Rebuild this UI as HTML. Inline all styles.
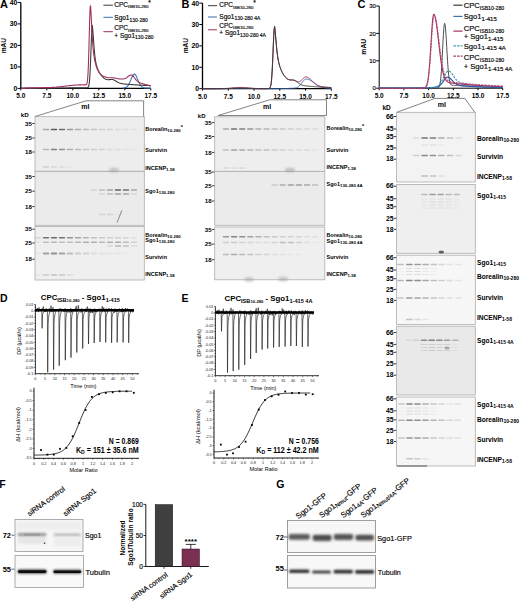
<!DOCTYPE html>
<html><head><meta charset="utf-8"><style>
html,body{margin:0;padding:0;background:#fff;}
svg{display:block;}
text{font-family:"Liberation Sans", sans-serif;}
text:not([font-weight="bold"]){stroke:#000;stroke-width:0.15px;}
</style></head><body>
<svg width="520" height="601" viewBox="0 0 520 601">
<defs>
<filter id="blur1" filterUnits="userSpaceOnUse" x="0" y="0" width="520" height="601"><feGaussianBlur stdDeviation="0.35"/></filter>
<filter id="blur2" filterUnits="userSpaceOnUse" x="0" y="0" width="520" height="601"><feGaussianBlur stdDeviation="0.9"/></filter>
</defs>
<rect width="520" height="601" fill="#fff"/>
<line x1="20.8" y1="2.4000000000000057" x2="20.8" y2="88.4" stroke="#000" stroke-width="1.3"/>
<line x1="20.8" y1="88.4" x2="150.8" y2="88.4" stroke="#000" stroke-width="1.3"/>
<line x1="17.6" y1="88.4" x2="20.8" y2="88.4" stroke="#000" stroke-width="1"/>
<text x="17.3" y="90.848" font-size="6.8" font-weight="bold" text-anchor="end" fill="#000" >0</text>
<line x1="17.6" y1="66.9" x2="20.8" y2="66.9" stroke="#000" stroke-width="1"/>
<text x="17.3" y="69.348" font-size="6.8" font-weight="bold" text-anchor="end" fill="#000" >10</text>
<line x1="17.6" y1="45.400000000000006" x2="20.8" y2="45.400000000000006" stroke="#000" stroke-width="1"/>
<text x="17.3" y="47.848000000000006" font-size="6.8" font-weight="bold" text-anchor="end" fill="#000" >20</text>
<line x1="17.6" y1="23.900000000000006" x2="20.8" y2="23.900000000000006" stroke="#000" stroke-width="1"/>
<text x="17.3" y="26.348000000000006" font-size="6.8" font-weight="bold" text-anchor="end" fill="#000" >30</text>
<line x1="17.6" y1="2.4000000000000057" x2="20.8" y2="2.4000000000000057" stroke="#000" stroke-width="1"/>
<text x="17.3" y="4.848000000000006" font-size="6.8" font-weight="bold" text-anchor="end" fill="#000" >40</text>
<line x1="20.8" y1="88.4" x2="20.8" y2="90.4" stroke="#000" stroke-width="1"/>
<text x="20.8" y="98.4" font-size="6.5" font-weight="bold" text-anchor="middle" fill="#000" >5.0</text>
<line x1="46.8" y1="88.4" x2="46.8" y2="90.4" stroke="#000" stroke-width="1"/>
<text x="46.8" y="98.4" font-size="6.5" font-weight="bold" text-anchor="middle" fill="#000" >7.5</text>
<line x1="72.8" y1="88.4" x2="72.8" y2="90.4" stroke="#000" stroke-width="1"/>
<text x="72.8" y="98.4" font-size="6.5" font-weight="bold" text-anchor="middle" fill="#000" >10.0</text>
<line x1="98.8" y1="88.4" x2="98.8" y2="90.4" stroke="#000" stroke-width="1"/>
<text x="98.8" y="98.4" font-size="6.5" font-weight="bold" text-anchor="middle" fill="#000" >12.5</text>
<line x1="124.8" y1="88.4" x2="124.8" y2="90.4" stroke="#000" stroke-width="1"/>
<text x="124.8" y="98.4" font-size="6.5" font-weight="bold" text-anchor="middle" fill="#000" >15.0</text>
<line x1="150.8" y1="88.4" x2="150.8" y2="90.4" stroke="#000" stroke-width="1"/>
<text x="150.8" y="98.4" font-size="6.5" font-weight="bold" text-anchor="middle" fill="#000" >17.5</text>
<text x="0" y="7.8" font-size="11" font-weight="bold" text-anchor="start" fill="#000" >A</text>
<text x="0" y="0" font-size="6.6" font-weight="bold" text-anchor="middle" transform="translate(6.4,45.6) rotate(-90)">mAU</text>
<polyline points="122.72,88.03 122.81,88.03 122.91,88.02 123.00,88.02 123.09,88.01 123.19,88.01 123.28,88.00 123.38,87.99 123.47,87.99 123.56,87.98 123.66,87.97 123.75,87.96 123.84,87.95 123.94,87.94 124.03,87.93 124.12,87.92 124.22,87.90 124.31,87.89 124.40,87.87 124.50,87.85 124.59,87.84 124.69,87.82 124.78,87.80 124.87,87.77 124.97,87.75 125.06,87.72 125.15,87.70 125.25,87.67 125.34,87.64 125.43,87.61 125.53,87.57 125.62,87.53 125.72,87.50 125.81,87.45 125.90,87.41 126.00,87.36 126.09,87.32 126.18,87.26 126.28,87.21 126.37,87.15 126.46,87.09 126.56,87.03 126.65,86.96 126.74,86.89 126.84,86.82 126.93,86.74 127.03,86.66 127.12,86.58 127.21,86.49 127.31,86.39 127.40,86.30 127.49,86.20 127.59,86.09 127.68,85.98 127.77,85.87 127.87,85.75 127.96,85.63 128.06,85.50 128.15,85.37 128.24,85.24 128.34,85.10 128.43,84.95 128.52,84.80 128.62,84.65 128.71,84.49 128.80,84.32 128.90,84.15 128.99,83.98 129.08,83.80 129.18,83.62 129.27,83.44 129.37,83.25 129.46,83.05 129.55,82.85 129.65,82.65 129.74,82.45 129.83,82.24 129.93,82.03 130.02,81.81 130.11,81.59 130.21,81.37 130.30,81.15 130.40,80.93 130.49,80.70 130.58,80.47 130.68,80.24 130.77,80.01 130.86,79.78 130.96,79.55 131.05,79.32 131.14,79.09 131.24,78.86 131.33,78.63 131.42,78.40 131.52,78.18 131.61,77.95 131.71,77.73 131.80,77.52 131.89,77.30 131.99,77.09 132.08,76.89 132.17,76.69 132.27,76.49 132.36,76.30 132.45,76.11 132.55,75.94 132.64,75.76 132.74,75.60 132.83,75.44 132.92,75.29 133.02,75.15 133.11,75.01 133.20,74.88 133.30,74.77 133.39,74.66 133.48,74.56 133.58,74.47 133.67,74.39 133.76,74.32 133.86,74.26 133.95,74.20 134.05,74.16 134.14,74.13 134.23,74.11 134.33,74.10 134.42,74.10 134.51,74.12 134.61,74.14 134.70,74.17 134.79,74.21 134.89,74.26 134.98,74.32 135.08,74.40 135.17,74.48 135.26,74.57 135.36,74.67 135.45,74.78 135.54,74.90 135.64,75.03 135.73,75.16 135.82,75.31 135.92,75.46 136.01,75.62 136.10,75.78 136.20,75.96 136.29,76.13 136.39,76.32 136.48,76.51 136.57,76.71 136.67,76.91 136.76,77.12 136.85,77.33 136.95,77.54 137.04,77.76 137.13,77.98 137.23,78.20 137.32,78.43 137.42,78.65 137.51,78.88 137.60,79.11 137.70,79.34 137.79,79.58 137.88,79.81 137.98,80.04 138.07,80.27 138.16,80.50 138.26,80.72 138.35,80.95 138.44,81.18 138.54,81.40 138.63,81.62 138.73,81.84 138.82,82.05 138.91,82.26 139.01,82.47 139.10,82.68 139.19,82.88 139.29,83.07 139.38,83.27 139.47,83.46 139.57,83.64 139.66,83.82 139.76,84.00 139.85,84.17 139.94,84.34 140.04,84.50 140.13,84.66 140.22,84.82 140.32,84.97 140.41,85.11 140.50,85.25 140.60,85.39 140.69,85.52 140.78,85.64 140.88,85.77 140.97,85.88 141.07,86.00 141.16,86.10 141.25,86.21 141.35,86.31 141.44,86.41 141.53,86.50 141.63,86.59 141.72,86.67 141.81,86.75 141.91,86.83 142.00,86.90 142.10,86.97 142.19,87.04 142.28,87.10 142.38,87.16 142.47,87.22 142.56,87.27 142.66,87.32 142.75,87.37 142.84,87.42 142.94,87.46 143.03,87.50 143.12,87.54 143.22,87.57 143.31,87.61 143.41,87.64 143.50,87.67 143.59,87.70 143.69,87.73 143.78,87.75 143.87,87.78 143.97,87.80 144.06,87.82 144.15,87.84 144.25,87.86 144.34,87.87 144.44,87.89 144.53,87.90 144.62,87.92 144.72,87.93 144.81,87.94 144.90,87.95 145.00,87.96 145.09,87.97 145.18,87.98 145.28,87.99 145.37,88.00 145.46,88.00 145.56,88.01 145.65,88.01 145.75,88.02 145.84,88.03 145.93,88.03 146.03,88.03 146.12,88.04 146.21,88.04 146.31,88.04 146.40,88.05 146.49,88.05 146.59,88.05 146.68,88.06 146.78,88.06 146.87,88.06 146.96,88.06 147.06,88.06 147.15,88.06 147.24,88.07 147.34,88.07 147.43,88.07 147.52,88.07 147.62,88.07 147.71,88.07 147.80,88.07 147.90,88.07 147.99,88.07 148.09,88.07 148.18,88.07 148.27,88.07 148.37,88.07 148.46,88.07 148.55,88.07 148.65,88.08 148.74,88.08 148.83,88.08 148.93,88.08 149.02,88.08 149.12,88.08 149.21,88.08 149.30,88.08 149.40,88.08 149.49,88.08 149.58,88.08 149.68,88.08 149.77,88.08 149.86,88.08 149.96,88.08 150.05,88.08 150.14,88.08 150.24,88.08 150.33,88.08 150.43,88.08 150.52,88.08 150.61,88.08 150.71,88.08 150.80,88.08" fill="none" stroke="#3a6fb5" stroke-width="1.1" stroke-linejoin="round"/>
<polyline points="20.80,88.39 21.23,88.39 21.67,88.39 22.10,88.39 22.53,88.38 22.97,88.38 23.40,88.38 23.83,88.38 24.27,88.38 24.70,88.38 25.13,88.38 25.57,88.38 26.00,88.38 26.43,88.38 26.87,88.38 27.30,88.37 27.73,88.37 28.17,88.37 28.60,88.37 29.03,88.37 29.47,88.37 29.90,88.36 30.33,88.36 30.77,88.36 31.20,88.36 31.63,88.36 32.07,88.36 32.50,88.35 32.93,88.35 33.37,88.35 33.80,88.35 34.23,88.34 34.67,88.34 35.10,88.34 35.53,88.33 35.97,88.33 36.40,88.33 36.83,88.33 37.27,88.32 37.70,88.32 38.13,88.31 38.57,88.31 39.00,88.31 39.43,88.30 39.87,88.30 40.30,88.29 40.73,88.29 41.17,88.29 41.60,88.28 42.03,88.28 42.47,88.27 42.90,88.27 43.33,88.26 43.77,88.25 44.20,88.25 44.63,88.24 45.07,88.24 45.50,88.23 45.93,88.23 46.37,88.22 46.80,88.21 47.23,88.21 47.67,88.20 48.10,88.19 48.53,88.19 48.97,88.18 49.40,88.17 49.83,88.17 50.27,88.16 50.70,88.15 51.13,88.15 51.57,88.14 52.00,88.13 52.43,88.12 52.87,88.12 53.30,88.11 53.73,88.10 54.17,88.10 54.60,88.09 55.03,88.08 55.47,88.08 55.90,88.07 56.33,88.06 56.77,88.06 57.20,88.05 57.63,88.04 58.07,88.04 58.50,88.03 58.93,88.03 59.37,88.02 59.80,88.01 60.23,88.01 60.67,88.00 61.10,88.00 61.53,87.99 61.97,87.99 62.40,87.98 62.83,87.98 63.27,87.97 63.70,87.97 64.13,87.96 64.57,87.96 65.00,87.96 65.43,87.95 65.87,87.95 66.30,87.94 66.73,87.94 67.17,87.94 67.60,87.93 68.03,87.93 68.47,87.93 68.90,87.92 69.33,87.92 69.77,87.92 70.20,87.92 70.63,87.91 71.07,87.91 71.50,87.91 71.93,87.91 72.37,87.91 72.80,87.90 73.23,87.90 73.67,87.90 74.10,87.90 74.53,87.90 74.97,87.89 75.40,87.89 75.83,87.89 76.27,87.89 76.70,87.89 77.13,87.89 77.57,87.89 78.00,87.88 78.43,87.88 78.87,87.88 79.30,87.88 79.73,87.88 80.17,87.88 80.60,87.88 81.03,87.87 81.47,87.87 81.90,87.87 82.33,87.87 82.77,87.86 83.20,87.86 83.63,87.86 84.07,87.85 84.50,87.85 84.93,87.84 85.37,87.83 85.80,87.83 86.23,87.81 86.67,87.79 87.10,87.76 87.53,87.66 87.97,87.43 88.40,86.86 88.83,85.60 89.27,83.07 89.70,78.56 90.13,71.44 90.57,61.59 91.00,49.84 91.43,38.15 91.87,29.14 92.30,25.19 92.73,29.22 93.17,34.80 93.60,40.84 94.03,46.73 94.47,51.93 94.90,56.20 95.33,59.54 95.77,62.12 96.20,64.14 96.63,65.78 97.07,67.17 97.50,68.38 97.93,69.47 98.37,70.45 98.80,71.34 99.23,72.17 99.67,72.93 100.10,73.64 100.53,74.30 100.97,74.92 101.40,75.49 101.83,76.03 102.27,76.53 102.70,76.99 103.13,77.41 103.57,77.80 104.00,78.15 104.43,78.46 104.87,78.74 105.30,78.98 105.73,79.18 106.17,79.35 106.60,79.49 107.03,79.58 107.47,79.65 107.90,79.68 108.33,79.69 108.77,79.67 109.20,79.64 109.63,79.60 110.07,79.55 110.50,79.51 110.93,79.48 111.37,79.46 111.80,79.47 112.23,79.51 112.67,79.58 113.10,79.68 113.53,79.81 113.97,79.98 114.40,80.18 114.83,80.40 115.27,80.65 115.70,80.91 116.13,81.17 116.57,81.44 117.00,81.71 117.43,81.96 117.87,82.21 118.30,82.44 118.73,82.65 119.17,82.84 119.60,83.01 120.03,83.16 120.47,83.30 120.90,83.41 121.33,83.52 121.77,83.61 122.20,83.69 122.63,83.76 123.07,83.82 123.50,83.88 123.93,83.93 124.37,83.98 124.80,84.03 125.23,84.07 125.67,84.11 126.10,84.15 126.53,84.19 126.97,84.23 127.40,84.26 127.83,84.30 128.27,84.33 128.70,84.37 129.13,84.40 129.57,84.44 130.00,84.47 130.43,84.50 130.87,84.53 131.30,84.57 131.73,84.60 132.17,84.63 132.60,84.66 133.03,84.69 133.47,84.72 133.90,84.75 134.33,84.78 134.77,84.81 135.20,84.83 135.63,84.86 136.07,84.89 136.50,84.92 136.93,84.95 137.37,84.97 137.80,85.00 138.23,85.03 138.67,85.05 139.10,85.08 139.53,85.10 139.97,85.13 140.40,85.16 140.83,85.18 141.27,85.21 141.70,85.23 142.13,85.25 142.57,85.28 143.00,85.30 143.43,85.33 143.87,85.35 144.30,85.37 144.73,85.40 145.17,85.42 145.60,85.44 146.03,85.46 146.47,85.49 146.90,85.51 147.33,85.53 147.77,85.55 148.20,85.57 148.63,85.59 149.07,85.61 149.50,85.63 149.93,85.66 150.37,85.68 150.80,85.70" fill="none" stroke="#3a3a3a" stroke-width="1.1" stroke-linejoin="round"/>
<polyline points="20.80,88.30 21.23,88.28 21.67,88.27 22.10,88.25 22.53,88.24 22.97,88.22 23.40,88.20 23.83,88.18 24.27,88.16 24.70,88.14 25.13,88.12 25.57,88.09 26.00,88.07 26.43,88.05 26.87,88.03 27.30,88.00 27.73,87.98 28.17,87.96 28.60,87.94 29.03,87.92 29.47,87.90 29.90,87.89 30.33,87.87 30.77,87.86 31.20,87.84 31.63,87.83 32.07,87.82 32.50,87.81 32.93,87.80 33.37,87.79 33.80,87.78 34.23,87.78 34.67,87.77 35.10,87.76 35.53,87.76 35.97,87.75 36.40,87.75 36.83,87.74 37.27,87.74 37.70,87.73 38.13,87.73 38.57,87.72 39.00,87.72 39.43,87.72 39.87,87.71 40.30,87.71 40.73,87.70 41.17,87.70 41.60,87.69 42.03,87.69 42.47,87.68 42.90,87.67 43.33,87.67 43.77,87.66 44.20,87.65 44.63,87.65 45.07,87.64 45.50,87.63 45.93,87.62 46.37,87.61 46.80,87.60 47.23,87.59 47.67,87.58 48.10,87.57 48.53,87.56 48.97,87.54 49.40,87.53 49.83,87.51 50.27,87.50 50.70,87.48 51.13,87.46 51.57,87.44 52.00,87.42 52.43,87.40 52.87,87.38 53.30,87.36 53.73,87.33 54.17,87.31 54.60,87.28 55.03,87.25 55.47,87.22 55.90,87.19 56.33,87.15 56.77,87.12 57.20,87.08 57.63,87.04 58.07,87.01 58.50,86.96 58.93,86.92 59.37,86.88 59.80,86.83 60.23,86.79 60.67,86.74 61.10,86.69 61.53,86.64 61.97,86.59 62.40,86.54 62.83,86.48 63.27,86.43 63.70,86.38 64.13,86.32 64.57,86.27 65.00,86.21 65.43,86.15 65.87,86.10 66.30,86.04 66.73,85.99 67.17,85.93 67.60,85.88 68.03,85.82 68.47,85.77 68.90,85.72 69.33,85.67 69.77,85.62 70.20,85.57 70.63,85.52 71.07,85.47 71.50,85.43 71.93,85.38 72.37,85.34 72.80,85.30 73.23,85.26 73.67,85.22 74.10,85.19 74.53,85.15 74.97,85.12 75.40,85.09 75.83,85.06 76.27,85.03 76.70,85.01 77.13,84.98 77.57,84.96 78.00,84.94 78.43,84.92 78.87,84.90 79.30,84.88 79.73,84.87 80.17,84.86 80.60,84.85 81.03,84.84 81.47,84.83 81.90,84.82 82.33,84.82 82.77,84.82 83.20,84.82 83.63,84.83 84.07,84.83 84.50,84.84 84.93,84.85 85.37,84.85 85.80,84.81 86.23,84.66 86.67,84.17 87.10,82.89 87.53,80.01 87.97,74.40 88.40,64.93 88.83,51.31 89.27,34.84 89.70,18.81 90.13,7.58 90.57,5.71 91.00,12.60 91.43,20.81 91.87,29.35 92.30,37.21 92.73,43.81 93.17,49.02 93.60,53.05 94.03,56.22 94.47,58.82 94.90,61.03 95.33,62.95 95.77,64.64 96.20,66.13 96.63,67.45 97.07,68.61 97.50,69.63 97.93,70.53 98.37,71.31 98.80,72.00 99.23,72.61 99.67,73.15 100.10,73.64 100.53,74.07 100.97,74.46 101.40,74.81 101.83,75.14 102.27,75.44 102.70,75.71 103.13,75.96 103.57,76.20 104.00,76.42 104.43,76.62 104.87,76.80 105.30,76.97 105.73,77.12 106.17,77.26 106.60,77.38 107.03,77.49 107.47,77.58 107.90,77.65 108.33,77.71 108.77,77.75 109.20,77.78 109.63,77.80 110.07,77.81 110.50,77.80 110.93,77.80 111.37,77.79 111.80,77.79 112.23,77.80 112.67,77.81 113.10,77.84 113.53,77.87 113.97,77.92 114.40,77.99 114.83,78.06 115.27,78.15 115.70,78.24 116.13,78.33 116.57,78.42 117.00,78.51 117.43,78.60 117.87,78.68 118.30,78.75 118.73,78.82 119.17,78.87 119.60,78.92 120.03,78.95 120.47,78.98 120.90,79.00 121.33,79.01 121.77,79.01 122.20,79.00 122.63,78.97 123.07,78.94 123.50,78.88 123.93,78.80 124.37,78.70 124.80,78.56 125.23,78.40 125.67,78.19 126.10,77.96 126.53,77.69 126.97,77.39 127.40,77.06 127.83,76.73 128.27,76.38 128.70,76.05 129.13,75.75 129.57,75.49 130.00,75.28 130.43,75.13 130.87,75.07 131.30,75.07 131.73,75.16 132.17,75.32 132.60,75.54 133.03,75.82 133.47,76.37 133.90,76.99 134.33,77.61 134.77,78.21 135.20,78.79 135.63,79.34 136.07,79.84 136.50,80.31 136.93,80.73 137.37,81.11 137.80,81.45 138.23,81.76 138.67,82.03 139.10,82.28 139.53,82.51 139.97,82.72 140.40,82.91 140.83,83.09 141.27,83.26 141.70,83.42 142.13,83.57 142.57,83.72 143.00,83.85 143.43,83.99 143.87,84.12 144.30,84.24 144.73,84.36 145.17,84.48 145.60,84.59 146.03,84.70 146.47,84.80 146.90,84.90 147.33,85.00 147.77,85.10 148.20,85.19 148.63,85.27 149.07,85.36 149.50,85.44 149.93,85.52 150.37,85.60 150.80,85.67" fill="none" stroke="#a03060" stroke-width="1.1" stroke-linejoin="round"/>
<line x1="103.4" y1="5.2" x2="112.9" y2="5.2" stroke="#3a3a3a" stroke-width="1.0"/>
<line x1="103.4" y1="17.3" x2="112.9" y2="17.3" stroke="#3a6fb5" stroke-width="1.0"/>
<line x1="103.4" y1="31.7" x2="112.9" y2="31.7" stroke="#a03060" stroke-width="1.0"/>
<text x="114.3" y="6.7" font-size="6.5">CPC<tspan font-size="4.3" dy="1.5">ISB10-280</tspan><tspan dy="-3.5">*</tspan></text>
<text x="114.3" y="20.2" font-size="6.5">Sgo1<tspan font-size="5" dy="1.5">130-280</tspan></text>
<text x="114.3" y="30.2" font-size="6.5">CPC<tspan font-size="4.3" dy="1.5">ISB10-280</tspan></text>
<text x="114.3" y="37.5" font-size="6.5">+ Sgo1<tspan font-size="5" dy="1.5">130-280</tspan></text>
<line x1="202.5" y1="3.0999999999999943" x2="202.5" y2="88.7" stroke="#000" stroke-width="1.3"/>
<line x1="202.5" y1="88.7" x2="331.3" y2="88.7" stroke="#000" stroke-width="1.3"/>
<line x1="199.3" y1="88.7" x2="202.5" y2="88.7" stroke="#000" stroke-width="1"/>
<text x="199.0" y="91.148" font-size="6.8" font-weight="bold" text-anchor="end" fill="#000" >0</text>
<line x1="199.3" y1="67.3" x2="202.5" y2="67.3" stroke="#000" stroke-width="1"/>
<text x="199.0" y="69.74799999999999" font-size="6.8" font-weight="bold" text-anchor="end" fill="#000" >10</text>
<line x1="199.3" y1="45.9" x2="202.5" y2="45.9" stroke="#000" stroke-width="1"/>
<text x="199.0" y="48.348" font-size="6.8" font-weight="bold" text-anchor="end" fill="#000" >20</text>
<line x1="199.3" y1="24.5" x2="202.5" y2="24.5" stroke="#000" stroke-width="1"/>
<text x="199.0" y="26.948" font-size="6.8" font-weight="bold" text-anchor="end" fill="#000" >30</text>
<line x1="199.3" y1="3.0999999999999943" x2="202.5" y2="3.0999999999999943" stroke="#000" stroke-width="1"/>
<text x="199.0" y="5.547999999999995" font-size="6.8" font-weight="bold" text-anchor="end" fill="#000" >40</text>
<line x1="202.5" y1="88.7" x2="202.5" y2="90.7" stroke="#000" stroke-width="1"/>
<text x="202.5" y="98.7" font-size="6.5" font-weight="bold" text-anchor="middle" fill="#000" >5.0</text>
<line x1="228.26" y1="88.7" x2="228.26" y2="90.7" stroke="#000" stroke-width="1"/>
<text x="228.26" y="98.7" font-size="6.5" font-weight="bold" text-anchor="middle" fill="#000" >7.5</text>
<line x1="254.02" y1="88.7" x2="254.02" y2="90.7" stroke="#000" stroke-width="1"/>
<text x="254.02" y="98.7" font-size="6.5" font-weight="bold" text-anchor="middle" fill="#000" >10.0</text>
<line x1="279.78" y1="88.7" x2="279.78" y2="90.7" stroke="#000" stroke-width="1"/>
<text x="279.78" y="98.7" font-size="6.5" font-weight="bold" text-anchor="middle" fill="#000" >12.5</text>
<line x1="305.54" y1="88.7" x2="305.54" y2="90.7" stroke="#000" stroke-width="1"/>
<text x="305.54" y="98.7" font-size="6.5" font-weight="bold" text-anchor="middle" fill="#000" >15.0</text>
<line x1="331.3" y1="88.7" x2="331.3" y2="90.7" stroke="#000" stroke-width="1"/>
<text x="331.3" y="98.7" font-size="6.5" font-weight="bold" text-anchor="middle" fill="#000" >17.5</text>
<text x="181.5" y="7.8" font-size="11" font-weight="bold" text-anchor="start" fill="#000" >B</text>
<text x="0" y="0" font-size="6.6" font-weight="bold" text-anchor="middle" transform="translate(188,45.6) rotate(-90)">mAU</text>
<polyline points="202.50,88.70 202.93,88.70 203.36,88.70 203.79,88.70 204.22,88.70 204.65,88.70 205.08,88.70 205.51,88.70 205.93,88.70 206.36,88.70 206.79,88.70 207.22,88.70 207.65,88.70 208.08,88.70 208.51,88.70 208.94,88.70 209.37,88.70 209.80,88.70 210.23,88.70 210.66,88.70 211.09,88.70 211.52,88.70 211.95,88.70 212.37,88.70 212.80,88.70 213.23,88.70 213.66,88.70 214.09,88.70 214.52,88.70 214.95,88.70 215.38,88.70 215.81,88.70 216.24,88.69 216.67,88.69 217.10,88.69 217.53,88.69 217.96,88.69 218.39,88.69 218.81,88.69 219.24,88.69 219.67,88.68 220.10,88.68 220.53,88.68 220.96,88.68 221.39,88.67 221.82,88.67 222.25,88.66 222.68,88.66 223.11,88.66 223.54,88.65 223.97,88.64 224.40,88.64 224.83,88.63 225.25,88.62 225.68,88.62 226.11,88.61 226.54,88.60 226.97,88.59 227.40,88.58 227.83,88.57 228.26,88.56 228.69,88.55 229.12,88.54 229.55,88.53 229.98,88.51 230.41,88.50 230.84,88.49 231.27,88.48 231.69,88.46 232.12,88.45 232.55,88.43 232.98,88.42 233.41,88.41 233.84,88.39 234.27,88.38 234.70,88.37 235.13,88.36 235.56,88.35 235.99,88.33 236.42,88.32 236.85,88.31 237.28,88.31 237.71,88.30 238.13,88.29 238.56,88.29 238.99,88.28 239.42,88.28 239.85,88.27 240.28,88.27 240.71,88.27 241.14,88.27 241.57,88.27 242.00,88.28 242.43,88.28 242.86,88.29 243.29,88.29 243.72,88.30 244.15,88.31 244.57,88.32 245.00,88.33 245.43,88.34 245.86,88.35 246.29,88.36 246.72,88.37 247.15,88.39 247.58,88.40 248.01,88.41 248.44,88.43 248.87,88.44 249.30,88.45 249.73,88.47 250.16,88.48 250.59,88.49 251.01,88.51 251.44,88.52 251.87,88.53 252.30,88.54 252.73,88.55 253.16,88.56 253.59,88.57 254.02,88.58 254.45,88.59 254.88,88.60 255.31,88.61 255.74,88.62 256.17,88.63 256.60,88.63 257.03,88.64 257.45,88.64 257.88,88.65 258.31,88.65 258.74,88.66 259.17,88.66 259.60,88.67 260.03,88.67 260.46,88.67 260.89,88.68 261.32,88.68 261.75,88.68 262.18,88.68 262.61,88.68 263.04,88.68 263.47,88.68 263.89,88.69 264.32,88.69 264.75,88.69 265.18,88.69 265.61,88.69 266.04,88.69 266.47,88.69 266.90,88.69 267.33,88.69 267.76,88.69 268.19,88.69 268.62,88.68 269.05,88.68 269.48,88.68 269.91,88.68 270.33,88.68 270.76,88.68 271.19,88.68 271.62,88.68 272.05,88.67 272.48,88.67 272.91,88.67 273.34,88.67 273.77,88.67 274.20,88.66 274.63,88.66 275.06,88.66 275.49,88.66 275.92,88.65 276.35,88.65 276.77,88.65 277.20,88.64 277.63,88.64 278.06,88.64 278.49,88.63 278.92,88.63 279.35,88.62 279.78,88.62 280.21,88.61 280.64,88.60 281.07,88.60 281.50,88.59 281.93,88.58 282.36,88.58 282.79,88.57 283.21,88.56 283.64,88.55 284.07,88.54 284.50,88.53 284.93,88.52 285.36,88.51 285.79,88.50 286.22,88.49 286.65,88.48 287.08,88.46 287.51,88.45 287.94,88.44 288.37,88.42 288.80,88.41 289.23,88.39 289.65,88.37 290.08,88.36 290.51,88.34 290.94,88.32 291.37,88.30 291.80,88.28 292.23,88.26 292.66,88.24 293.09,88.21 293.52,88.17 293.95,88.14 294.38,88.09 294.81,88.04 295.24,87.97 295.67,87.88 296.09,87.78 296.52,87.66 296.95,87.51 297.38,87.33 297.81,87.11 298.24,86.85 298.67,86.55 299.10,86.20 299.53,85.81 299.96,85.37 300.39,84.88 300.82,84.36 301.25,83.80 301.68,83.22 302.11,82.62 302.53,82.02 302.96,81.44 303.39,80.88 303.82,80.38 304.25,79.94 304.68,79.57 305.11,79.29 305.54,79.11 305.97,79.04 306.40,79.05 306.83,79.09 307.26,79.16 307.69,79.25 308.12,79.37 308.55,79.52 308.97,79.69 309.40,79.88 309.83,80.09 310.26,80.33 310.69,80.57 311.12,80.84 311.55,81.11 311.98,81.40 312.41,81.70 312.84,82.00 313.27,82.31 313.70,82.61 314.13,82.92 314.56,83.23 314.99,83.54 315.41,83.84 315.84,84.13 316.27,84.42 316.70,84.69 317.13,84.96 317.56,85.22 317.99,85.47 318.42,85.70 318.85,85.92 319.28,86.13 319.71,86.33 320.14,86.52 320.57,86.69 321.00,86.85 321.43,87.00 321.85,87.14 322.28,87.27 322.71,87.38 323.14,87.49 323.57,87.59 324.00,87.67 324.43,87.75 324.86,87.83 325.29,87.89 325.72,87.95 326.15,88.00 326.58,88.05 327.01,88.09 327.44,88.13 327.87,88.16 328.29,88.19 328.72,88.22 329.15,88.24 329.58,88.26 330.01,88.28 330.44,88.30 330.87,88.31 331.30,88.32" fill="none" stroke="#3a6fb5" stroke-width="1.0" stroke-linejoin="round"/>
<polyline points="202.50,88.70 202.93,88.70 203.36,88.70 203.79,88.70 204.22,88.70 204.65,88.70 205.08,88.70 205.51,88.70 205.93,88.70 206.36,88.70 206.79,88.70 207.22,88.70 207.65,88.70 208.08,88.70 208.51,88.70 208.94,88.70 209.37,88.70 209.80,88.70 210.23,88.70 210.66,88.70 211.09,88.70 211.52,88.70 211.95,88.70 212.37,88.70 212.80,88.70 213.23,88.69 213.66,88.69 214.09,88.69 214.52,88.69 214.95,88.69 215.38,88.69 215.81,88.69 216.24,88.68 216.67,88.68 217.10,88.68 217.53,88.67 217.96,88.67 218.39,88.67 218.81,88.66 219.24,88.66 219.67,88.65 220.10,88.64 220.53,88.63 220.96,88.63 221.39,88.62 221.82,88.60 222.25,88.59 222.68,88.58 223.11,88.57 223.54,88.55 223.97,88.53 224.40,88.52 224.83,88.50 225.25,88.47 225.68,88.45 226.11,88.43 226.54,88.40 226.97,88.37 227.40,88.35 227.83,88.31 228.26,88.28 228.69,88.25 229.12,88.22 229.55,88.18 229.98,88.14 230.41,88.10 230.84,88.07 231.27,88.03 231.69,87.99 232.12,87.95 232.55,87.90 232.98,87.86 233.41,87.82 233.84,87.78 234.27,87.75 234.70,87.71 235.13,87.67 235.56,87.64 235.99,87.60 236.42,87.57 236.85,87.54 237.28,87.52 237.71,87.49 238.13,87.47 238.56,87.46 238.99,87.44 239.42,87.43 239.85,87.42 240.28,87.42 240.71,87.42 241.14,87.42 241.57,87.42 242.00,87.43 242.43,87.45 242.86,87.46 243.29,87.48 243.72,87.50 244.15,87.53 244.57,87.56 245.00,87.58 245.43,87.62 245.86,87.65 246.29,87.69 246.72,87.72 247.15,87.76 247.58,87.80 248.01,87.84 248.44,87.88 248.87,87.92 249.30,87.96 249.73,88.00 250.16,88.04 250.59,88.08 251.01,88.12 251.44,88.16 251.87,88.19 252.30,88.23 252.73,88.26 253.16,88.30 253.59,88.33 254.02,88.36 254.45,88.38 254.88,88.41 255.31,88.44 255.74,88.46 256.17,88.48 256.60,88.50 257.03,88.52 257.45,88.54 257.88,88.55 258.31,88.57 258.74,88.58 259.17,88.59 259.60,88.60 260.03,88.61 260.46,88.62 260.89,88.63 261.32,88.63 261.75,88.64 262.18,88.64 262.61,88.64 263.04,88.64 263.47,88.64 263.89,88.64 264.32,88.64 264.75,88.64 265.18,88.63 265.61,88.63 266.04,88.62 266.47,88.61 266.90,88.60 267.33,88.58 267.76,88.56 268.19,88.54 268.62,88.49 269.05,88.41 269.48,88.23 269.91,87.86 270.33,87.10 270.76,85.66 271.19,83.12 271.62,79.01 272.05,72.94 272.48,64.82 272.91,55.07 273.34,44.77 273.77,35.48 274.20,28.93 274.63,26.48 275.06,30.54 275.49,35.11 275.92,39.96 276.35,44.75 276.77,49.19 277.20,53.10 277.63,56.39 278.06,59.12 278.49,61.37 278.92,63.25 279.35,64.86 279.78,66.28 280.21,67.56 280.64,68.72 281.07,69.79 281.50,70.78 281.93,71.71 282.36,72.57 282.79,73.37 283.21,74.12 283.64,74.82 284.07,75.47 284.50,76.07 284.93,76.63 285.36,77.15 285.79,77.61 286.22,78.04 286.65,78.42 287.08,78.75 287.51,79.04 287.94,79.28 288.37,79.48 288.80,79.64 289.23,79.76 289.65,79.85 290.08,79.91 290.51,79.94 290.94,79.95 291.37,79.95 291.80,79.96 292.23,79.96 292.66,79.98 293.09,80.03 293.52,80.09 293.95,80.18 294.38,80.30 294.81,80.45 295.24,80.62 295.67,80.81 296.09,81.00 296.52,81.20 296.95,81.38 297.38,81.54 297.81,81.67 298.24,81.75 298.67,81.77 299.10,81.74 299.53,81.63 299.96,81.46 300.39,81.22 300.82,80.92 301.25,80.55 301.68,80.14 302.11,79.70 302.53,79.24 302.96,78.77 303.39,78.32 303.82,77.91 304.25,77.54 304.68,77.25 305.11,77.04 305.54,76.92 305.97,76.90 306.40,76.96 306.83,77.07 307.26,77.21 307.69,77.40 308.12,77.62 308.55,77.88 308.97,78.16 309.40,78.48 309.83,78.83 310.26,79.19 310.69,79.57 311.12,79.97 311.55,80.37 311.98,80.78 312.41,81.20 312.84,81.61 313.27,82.01 313.70,82.41 314.13,82.79 314.56,83.16 314.99,83.52 315.41,83.86 315.84,84.18 316.27,84.48 316.70,84.76 317.13,85.02 317.56,85.26 317.99,85.49 318.42,85.69 318.85,85.88 319.28,86.05 319.71,86.20 320.14,86.34 320.57,86.46 321.00,86.57 321.43,86.67 321.85,86.76 322.28,86.84 322.71,86.91 323.14,86.97 323.57,87.03 324.00,87.08 324.43,87.12 324.86,87.16 325.29,87.20 325.72,87.23 326.15,87.27 326.58,87.29 327.01,87.32 327.44,87.35 327.87,87.37 328.29,87.39 328.72,87.41 329.15,87.43 329.58,87.45 330.01,87.47 330.44,87.49 330.87,87.51 331.30,87.52" fill="none" stroke="#a03060" stroke-width="1.0" stroke-linejoin="round"/>
<polyline points="202.50,88.70 202.93,88.70 203.36,88.70 203.79,88.70 204.22,88.70 204.65,88.70 205.08,88.70 205.51,88.70 205.93,88.70 206.36,88.70 206.79,88.70 207.22,88.70 207.65,88.70 208.08,88.70 208.51,88.70 208.94,88.70 209.37,88.70 209.80,88.70 210.23,88.70 210.66,88.70 211.09,88.70 211.52,88.70 211.95,88.70 212.37,88.70 212.80,88.70 213.23,88.70 213.66,88.70 214.09,88.70 214.52,88.70 214.95,88.69 215.38,88.69 215.81,88.69 216.24,88.69 216.67,88.69 217.10,88.69 217.53,88.69 217.96,88.69 218.39,88.68 218.81,88.68 219.24,88.68 219.67,88.67 220.10,88.67 220.53,88.67 220.96,88.66 221.39,88.66 221.82,88.65 222.25,88.65 222.68,88.64 223.11,88.63 223.54,88.63 223.97,88.62 224.40,88.61 224.83,88.60 225.25,88.59 225.68,88.58 226.11,88.56 226.54,88.55 226.97,88.54 227.40,88.52 227.83,88.51 228.26,88.49 228.69,88.47 229.12,88.46 229.55,88.44 229.98,88.42 230.41,88.40 230.84,88.38 231.27,88.36 231.69,88.34 232.12,88.32 232.55,88.30 232.98,88.28 233.41,88.26 233.84,88.24 234.27,88.22 234.70,88.20 235.13,88.19 235.56,88.17 235.99,88.15 236.42,88.14 236.85,88.12 237.28,88.11 237.71,88.10 238.13,88.09 238.56,88.08 238.99,88.07 239.42,88.06 239.85,88.06 240.28,88.06 240.71,88.06 241.14,88.06 241.57,88.06 242.00,88.07 242.43,88.07 242.86,88.08 243.29,88.09 243.72,88.10 244.15,88.11 244.57,88.13 245.00,88.14 245.43,88.16 245.86,88.18 246.29,88.19 246.72,88.21 247.15,88.23 247.58,88.25 248.01,88.27 248.44,88.29 248.87,88.31 249.30,88.33 249.73,88.35 250.16,88.37 250.59,88.39 251.01,88.41 251.44,88.43 251.87,88.45 252.30,88.46 252.73,88.48 253.16,88.50 253.59,88.51 254.02,88.53 254.45,88.54 254.88,88.55 255.31,88.57 255.74,88.58 256.17,88.59 256.60,88.60 257.03,88.61 257.45,88.62 257.88,88.62 258.31,88.63 258.74,88.64 259.17,88.64 259.60,88.65 260.03,88.65 260.46,88.65 260.89,88.66 261.32,88.66 261.75,88.66 262.18,88.66 262.61,88.66 263.04,88.66 263.47,88.66 263.89,88.66 264.32,88.65 264.75,88.65 265.18,88.64 265.61,88.63 266.04,88.63 266.47,88.61 266.90,88.60 267.33,88.59 267.76,88.57 268.19,88.54 268.62,88.50 269.05,88.41 269.48,88.23 269.91,87.86 270.33,87.10 270.76,85.66 271.19,83.12 271.62,79.01 272.05,72.94 272.48,64.82 272.91,55.07 273.34,44.77 273.77,35.48 274.20,28.93 274.63,26.48 275.06,30.54 275.49,35.11 275.92,39.96 276.35,44.75 276.77,49.19 277.20,53.10 277.63,56.39 278.06,59.12 278.49,61.37 278.92,63.25 279.35,64.86 279.78,66.28 280.21,67.56 280.64,68.72 281.07,69.79 281.50,70.78 281.93,71.71 282.36,72.57 282.79,73.37 283.21,74.12 283.64,74.82 284.07,75.47 284.50,76.07 284.93,76.63 285.36,77.15 285.79,77.61 286.22,78.04 286.65,78.42 287.08,78.75 287.51,79.04 287.94,79.28 288.37,79.48 288.80,79.64 289.23,79.77 289.65,79.85 290.08,79.91 290.51,79.94 290.94,79.96 291.37,79.96 291.80,79.97 292.23,79.98 292.66,80.01 293.09,80.06 293.52,80.14 293.95,80.26 294.38,80.41 294.81,80.59 295.24,80.82 295.67,81.07 296.09,81.35 296.52,81.66 296.95,81.98 297.38,82.31 297.81,82.65 298.24,82.97 298.67,83.29 299.10,83.59 299.53,83.88 299.96,84.14 300.39,84.38 300.82,84.59 301.25,84.78 301.68,84.95 302.11,85.10 302.53,85.24 302.96,85.35 303.39,85.46 303.82,85.55 304.25,85.63 304.68,85.70 305.11,85.77 305.54,85.83 305.97,85.88 306.40,85.93 306.83,85.98 307.26,86.03 307.69,86.08 308.12,86.12 308.55,86.16 308.97,86.20 309.40,86.24 309.83,86.28 310.26,86.32 310.69,86.36 311.12,86.39 311.55,86.43 311.98,86.46 312.41,86.50 312.84,86.53 313.27,86.56 313.70,86.59 314.13,86.63 314.56,86.66 314.99,86.69 315.41,86.72 315.84,86.74 316.27,86.77 316.70,86.80 317.13,86.83 317.56,86.85 317.99,86.88 318.42,86.91 318.85,86.93 319.28,86.96 319.71,86.98 320.14,87.01 320.57,87.03 321.00,87.05 321.43,87.08 321.85,87.10 322.28,87.12 322.71,87.15 323.14,87.17 323.57,87.19 324.00,87.21 324.43,87.23 324.86,87.25 325.29,87.27 325.72,87.29 326.15,87.31 326.58,87.33 327.01,87.35 327.44,87.37 327.87,87.39 328.29,87.41 328.72,87.42 329.15,87.44 329.58,87.46 330.01,87.48 330.44,87.49 330.87,87.51 331.30,87.53" fill="none" stroke="#3a3a3a" stroke-width="1.0" stroke-linejoin="round"/>
<line x1="208" y1="5.7" x2="217" y2="5.7" stroke="#3a3a3a" stroke-width="1.0"/>
<line x1="208" y1="17" x2="217" y2="17" stroke="#3a6fb5" stroke-width="1.0"/>
<line x1="208" y1="29.8" x2="217" y2="29.8" stroke="#a03060" stroke-width="1.0"/>
<text x="219.3" y="7.0" font-size="6.5">CPC<tspan font-size="4.3" dy="1.5">ISB10-280</tspan><tspan dy="-3.5">*</tspan></text>
<text x="219.3" y="18.8" font-size="6.5">Sgo1<tspan font-size="5" dy="1.5">130-280 4A</tspan></text>
<text x="219.3" y="27.6" font-size="6.5">CPC<tspan font-size="4.3" dy="1.5">ISB10-280</tspan></text>
<text x="219.3" y="35.2" font-size="6.5">+ Sgo1<tspan font-size="5" dy="1.5">130-280 4A</tspan></text>
<line x1="379.2" y1="6.0" x2="379.2" y2="88.2" stroke="#000" stroke-width="1.0"/>
<line x1="379.2" y1="88.2" x2="502.7" y2="88.2" stroke="#000" stroke-width="1.0"/>
<line x1="376.2" y1="88.2" x2="379.2" y2="88.2" stroke="#000" stroke-width="1"/>
<text x="375.9" y="90.36" font-size="6.0" font-weight="normal" text-anchor="end" fill="#000" >0</text>
<line x1="376.2" y1="60.8" x2="379.2" y2="60.8" stroke="#000" stroke-width="1"/>
<text x="375.9" y="62.959999999999994" font-size="6.0" font-weight="normal" text-anchor="end" fill="#000" >10</text>
<line x1="376.2" y1="33.4" x2="379.2" y2="33.4" stroke="#000" stroke-width="1"/>
<text x="375.9" y="35.56" font-size="6.0" font-weight="normal" text-anchor="end" fill="#000" >20</text>
<line x1="376.2" y1="6.0" x2="379.2" y2="6.0" stroke="#000" stroke-width="1"/>
<text x="375.9" y="8.16" font-size="6.0" font-weight="normal" text-anchor="end" fill="#000" >30</text>
<line x1="379.2" y1="88.2" x2="379.2" y2="90.2" stroke="#000" stroke-width="1"/>
<text x="379.2" y="98.2" font-size="6.5" font-weight="bold" text-anchor="middle" fill="#000" >5.0</text>
<line x1="403.9" y1="88.2" x2="403.9" y2="90.2" stroke="#000" stroke-width="1"/>
<text x="403.9" y="98.2" font-size="6.5" font-weight="bold" text-anchor="middle" fill="#000" >7.5</text>
<line x1="428.59999999999997" y1="88.2" x2="428.59999999999997" y2="90.2" stroke="#000" stroke-width="1"/>
<text x="428.59999999999997" y="98.2" font-size="6.5" font-weight="bold" text-anchor="middle" fill="#000" >10.0</text>
<line x1="453.29999999999995" y1="88.2" x2="453.29999999999995" y2="90.2" stroke="#000" stroke-width="1"/>
<text x="453.29999999999995" y="98.2" font-size="6.5" font-weight="bold" text-anchor="middle" fill="#000" >12.5</text>
<line x1="478.0" y1="88.2" x2="478.0" y2="90.2" stroke="#000" stroke-width="1"/>
<text x="478.0" y="98.2" font-size="6.5" font-weight="bold" text-anchor="middle" fill="#000" >15.0</text>
<line x1="502.7" y1="88.2" x2="502.7" y2="90.2" stroke="#000" stroke-width="1"/>
<text x="502.7" y="98.2" font-size="6.5" font-weight="bold" text-anchor="middle" fill="#000" >17.5</text>
<text x="357.5" y="7.7" font-size="11" font-weight="bold" text-anchor="start" fill="#000" >C</text>
<text x="0" y="0" font-size="6.8" font-weight="bold" text-anchor="middle" transform="translate(365.5,46.7) rotate(-90)">mAU</text>
<polyline points="379.20,88.20 379.61,88.20 380.02,88.20 380.44,88.20 380.85,88.20 381.26,88.20 381.67,88.20 382.08,88.20 382.49,88.20 382.90,88.20 383.32,88.20 383.73,88.20 384.14,88.20 384.55,88.20 384.96,88.20 385.38,88.20 385.79,88.20 386.20,88.20 386.61,88.20 387.02,88.20 387.43,88.20 387.84,88.20 388.26,88.20 388.67,88.20 389.08,88.20 389.49,88.20 389.90,88.20 390.31,88.20 390.73,88.20 391.14,88.20 391.55,88.20 391.96,88.20 392.37,88.20 392.78,88.20 393.20,88.20 393.61,88.20 394.02,88.20 394.43,88.20 394.84,88.20 395.25,88.20 395.67,88.20 396.08,88.20 396.49,88.20 396.90,88.20 397.31,88.20 397.72,88.20 398.14,88.20 398.55,88.20 398.96,88.20 399.37,88.20 399.78,88.20 400.19,88.20 400.61,88.20 401.02,88.20 401.43,88.20 401.84,88.20 402.25,88.20 402.66,88.20 403.08,88.20 403.49,88.20 403.90,88.20 404.31,88.20 404.72,88.20 405.13,88.20 405.55,88.20 405.96,88.20 406.37,88.20 406.78,88.20 407.19,88.20 407.61,88.20 408.02,88.20 408.43,88.20 408.84,88.20 409.25,88.20 409.66,88.20 410.07,88.20 410.49,88.20 410.90,88.20 411.31,88.20 411.72,88.20 412.13,88.20 412.54,88.20 412.96,88.20 413.37,88.20 413.78,88.20 414.19,88.20 414.60,88.20 415.01,88.20 415.43,88.20 415.84,88.20 416.25,88.20 416.66,88.20 417.07,88.20 417.49,88.20 417.90,88.20 418.31,88.20 418.72,88.20 419.13,88.20 419.54,88.20 419.95,88.20 420.37,88.20 420.78,88.20 421.19,88.20 421.60,88.20 422.01,88.20 422.43,88.20 422.84,88.20 423.25,88.20 423.66,88.20 424.07,88.20 424.48,88.20 424.89,88.20 425.31,88.20 425.72,88.20 426.13,88.20 426.54,88.20 426.95,88.20 427.37,88.20 427.78,88.20 428.19,88.20 428.60,88.20 429.01,88.20 429.42,88.20 429.83,88.20 430.25,88.20 430.66,88.20 431.07,88.20 431.48,88.20 431.89,88.20 432.31,88.20 432.72,88.20 433.13,88.20 433.54,88.20 433.95,88.20 434.36,88.19 434.77,88.19 435.19,88.19 435.60,88.19 436.01,88.18 436.42,88.17 436.83,88.15 437.25,88.11 437.66,88.04 438.07,87.90 438.48,87.63 438.89,87.17 439.30,86.38 439.71,85.12 440.13,83.19 440.54,80.38 440.95,76.48 441.36,71.37 441.77,65.04 442.19,57.68 442.60,49.66 443.01,41.60 443.42,34.22 443.83,28.31 444.24,24.56 444.65,23.40 445.07,24.69 445.48,28.10 445.89,33.27 446.30,39.68 446.71,46.74 447.12,53.90 447.54,60.66 447.95,66.69 448.36,71.77 448.77,75.84 449.18,78.96 449.59,81.23 450.01,82.81 450.42,83.86 450.83,84.53 451.24,84.93 451.65,85.16 452.06,85.29 452.48,85.35 452.89,85.38 453.30,85.40 453.71,85.41 454.12,85.42 454.53,85.43 454.95,85.44 455.36,85.45 455.77,85.46 456.18,85.48 456.59,85.50 457.00,85.52 457.42,85.53 457.83,85.55 458.24,85.57 458.65,85.59 459.06,85.61 459.48,85.63 459.89,85.65 460.30,85.67 460.71,85.69 461.12,85.71 461.53,85.73 461.94,85.75 462.36,85.77 462.77,85.79 463.18,85.81 463.59,85.83 464.00,85.85 464.41,85.87 464.83,85.89 465.24,85.91 465.65,85.93 466.06,85.95 466.47,85.97 466.88,85.99 467.30,86.00 467.71,86.02 468.12,86.04 468.53,86.06 468.94,86.08 469.36,86.09 469.77,86.11 470.18,86.13 470.59,86.15 471.00,86.16 471.41,86.18 471.82,86.20 472.24,86.21 472.65,86.23 473.06,86.25 473.47,86.26 473.88,86.28 474.29,86.29 474.71,86.31 475.12,86.32 475.53,86.34 475.94,86.36 476.35,86.37 476.76,86.39 477.18,86.40 477.59,86.42 478.00,86.43 478.41,86.45 478.82,86.46 479.24,86.47 479.65,86.49 480.06,86.50 480.47,86.52 480.88,86.53 481.29,86.55 481.70,86.56 482.12,86.57 482.53,86.59 482.94,86.60 483.35,86.61 483.76,86.63 484.17,86.64 484.59,86.65 485.00,86.66 485.41,86.68 485.82,86.69 486.23,86.70 486.64,86.72 487.06,86.73 487.47,86.74 487.88,86.75 488.29,86.76 488.70,86.78 489.12,86.79 489.53,86.80 489.94,86.81 490.35,86.82 490.76,86.83 491.17,86.85 491.58,86.86 492.00,86.87 492.41,86.88 492.82,86.89 493.23,86.90 493.64,86.91 494.05,86.92 494.47,86.93 494.88,86.94 495.29,86.95 495.70,86.96 496.11,86.97 496.52,86.98 496.94,86.99 497.35,87.00 497.76,87.01 498.17,87.02 498.58,87.03 499.00,87.04 499.41,87.05 499.82,87.06 500.23,87.07 500.64,87.08 501.05,87.09 501.46,87.10 501.88,87.11 502.29,87.12 502.70,87.13" fill="none" stroke="#3a3a3a" stroke-width="0.9" stroke-linejoin="round"/>
<polyline points="379.20,87.79 379.61,87.79 380.02,87.79 380.44,87.79 380.85,87.79 381.26,87.79 381.67,87.79 382.08,87.79 382.49,87.79 382.90,87.79 383.32,87.79 383.73,87.79 384.14,87.79 384.55,87.79 384.96,87.79 385.38,87.79 385.79,87.79 386.20,87.79 386.61,87.79 387.02,87.79 387.43,87.79 387.84,87.79 388.26,87.79 388.67,87.79 389.08,87.79 389.49,87.79 389.90,87.79 390.31,87.79 390.73,87.79 391.14,87.79 391.55,87.79 391.96,87.79 392.37,87.79 392.78,87.79 393.20,87.79 393.61,87.79 394.02,87.79 394.43,87.79 394.84,87.79 395.25,87.79 395.67,87.79 396.08,87.79 396.49,87.79 396.90,87.79 397.31,87.79 397.72,87.79 398.14,87.79 398.55,87.79 398.96,87.79 399.37,87.79 399.78,87.79 400.19,87.79 400.61,87.79 401.02,87.79 401.43,87.79 401.84,87.79 402.25,87.79 402.66,87.79 403.08,87.79 403.49,87.79 403.90,87.79 404.31,87.79 404.72,87.79 405.13,87.79 405.55,87.79 405.96,87.79 406.37,87.79 406.78,87.79 407.19,87.79 407.61,87.79 408.02,87.79 408.43,87.79 408.84,87.79 409.25,87.79 409.66,87.79 410.07,87.79 410.49,87.79 410.90,87.79 411.31,87.79 411.72,87.79 412.13,87.79 412.54,87.79 412.96,87.79 413.37,87.79 413.78,87.79 414.19,87.79 414.60,87.79 415.01,87.79 415.43,87.79 415.84,87.79 416.25,87.79 416.66,87.79 417.07,87.79 417.49,87.79 417.90,87.79 418.31,87.79 418.72,87.78 419.13,87.78 419.54,87.78 419.95,87.78 420.37,87.78 420.78,87.78 421.19,87.78 421.60,87.78 422.01,87.78 422.43,87.78 422.84,87.77 423.25,87.77 423.66,87.77 424.07,87.77 424.48,87.77 424.89,87.76 425.31,87.76 425.72,87.76 426.13,87.75 426.54,87.75 426.95,87.74 427.37,87.74 427.78,87.73 428.19,87.72 428.60,87.71 429.01,87.70 429.42,87.69 429.83,87.68 430.25,87.67 430.66,87.65 431.07,87.64 431.48,87.62 431.89,87.60 432.31,87.57 432.72,87.54 433.13,87.51 433.54,87.48 433.95,87.44 434.36,87.39 434.77,87.34 435.19,87.28 435.60,87.21 436.01,87.13 436.42,87.04 436.83,86.93 437.25,86.80 437.66,86.66 438.07,86.49 438.48,86.29 438.89,86.06 439.30,85.80 439.71,85.51 440.13,85.17 440.54,84.79 440.95,84.37 441.36,83.91 441.77,83.41 442.19,82.88 442.60,82.32 443.01,81.73 443.42,81.13 443.83,80.53 444.24,79.94 444.65,79.38 445.07,78.86 445.48,78.38 445.89,77.98 446.30,77.64 446.71,77.40 447.12,77.24 447.54,77.19 447.95,77.21 448.36,77.30 448.77,77.46 449.18,77.67 449.59,77.95 450.01,78.27 450.42,78.64 450.83,79.03 451.24,79.45 451.65,79.89 452.06,80.33 452.48,80.78 452.89,81.21 453.30,81.64 453.71,82.04 454.12,82.43 454.53,82.79 454.95,83.13 455.36,83.44 455.77,83.72 456.18,83.97 456.59,84.20 457.00,84.41 457.42,84.59 457.83,84.75 458.24,84.90 458.65,85.02 459.06,85.14 459.48,85.24 459.89,85.33 460.30,85.41 460.71,85.48 461.12,85.54 461.53,85.60 461.94,85.66 462.36,85.71 462.77,85.76 463.18,85.81 463.59,85.85 464.00,85.89 464.41,85.94 464.83,85.97 465.24,86.01 465.65,86.05 466.06,86.09 466.47,86.12 466.88,86.16 467.30,86.19 467.71,86.22 468.12,86.26 468.53,86.29 468.94,86.32 469.36,86.35 469.77,86.38 470.18,86.41 470.59,86.44 471.00,86.46 471.41,86.49 471.82,86.52 472.24,86.54 472.65,86.57 473.06,86.59 473.47,86.62 473.88,86.64 474.29,86.67 474.71,86.69 475.12,86.71 475.53,86.73 475.94,86.76 476.35,86.78 476.76,86.80 477.18,86.82 477.59,86.84 478.00,86.86 478.41,86.88 478.82,86.90 479.24,86.91 479.65,86.93 480.06,86.95 480.47,86.97 480.88,86.98 481.29,87.00 481.70,87.02 482.12,87.03 482.53,87.05 482.94,87.06 483.35,87.08 483.76,87.09 484.17,87.11 484.59,87.12 485.00,87.14 485.41,87.15 485.82,87.16 486.23,87.18 486.64,87.19 487.06,87.20 487.47,87.21 487.88,87.22 488.29,87.24 488.70,87.25 489.12,87.26 489.53,87.27 489.94,87.28 490.35,87.29 490.76,87.30 491.17,87.31 491.58,87.32 492.00,87.33 492.41,87.34 492.82,87.35 493.23,87.36 493.64,87.37 494.05,87.38 494.47,87.38 494.88,87.39 495.29,87.40 495.70,87.41 496.11,87.42 496.52,87.42 496.94,87.43 497.35,87.44 497.76,87.45 498.17,87.45 498.58,87.46 499.00,87.47 499.41,87.47 499.82,87.48 500.23,87.49 500.64,87.49 501.05,87.50 501.46,87.51 501.88,87.51 502.29,87.52 502.70,87.52" fill="none" stroke="#2d55a8" stroke-width="1.2" stroke-linejoin="round"/>
<polyline points="379.20,87.65 379.61,87.65 380.02,87.65 380.44,87.65 380.85,87.65 381.26,87.65 381.67,87.65 382.08,87.65 382.49,87.65 382.90,87.65 383.32,87.65 383.73,87.65 384.14,87.65 384.55,87.65 384.96,87.65 385.38,87.65 385.79,87.65 386.20,87.65 386.61,87.65 387.02,87.65 387.43,87.65 387.84,87.65 388.26,87.65 388.67,87.65 389.08,87.65 389.49,87.65 389.90,87.65 390.31,87.65 390.73,87.65 391.14,87.65 391.55,87.65 391.96,87.65 392.37,87.65 392.78,87.65 393.20,87.65 393.61,87.65 394.02,87.65 394.43,87.65 394.84,87.65 395.25,87.65 395.67,87.65 396.08,87.65 396.49,87.65 396.90,87.65 397.31,87.65 397.72,87.65 398.14,87.65 398.55,87.65 398.96,87.65 399.37,87.65 399.78,87.65 400.19,87.65 400.61,87.65 401.02,87.65 401.43,87.65 401.84,87.65 402.25,87.65 402.66,87.65 403.08,87.65 403.49,87.65 403.90,87.65 404.31,87.65 404.72,87.65 405.13,87.65 405.55,87.65 405.96,87.65 406.37,87.65 406.78,87.65 407.19,87.65 407.61,87.65 408.02,87.65 408.43,87.65 408.84,87.65 409.25,87.65 409.66,87.65 410.07,87.65 410.49,87.65 410.90,87.65 411.31,87.65 411.72,87.65 412.13,87.65 412.54,87.65 412.96,87.65 413.37,87.65 413.78,87.65 414.19,87.65 414.60,87.65 415.01,87.65 415.43,87.65 415.84,87.65 416.25,87.65 416.66,87.65 417.07,87.65 417.49,87.65 417.90,87.65 418.31,87.65 418.72,87.65 419.13,87.65 419.54,87.65 419.95,87.65 420.37,87.65 420.78,87.64 421.19,87.64 421.60,87.64 422.01,87.64 422.43,87.64 422.84,87.64 423.25,87.64 423.66,87.64 424.07,87.63 424.48,87.63 424.89,87.63 425.31,87.62 425.72,87.62 426.13,87.62 426.54,87.61 426.95,87.61 427.37,87.60 427.78,87.59 428.19,87.59 428.60,87.58 429.01,87.57 429.42,87.56 429.83,87.54 430.25,87.53 430.66,87.51 431.07,87.49 431.48,87.47 431.89,87.44 432.31,87.41 432.72,87.38 433.13,87.34 433.54,87.29 433.95,87.23 434.36,87.16 434.77,87.08 435.19,86.99 435.60,86.88 436.01,86.75 436.42,86.60 436.83,86.42 437.25,86.21 437.66,85.98 438.07,85.70 438.48,85.38 438.89,85.02 439.30,84.61 439.71,84.15 440.13,83.64 440.54,83.07 440.95,82.45 441.36,81.78 441.77,81.07 442.19,80.31 442.60,79.51 443.01,78.68 443.42,77.84 443.83,77.00 444.24,76.16 444.65,75.34 445.07,74.55 445.48,73.82 445.89,73.15 446.30,72.56 446.71,72.05 447.12,71.65 447.54,71.34 447.95,71.15 448.36,71.06 448.77,71.07 449.18,71.17 449.59,71.36 450.01,71.63 450.42,71.97 450.83,72.37 451.24,72.84 451.65,73.35 452.06,73.90 452.48,74.47 452.89,75.07 453.30,75.67 453.71,76.28 454.12,76.87 454.53,77.46 454.95,78.02 455.36,78.56 455.77,79.08 456.18,79.56 456.59,80.01 457.00,80.43 457.42,80.81 457.83,81.16 458.24,81.48 458.65,81.77 459.06,82.03 459.48,82.26 459.89,82.47 460.30,82.66 460.71,82.83 461.12,82.98 461.53,83.12 461.94,83.24 462.36,83.35 462.77,83.46 463.18,83.55 463.59,83.64 464.00,83.72 464.41,83.79 464.83,83.87 465.24,83.93 465.65,84.00 466.06,84.06 466.47,84.12 466.88,84.18 467.30,84.24 467.71,84.29 468.12,84.35 468.53,84.40 468.94,84.45 469.36,84.51 469.77,84.56 470.18,84.61 470.59,84.65 471.00,84.70 471.41,84.75 471.82,84.79 472.24,84.84 472.65,84.88 473.06,84.93 473.47,84.97 473.88,85.01 474.29,85.06 474.71,85.10 475.12,85.14 475.53,85.18 475.94,85.22 476.35,85.26 476.76,85.29 477.18,85.33 477.59,85.37 478.00,85.40 478.41,85.44 478.82,85.48 479.24,85.51 479.65,85.54 480.06,85.58 480.47,85.61 480.88,85.64 481.29,85.68 481.70,85.71 482.12,85.74 482.53,85.77 482.94,85.80 483.35,85.83 483.76,85.86 484.17,85.89 484.59,85.91 485.00,85.94 485.41,85.97 485.82,85.99 486.23,86.02 486.64,86.05 487.06,86.07 487.47,86.10 487.88,86.12 488.29,86.15 488.70,86.17 489.12,86.19 489.53,86.22 489.94,86.24 490.35,86.26 490.76,86.28 491.17,86.31 491.58,86.33 492.00,86.35 492.41,86.37 492.82,86.39 493.23,86.41 493.64,86.43 494.05,86.45 494.47,86.47 494.88,86.49 495.29,86.51 495.70,86.52 496.11,86.54 496.52,86.56 496.94,86.58 497.35,86.59 497.76,86.61 498.17,86.63 498.58,86.64 499.00,86.66 499.41,86.68 499.82,86.69 500.23,86.71 500.64,86.72 501.05,86.74 501.46,86.75 501.88,86.76 502.29,86.78 502.70,86.79" fill="none" stroke="#3597aa" stroke-width="1.2" stroke-dasharray="2.2,1.2" stroke-linejoin="round"/>
<polyline points="379.20,88.20 379.61,88.20 380.02,88.20 380.44,88.20 380.85,88.20 381.26,88.20 381.67,88.20 382.08,88.20 382.49,88.20 382.90,88.20 383.32,88.20 383.73,88.20 384.14,88.20 384.55,88.20 384.96,88.20 385.38,88.20 385.79,88.20 386.20,88.20 386.61,88.20 387.02,88.20 387.43,88.20 387.84,88.20 388.26,88.20 388.67,88.20 389.08,88.20 389.49,88.20 389.90,88.20 390.31,88.20 390.73,88.20 391.14,88.20 391.55,88.20 391.96,88.20 392.37,88.20 392.78,88.20 393.20,88.20 393.61,88.20 394.02,88.20 394.43,88.20 394.84,88.20 395.25,88.20 395.67,88.20 396.08,88.20 396.49,88.20 396.90,88.20 397.31,88.20 397.72,88.20 398.14,88.20 398.55,88.20 398.96,88.20 399.37,88.20 399.78,88.20 400.19,88.20 400.61,88.20 401.02,88.20 401.43,88.20 401.84,88.20 402.25,88.20 402.66,88.20 403.08,88.20 403.49,88.20 403.90,88.20 404.31,88.20 404.72,88.20 405.13,88.20 405.55,88.20 405.96,88.20 406.37,88.20 406.78,88.20 407.19,88.20 407.61,88.20 408.02,88.20 408.43,88.20 408.84,88.20 409.25,88.20 409.66,88.20 410.07,88.20 410.49,88.20 410.90,88.20 411.31,88.20 411.72,88.20 412.13,88.20 412.54,88.20 412.96,88.20 413.37,88.20 413.78,88.20 414.19,88.20 414.60,88.20 415.01,88.20 415.43,88.20 415.84,88.19 416.25,88.19 416.66,88.19 417.07,88.19 417.49,88.19 417.90,88.19 418.31,88.19 418.72,88.19 419.13,88.18 419.54,88.18 419.95,88.18 420.37,88.18 420.78,88.17 421.19,88.17 421.60,88.16 422.01,88.15 422.43,88.14 422.84,88.12 423.25,88.09 423.66,88.04 424.07,87.97 424.48,87.85 424.89,87.67 425.31,87.39 425.72,86.99 426.13,86.41 426.54,85.58 426.95,84.43 427.37,82.88 427.78,80.85 428.19,78.23 428.60,74.96 429.01,70.99 429.42,66.30 429.83,60.93 430.25,54.97 430.66,48.58 431.07,41.97 431.48,35.44 431.89,29.28 432.31,23.83 432.72,19.39 433.13,16.24 433.54,14.56 433.95,14.31 434.36,14.72 434.77,15.65 435.19,17.07 435.60,18.96 436.01,21.27 436.42,23.95 436.83,26.93 437.25,30.17 437.66,33.59 438.07,37.13 438.48,40.73 438.89,44.34 439.30,47.91 439.71,51.37 440.13,54.71 440.54,57.87 440.95,60.84 441.36,63.60 441.77,66.13 442.19,68.44 442.60,70.52 443.01,72.37 443.42,74.01 443.83,75.45 444.24,76.69 444.65,77.77 445.07,78.68 445.48,79.46 445.89,80.12 446.30,80.67 446.71,81.12 447.12,81.50 447.54,81.81 447.95,82.07 448.36,82.28 448.77,82.45 449.18,82.60 449.59,82.72 450.01,82.82 450.42,82.91 450.83,82.98 451.24,83.05 451.65,83.11 452.06,83.16 452.48,83.21 452.89,83.26 453.30,83.31 453.71,83.36 454.12,83.40 454.53,83.44 454.95,83.49 455.36,83.53 455.77,83.57 456.18,83.61 456.59,83.65 457.00,83.69 457.42,83.73 457.83,83.77 458.24,83.81 458.65,83.85 459.06,83.89 459.48,83.93 459.89,83.97 460.30,84.01 460.71,84.05 461.12,84.09 461.53,84.12 461.94,84.16 462.36,84.20 462.77,84.23 463.18,84.27 463.59,84.31 464.00,84.34 464.41,84.38 464.83,84.41 465.24,84.45 465.65,84.48 466.06,84.52 466.47,84.55 466.88,84.58 467.30,84.62 467.71,84.65 468.12,84.68 468.53,84.72 468.94,84.75 469.36,84.78 469.77,84.81 470.18,84.84 470.59,84.87 471.00,84.90 471.41,84.93 471.82,84.96 472.24,84.99 472.65,85.02 473.06,85.05 473.47,85.08 473.88,85.11 474.29,85.14 474.71,85.17 475.12,85.20 475.53,85.22 475.94,85.25 476.35,85.28 476.76,85.30 477.18,85.33 477.59,85.36 478.00,85.38 478.41,85.41 478.82,85.44 479.24,85.46 479.65,85.49 480.06,85.51 480.47,85.54 480.88,85.56 481.29,85.58 481.70,85.61 482.12,85.63 482.53,85.66 482.94,85.68 483.35,85.70 483.76,85.73 484.17,85.75 484.59,85.77 485.00,85.79 485.41,85.82 485.82,85.84 486.23,85.86 486.64,85.88 487.06,85.90 487.47,85.92 487.88,85.95 488.29,85.97 488.70,85.99 489.12,86.01 489.53,86.03 489.94,86.05 490.35,86.07 490.76,86.09 491.17,86.11 491.58,86.13 492.00,86.14 492.41,86.16 492.82,86.18 493.23,86.20 493.64,86.22 494.05,86.24 494.47,86.26 494.88,86.27 495.29,86.29 495.70,86.31 496.11,86.33 496.52,86.34 496.94,86.36 497.35,86.38 497.76,86.39 498.17,86.41 498.58,86.43 499.00,86.44 499.41,86.46 499.82,86.48 500.23,86.49 500.64,86.51 501.05,86.52 501.46,86.54 501.88,86.55 502.29,86.57 502.70,86.58" fill="none" stroke="#a03060" stroke-width="1.1" stroke-linejoin="round"/>
<polyline points="379.20,88.20 379.61,88.20 380.02,88.20 380.44,88.20 380.85,88.20 381.26,88.20 381.67,88.20 382.08,88.20 382.49,88.20 382.90,88.20 383.32,88.20 383.73,88.20 384.14,88.20 384.55,88.20 384.96,88.20 385.38,88.20 385.79,88.20 386.20,88.20 386.61,88.20 387.02,88.20 387.43,88.20 387.84,88.20 388.26,88.20 388.67,88.20 389.08,88.20 389.49,88.20 389.90,88.20 390.31,88.20 390.73,88.20 391.14,88.20 391.55,88.20 391.96,88.20 392.37,88.20 392.78,88.20 393.20,88.20 393.61,88.20 394.02,88.20 394.43,88.20 394.84,88.20 395.25,88.20 395.67,88.20 396.08,88.20 396.49,88.20 396.90,88.20 397.31,88.20 397.72,88.20 398.14,88.20 398.55,88.20 398.96,88.20 399.37,88.20 399.78,88.20 400.19,88.20 400.61,88.20 401.02,88.20 401.43,88.20 401.84,88.20 402.25,88.20 402.66,88.20 403.08,88.20 403.49,88.20 403.90,88.20 404.31,88.20 404.72,88.20 405.13,88.20 405.55,88.20 405.96,88.20 406.37,88.20 406.78,88.20 407.19,88.20 407.61,88.20 408.02,88.20 408.43,88.20 408.84,88.20 409.25,88.20 409.66,88.20 410.07,88.20 410.49,88.20 410.90,88.20 411.31,88.20 411.72,88.20 412.13,88.20 412.54,88.20 412.96,88.20 413.37,88.20 413.78,88.20 414.19,88.20 414.60,88.20 415.01,88.20 415.43,88.19 415.84,88.19 416.25,88.19 416.66,88.19 417.07,88.19 417.49,88.19 417.90,88.19 418.31,88.19 418.72,88.18 419.13,88.18 419.54,88.18 419.95,88.18 420.37,88.17 420.78,88.17 421.19,88.17 421.60,88.16 422.01,88.15 422.43,88.14 422.84,88.12 423.25,88.10 423.66,88.07 424.07,88.01 424.48,87.92 424.89,87.79 425.31,87.59 425.72,87.29 426.13,86.84 426.54,86.20 426.95,85.31 427.37,84.07 427.78,82.42 428.19,80.26 428.60,77.52 429.01,74.11 429.42,70.01 429.83,65.20 430.25,59.74 430.66,53.74 431.07,47.37 431.48,40.86 431.89,34.50 432.31,28.60 432.72,23.48 433.13,19.43 433.54,16.69 433.95,15.44 434.36,15.39 434.77,15.85 435.19,16.77 435.60,18.13 436.01,19.91 436.42,22.05 436.83,24.53 437.25,27.29 437.66,30.27 438.07,33.43 438.48,36.71 438.89,40.06 439.30,43.42 439.71,46.75 440.13,50.02 440.54,53.18 440.95,56.19 441.36,59.05 441.77,61.73 442.19,64.21 442.60,66.49 443.01,68.56 443.42,70.44 443.83,72.11 444.24,73.59 444.65,74.90 445.07,76.04 445.48,77.03 445.89,77.88 446.30,78.61 446.71,79.22 447.12,79.74 447.54,80.18 447.95,80.55 448.36,80.86 448.77,81.11 449.18,81.32 449.59,81.50 450.01,81.65 450.42,81.78 450.83,81.89 451.24,81.98 451.65,82.06 452.06,82.13 452.48,82.20 452.89,82.26 453.30,82.32 453.71,82.37 454.12,82.42 454.53,82.47 454.95,82.52 455.36,82.57 455.77,82.61 456.18,82.66 456.59,82.70 457.00,82.75 457.42,82.79 457.83,82.84 458.24,82.88 458.65,82.92 459.06,82.97 459.48,83.01 459.89,83.05 460.30,83.09 460.71,83.14 461.12,83.18 461.53,83.22 461.94,83.26 462.36,83.30 462.77,83.34 463.18,83.38 463.59,83.42 464.00,83.46 464.41,83.50 464.83,83.54 465.24,83.58 465.65,83.62 466.06,83.65 466.47,83.69 466.88,83.73 467.30,83.77 467.71,83.80 468.12,83.84 468.53,83.88 468.94,83.91 469.36,83.95 469.77,83.98 470.18,84.02 470.59,84.05 471.00,84.09 471.41,84.12 471.82,84.15 472.24,84.19 472.65,84.22 473.06,84.25 473.47,84.29 473.88,84.32 474.29,84.35 474.71,84.38 475.12,84.42 475.53,84.45 475.94,84.48 476.35,84.51 476.76,84.54 477.18,84.57 477.59,84.60 478.00,84.63 478.41,84.66 478.82,84.69 479.24,84.72 479.65,84.75 480.06,84.78 480.47,84.80 480.88,84.83 481.29,84.86 481.70,84.89 482.12,84.92 482.53,84.94 482.94,84.97 483.35,85.00 483.76,85.02 484.17,85.05 484.59,85.08 485.00,85.10 485.41,85.13 485.82,85.15 486.23,85.18 486.64,85.20 487.06,85.23 487.47,85.25 487.88,85.28 488.29,85.30 488.70,85.33 489.12,85.35 489.53,85.37 489.94,85.40 490.35,85.42 490.76,85.44 491.17,85.47 491.58,85.49 492.00,85.51 492.41,85.53 492.82,85.56 493.23,85.58 493.64,85.60 494.05,85.62 494.47,85.64 494.88,85.66 495.29,85.68 495.70,85.70 496.11,85.73 496.52,85.75 496.94,85.77 497.35,85.79 497.76,85.81 498.17,85.83 498.58,85.85 499.00,85.87 499.41,85.89 499.82,85.90 500.23,85.92 500.64,85.94 501.05,85.96 501.46,85.98 501.88,86.00 502.29,86.02 502.70,86.03" fill="none" stroke="#b04a78" stroke-width="1.1" stroke-dasharray="2,1.2" stroke-linejoin="round"/>
<line x1="453.4" y1="5.2" x2="462.5" y2="5.2" stroke="#3a3a3a" stroke-width="1.2"/>
<line x1="453.4" y1="16.4" x2="462.5" y2="16.4" stroke="#3a6fb5" stroke-width="1.2"/>
<line x1="453.4" y1="31.1" x2="462.5" y2="31.1" stroke="#a03060" stroke-width="1.2"/>
<line x1="453.4" y1="45.8" x2="462.5" y2="45.8" stroke="#3a9fb0" stroke-width="1.2" stroke-dasharray="2.5,1.2"/>
<line x1="453.4" y1="56.2" x2="462.5" y2="56.2" stroke="#a03060" stroke-width="1.2" stroke-dasharray="2.5,1.2"/>
<text x="463.7" y="8" font-size="7.6">CPC<tspan font-size="5.2" dy="1.8">ISB10-280</tspan></text>
<text x="463.7" y="19.3" font-size="7.6">Sgo1<tspan font-size="6" dy="1.8">1-415</tspan></text>
<text x="463.7" y="31.1" font-size="7.6">CPC<tspan font-size="5.2" dy="1.8">ISB10-280</tspan></text>
<text x="463.7" y="39.4" font-size="7.6">+ Sgo1<tspan font-size="6" dy="1.8">1-415</tspan></text>
<text x="463.7" y="48.5" font-size="7.6">Sgo1<tspan font-size="6" dy="1.8">1-415 4A</tspan></text>
<text x="463.7" y="59.7" font-size="7.6">CPC<tspan font-size="5.2" dy="1.8">ISB10-280</tspan></text>
<text x="463.7" y="68.7" font-size="7.6">+ Sgo1<tspan font-size="6" dy="1.8">1-415 4A</tspan></text>
<rect x="35.0" y="116.7" width="109.30000000000001" height="54.499999999999986" fill="#ededed" stroke="#adadad" stroke-width="0.8"/>
<rect x="35.0" y="171.4" width="109.30000000000001" height="53.900000000000006" fill="#ebebeb" stroke="#adadad" stroke-width="0.8"/>
<rect x="35.0" y="226.5" width="109.30000000000001" height="53.5" fill="#efefef" stroke="#adadad" stroke-width="0.8"/>
<polyline points="35,116.5 86,100.8 143.6,100.8 143.6,116.5" fill="none" stroke="#666" stroke-width="0.8"/>
<text x="81.2" y="108.5" font-size="7" font-weight="bold">ml</text>
<text x="20.8" y="117.2" font-size="6.2" font-weight="bold" text-anchor="start" fill="#000" >kD</text>
<line x1="32.4" y1="123.5" x2="34.6" y2="123.5" stroke="#000" stroke-width="0.8"/>
<text x="32.0" y="125.7" font-size="6.2" font-weight="bold" text-anchor="end" fill="#000" >35</text>
<line x1="32.4" y1="138" x2="34.6" y2="138" stroke="#000" stroke-width="0.8"/>
<text x="32.0" y="140.2" font-size="6.2" font-weight="bold" text-anchor="end" fill="#000" >25</text>
<line x1="32.4" y1="152" x2="34.6" y2="152" stroke="#000" stroke-width="0.8"/>
<text x="32.0" y="154.2" font-size="6.2" font-weight="bold" text-anchor="end" fill="#000" >18</text>
<line x1="32.4" y1="176.5" x2="34.6" y2="176.5" stroke="#000" stroke-width="0.8"/>
<text x="32.0" y="178.7" font-size="6.2" font-weight="bold" text-anchor="end" fill="#000" >35</text>
<line x1="32.4" y1="191.2" x2="34.6" y2="191.2" stroke="#000" stroke-width="0.8"/>
<text x="32.0" y="193.39999999999998" font-size="6.2" font-weight="bold" text-anchor="end" fill="#000" >25</text>
<line x1="32.4" y1="206.6" x2="34.6" y2="206.6" stroke="#000" stroke-width="0.8"/>
<text x="32.0" y="208.79999999999998" font-size="6.2" font-weight="bold" text-anchor="end" fill="#000" >18</text>
<line x1="32.4" y1="229.2" x2="34.6" y2="229.2" stroke="#000" stroke-width="0.8"/>
<text x="32.0" y="231.39999999999998" font-size="6.2" font-weight="bold" text-anchor="end" fill="#000" >35</text>
<line x1="32.4" y1="243" x2="34.6" y2="243" stroke="#000" stroke-width="0.8"/>
<text x="32.0" y="245.2" font-size="6.2" font-weight="bold" text-anchor="end" fill="#000" >25</text>
<line x1="32.4" y1="259.2" x2="34.6" y2="259.2" stroke="#000" stroke-width="0.8"/>
<text x="32.0" y="261.4" font-size="6.2" font-weight="bold" text-anchor="end" fill="#000" >18</text>
<rect x="42.80" y="128.85" width="6.4" height="1.5" rx="0.8" fill="rgb(55,55,55)" fill-opacity="0.38" filter="url(#blur1)"/>
<rect x="50.80" y="128.85" width="6.4" height="1.5" rx="0.8" fill="rgb(55,55,55)" fill-opacity="0.81" filter="url(#blur1)"/>
<rect x="58.80" y="128.85" width="6.4" height="1.5" rx="0.8" fill="rgb(55,55,55)" fill-opacity="0.72" filter="url(#blur1)"/>
<rect x="66.80" y="128.85" width="6.4" height="1.5" rx="0.8" fill="rgb(55,55,55)" fill-opacity="0.47" filter="url(#blur1)"/>
<rect x="74.80" y="128.85" width="6.4" height="1.5" rx="0.8" fill="rgb(55,55,55)" fill-opacity="0.34" filter="url(#blur1)"/>
<rect x="82.80" y="128.85" width="6.4" height="1.5" rx="0.8" fill="rgb(55,55,55)" fill-opacity="0.27" filter="url(#blur1)"/>
<rect x="90.80" y="128.85" width="6.4" height="1.5" rx="0.8" fill="rgb(55,55,55)" fill-opacity="0.22" filter="url(#blur1)"/>
<rect x="98.80" y="128.85" width="6.4" height="1.5" rx="0.8" fill="rgb(55,55,55)" fill-opacity="0.17" filter="url(#blur1)"/>
<rect x="106.80" y="128.85" width="6.4" height="1.5" rx="0.8" fill="rgb(55,55,55)" fill-opacity="0.14" filter="url(#blur1)"/>
<rect x="114.80" y="128.85" width="6.4" height="1.5" rx="0.8" fill="rgb(55,55,55)" fill-opacity="0.10" filter="url(#blur1)"/>
<rect x="122.80" y="128.85" width="6.4" height="1.5" rx="0.8" fill="rgb(55,55,55)" fill-opacity="0.09" filter="url(#blur1)"/>
<rect x="130.80" y="128.85" width="6.4" height="1.5" rx="0.8" fill="rgb(55,55,55)" fill-opacity="0.07" filter="url(#blur1)"/>
<rect x="42.80" y="148.85" width="6.4" height="1.5" rx="0.8" fill="rgb(55,55,55)" fill-opacity="0.30" filter="url(#blur1)"/>
<rect x="50.80" y="148.85" width="6.4" height="1.5" rx="0.8" fill="rgb(55,55,55)" fill-opacity="0.59" filter="url(#blur1)"/>
<rect x="58.80" y="148.85" width="6.4" height="1.5" rx="0.8" fill="rgb(55,55,55)" fill-opacity="0.51" filter="url(#blur1)"/>
<rect x="66.80" y="148.85" width="6.4" height="1.5" rx="0.8" fill="rgb(55,55,55)" fill-opacity="0.34" filter="url(#blur1)"/>
<rect x="74.80" y="148.85" width="6.4" height="1.5" rx="0.8" fill="rgb(55,55,55)" fill-opacity="0.26" filter="url(#blur1)"/>
<rect x="82.80" y="148.85" width="6.4" height="1.5" rx="0.8" fill="rgb(55,55,55)" fill-opacity="0.21" filter="url(#blur1)"/>
<rect x="90.80" y="148.85" width="6.4" height="1.5" rx="0.8" fill="rgb(55,55,55)" fill-opacity="0.17" filter="url(#blur1)"/>
<rect x="98.80" y="148.85" width="6.4" height="1.5" rx="0.8" fill="rgb(55,55,55)" fill-opacity="0.14" filter="url(#blur1)"/>
<rect x="106.80" y="148.85" width="6.4" height="1.5" rx="0.8" fill="rgb(55,55,55)" fill-opacity="0.10" filter="url(#blur1)"/>
<rect x="114.80" y="148.85" width="6.4" height="1.5" rx="0.8" fill="rgb(55,55,55)" fill-opacity="0.09" filter="url(#blur1)"/>
<rect x="122.80" y="148.85" width="6.4" height="1.5" rx="0.8" fill="rgb(55,55,55)" fill-opacity="0.07" filter="url(#blur1)"/>
<rect x="130.80" y="148.85" width="6.4" height="1.5" rx="0.8" fill="rgb(55,55,55)" fill-opacity="0.04" filter="url(#blur1)"/>
<rect x="42.80" y="166.25" width="6.4" height="1.5" rx="0.8" fill="rgb(55,55,55)" fill-opacity="0.17" filter="url(#blur1)"/>
<rect x="50.80" y="166.25" width="6.4" height="1.5" rx="0.8" fill="rgb(55,55,55)" fill-opacity="0.13" filter="url(#blur1)"/>
<rect x="58.80" y="166.25" width="6.4" height="1.5" rx="0.8" fill="rgb(55,55,55)" fill-opacity="0.10" filter="url(#blur1)"/>
<rect x="66.80" y="166.25" width="6.4" height="1.5" rx="0.8" fill="rgb(55,55,55)" fill-opacity="0.04" filter="url(#blur1)"/>
<rect x="90.80" y="189.25" width="6.4" height="1.5" rx="0.8" fill="rgb(55,55,55)" fill-opacity="0.13" filter="url(#blur1)"/>
<rect x="98.80" y="189.25" width="6.4" height="1.5" rx="0.8" fill="rgb(55,55,55)" fill-opacity="0.26" filter="url(#blur1)"/>
<rect x="106.80" y="189.25" width="6.4" height="1.5" rx="0.8" fill="rgb(55,55,55)" fill-opacity="0.42" filter="url(#blur1)"/>
<rect x="114.80" y="189.25" width="6.4" height="1.5" rx="0.8" fill="rgb(55,55,55)" fill-opacity="0.77" filter="url(#blur1)"/>
<rect x="122.80" y="189.25" width="6.4" height="1.5" rx="0.8" fill="rgb(55,55,55)" fill-opacity="0.68" filter="url(#blur1)"/>
<rect x="130.80" y="189.25" width="6.4" height="1.5" rx="0.8" fill="rgb(55,55,55)" fill-opacity="0.38" filter="url(#blur1)"/>
<rect x="98.80" y="193.25" width="6.4" height="1.5" rx="0.8" fill="rgb(55,55,55)" fill-opacity="0.09" filter="url(#blur1)"/>
<rect x="106.80" y="193.25" width="6.4" height="1.5" rx="0.8" fill="rgb(55,55,55)" fill-opacity="0.26" filter="url(#blur1)"/>
<rect x="114.80" y="193.25" width="6.4" height="1.5" rx="0.8" fill="rgb(55,55,55)" fill-opacity="0.42" filter="url(#blur1)"/>
<rect x="122.80" y="193.25" width="6.4" height="1.5" rx="0.8" fill="rgb(55,55,55)" fill-opacity="0.38" filter="url(#blur1)"/>
<rect x="130.80" y="193.25" width="6.4" height="1.5" rx="0.8" fill="rgb(55,55,55)" fill-opacity="0.09" filter="url(#blur1)"/>
<rect x="98.80" y="213.75" width="6.4" height="1.5" rx="0.8" fill="rgb(55,55,55)" fill-opacity="0.13" filter="url(#blur1)"/>
<rect x="106.80" y="213.75" width="6.4" height="1.5" rx="0.8" fill="rgb(55,55,55)" fill-opacity="0.13" filter="url(#blur1)"/>
<rect x="114.80" y="213.75" width="6.4" height="1.5" rx="0.8" fill="rgb(55,55,55)" fill-opacity="0.04" filter="url(#blur1)"/>
<line x1="117" y1="222.6" x2="121.9" y2="210.4" stroke="#444" stroke-width="0.6"/>
<rect x="34.80" y="236.95" width="6.4" height="1.5" rx="0.8" fill="rgb(55,55,55)" fill-opacity="0.13" filter="url(#blur1)"/>
<rect x="42.80" y="236.95" width="6.4" height="1.5" rx="0.8" fill="rgb(55,55,55)" fill-opacity="0.68" filter="url(#blur1)"/>
<rect x="50.80" y="236.95" width="6.4" height="1.5" rx="0.8" fill="rgb(55,55,55)" fill-opacity="0.72" filter="url(#blur1)"/>
<rect x="58.80" y="236.95" width="6.4" height="1.5" rx="0.8" fill="rgb(55,55,55)" fill-opacity="0.68" filter="url(#blur1)"/>
<rect x="66.80" y="236.95" width="6.4" height="1.5" rx="0.8" fill="rgb(55,55,55)" fill-opacity="0.51" filter="url(#blur1)"/>
<rect x="74.80" y="236.95" width="6.4" height="1.5" rx="0.8" fill="rgb(55,55,55)" fill-opacity="0.42" filter="url(#blur1)"/>
<rect x="82.80" y="236.95" width="6.4" height="1.5" rx="0.8" fill="rgb(55,55,55)" fill-opacity="0.32" filter="url(#blur1)"/>
<rect x="90.80" y="236.95" width="6.4" height="1.5" rx="0.8" fill="rgb(55,55,55)" fill-opacity="0.26" filter="url(#blur1)"/>
<rect x="98.80" y="236.95" width="6.4" height="1.5" rx="0.8" fill="rgb(55,55,55)" fill-opacity="0.21" filter="url(#blur1)"/>
<rect x="106.80" y="236.95" width="6.4" height="1.5" rx="0.8" fill="rgb(55,55,55)" fill-opacity="0.17" filter="url(#blur1)"/>
<rect x="114.80" y="236.95" width="6.4" height="1.5" rx="0.8" fill="rgb(55,55,55)" fill-opacity="0.17" filter="url(#blur1)"/>
<rect x="122.80" y="236.95" width="6.4" height="1.5" rx="0.8" fill="rgb(55,55,55)" fill-opacity="0.13" filter="url(#blur1)"/>
<rect x="130.80" y="236.95" width="6.4" height="1.5" rx="0.8" fill="rgb(55,55,55)" fill-opacity="0.09" filter="url(#blur1)"/>
<rect x="34.80" y="241.55" width="6.4" height="1.5" rx="0.8" fill="rgb(55,55,55)" fill-opacity="0.04" filter="url(#blur1)"/>
<rect x="42.80" y="241.55" width="6.4" height="1.5" rx="0.8" fill="rgb(55,55,55)" fill-opacity="0.26" filter="url(#blur1)"/>
<rect x="50.80" y="241.55" width="6.4" height="1.5" rx="0.8" fill="rgb(55,55,55)" fill-opacity="0.30" filter="url(#blur1)"/>
<rect x="58.80" y="241.55" width="6.4" height="1.5" rx="0.8" fill="rgb(55,55,55)" fill-opacity="0.26" filter="url(#blur1)"/>
<rect x="66.80" y="241.55" width="6.4" height="1.5" rx="0.8" fill="rgb(55,55,55)" fill-opacity="0.26" filter="url(#blur1)"/>
<rect x="74.80" y="241.55" width="6.4" height="1.5" rx="0.8" fill="rgb(55,55,55)" fill-opacity="0.30" filter="url(#blur1)"/>
<rect x="82.80" y="241.55" width="6.4" height="1.5" rx="0.8" fill="rgb(55,55,55)" fill-opacity="0.34" filter="url(#blur1)"/>
<rect x="90.80" y="241.55" width="6.4" height="1.5" rx="0.8" fill="rgb(55,55,55)" fill-opacity="0.34" filter="url(#blur1)"/>
<rect x="98.80" y="241.55" width="6.4" height="1.5" rx="0.8" fill="rgb(55,55,55)" fill-opacity="0.30" filter="url(#blur1)"/>
<rect x="106.80" y="241.55" width="6.4" height="1.5" rx="0.8" fill="rgb(55,55,55)" fill-opacity="0.34" filter="url(#blur1)"/>
<rect x="114.80" y="241.55" width="6.4" height="1.5" rx="0.8" fill="rgb(55,55,55)" fill-opacity="0.38" filter="url(#blur1)"/>
<rect x="122.80" y="241.55" width="6.4" height="1.5" rx="0.8" fill="rgb(55,55,55)" fill-opacity="0.26" filter="url(#blur1)"/>
<rect x="130.80" y="241.55" width="6.4" height="1.5" rx="0.8" fill="rgb(55,55,55)" fill-opacity="0.17" filter="url(#blur1)"/>
<rect x="106.80" y="245.25" width="6.4" height="1.5" rx="0.8" fill="rgb(55,55,55)" fill-opacity="0.13" filter="url(#blur1)"/>
<rect x="114.80" y="245.25" width="6.4" height="1.5" rx="0.8" fill="rgb(55,55,55)" fill-opacity="0.30" filter="url(#blur1)"/>
<rect x="122.80" y="245.25" width="6.4" height="1.5" rx="0.8" fill="rgb(55,55,55)" fill-opacity="0.26" filter="url(#blur1)"/>
<rect x="130.80" y="245.25" width="6.4" height="1.5" rx="0.8" fill="rgb(55,55,55)" fill-opacity="0.09" filter="url(#blur1)"/>
<rect x="34.80" y="252.40" width="6.4" height="2.2" rx="0.8" fill="rgb(55,55,55)" fill-opacity="0.04" filter="url(#blur1)"/>
<rect x="42.80" y="252.40" width="6.4" height="2.2" rx="0.8" fill="rgb(55,55,55)" fill-opacity="0.42" filter="url(#blur1)"/>
<rect x="50.80" y="252.40" width="6.4" height="2.2" rx="0.8" fill="rgb(55,55,55)" fill-opacity="0.51" filter="url(#blur1)"/>
<rect x="58.80" y="252.40" width="6.4" height="2.2" rx="0.8" fill="rgb(55,55,55)" fill-opacity="0.42" filter="url(#blur1)"/>
<rect x="66.80" y="252.40" width="6.4" height="2.2" rx="0.8" fill="rgb(55,55,55)" fill-opacity="0.27" filter="url(#blur1)"/>
<rect x="74.80" y="252.40" width="6.4" height="2.2" rx="0.8" fill="rgb(55,55,55)" fill-opacity="0.19" filter="url(#blur1)"/>
<rect x="82.80" y="252.40" width="6.4" height="2.2" rx="0.8" fill="rgb(55,55,55)" fill-opacity="0.15" filter="url(#blur1)"/>
<rect x="90.80" y="252.40" width="6.4" height="2.2" rx="0.8" fill="rgb(55,55,55)" fill-opacity="0.09" filter="url(#blur1)"/>
<rect x="98.80" y="252.40" width="6.4" height="2.2" rx="0.8" fill="rgb(55,55,55)" fill-opacity="0.07" filter="url(#blur1)"/>
<rect x="106.80" y="252.40" width="6.4" height="2.2" rx="0.8" fill="rgb(55,55,55)" fill-opacity="0.05" filter="url(#blur1)"/>
<rect x="114.80" y="252.40" width="6.4" height="2.2" rx="0.8" fill="rgb(55,55,55)" fill-opacity="0.04" filter="url(#blur1)"/>
<rect x="122.80" y="252.40" width="6.4" height="2.2" rx="0.8" fill="rgb(55,55,55)" fill-opacity="0.03" filter="url(#blur1)"/>
<rect x="34.80" y="274.25" width="6.4" height="1.5" rx="0.8" fill="rgb(55,55,55)" fill-opacity="0.04" filter="url(#blur1)"/>
<rect x="42.80" y="274.25" width="6.4" height="1.5" rx="0.8" fill="rgb(55,55,55)" fill-opacity="0.21" filter="url(#blur1)"/>
<rect x="50.80" y="274.25" width="6.4" height="1.5" rx="0.8" fill="rgb(55,55,55)" fill-opacity="0.26" filter="url(#blur1)"/>
<rect x="58.80" y="274.25" width="6.4" height="1.5" rx="0.8" fill="rgb(55,55,55)" fill-opacity="0.21" filter="url(#blur1)"/>
<rect x="66.80" y="274.25" width="6.4" height="1.5" rx="0.8" fill="rgb(55,55,55)" fill-opacity="0.09" filter="url(#blur1)"/>
<text x="145.3" y="130.5" font-size="5.5" font-weight="bold">Borealin<tspan font-size="4.3" dy="1.0">10-280</tspan><tspan dy="-3">*</tspan></text>
<text x="145.3" y="152.0" font-size="5.5" font-weight="bold">Survivin</text>
<text x="145.3" y="169.5" font-size="5.5" font-weight="bold">INCENP<tspan font-size="4.3" dy="1.0">1-58</tspan></text>
<text x="145.3" y="192.8" font-size="5.5" font-weight="bold">Sgo1<tspan font-size="4.3" dy="1.0">130-280</tspan></text>
<text x="145.3" y="236.9" font-size="5.5" font-weight="bold">Borealin<tspan font-size="4.3" dy="1.0">10-280</tspan></text>
<text x="145.3" y="242.1" font-size="5.5" font-weight="bold">Sgo1<tspan font-size="4.3" dy="1.0">130-280</tspan></text>
<text x="145.3" y="259.0" font-size="5.5" font-weight="bold">Survivin</text>
<text x="145.3" y="276.0" font-size="5.5" font-weight="bold">INCENP<tspan font-size="4.3" dy="1.0">1-58</tspan></text>
<rect x="214.7" y="116.8" width="110.10000000000002" height="54.500000000000014" fill="#eeeeee" stroke="#adadad" stroke-width="0.8"/>
<rect x="214.7" y="171.5" width="110.10000000000002" height="53.80000000000001" fill="#ebebeb" stroke="#adadad" stroke-width="0.8"/>
<rect x="214.7" y="227.0" width="110.10000000000002" height="52.80000000000001" fill="#efefef" stroke="#adadad" stroke-width="0.8"/>
<polyline points="218.1,115.5 269.6,99.8 326.5,99.8 326.5,115.5 218.1,115.5" fill="none" stroke="#666" stroke-width="0.8"/>
<text x="263" y="108.5" font-size="7" font-weight="bold">ml</text>
<text x="197.8" y="118" font-size="6" font-weight="bold" text-anchor="start" fill="#000" >kD</text>
<line x1="212.10000000000002" y1="122.6" x2="214.3" y2="122.6" stroke="#000" stroke-width="0.8"/>
<text x="211.70000000000002" y="124.8" font-size="6.2" font-weight="bold" text-anchor="end" fill="#000" >35</text>
<line x1="212.10000000000002" y1="136.5" x2="214.3" y2="136.5" stroke="#000" stroke-width="0.8"/>
<text x="211.70000000000002" y="138.7" font-size="6.2" font-weight="bold" text-anchor="end" fill="#000" >25</text>
<line x1="212.10000000000002" y1="152.4" x2="214.3" y2="152.4" stroke="#000" stroke-width="0.8"/>
<text x="211.70000000000002" y="154.6" font-size="6.2" font-weight="bold" text-anchor="end" fill="#000" >18</text>
<line x1="212.10000000000002" y1="172.1" x2="214.3" y2="172.1" stroke="#000" stroke-width="0.8"/>
<text x="211.70000000000002" y="174.29999999999998" font-size="6.2" font-weight="bold" text-anchor="end" fill="#000" >35</text>
<line x1="212.10000000000002" y1="185.8" x2="214.3" y2="185.8" stroke="#000" stroke-width="0.8"/>
<text x="211.70000000000002" y="188.0" font-size="6.2" font-weight="bold" text-anchor="end" fill="#000" >25</text>
<line x1="212.10000000000002" y1="201" x2="214.3" y2="201" stroke="#000" stroke-width="0.8"/>
<text x="211.70000000000002" y="203.2" font-size="6.2" font-weight="bold" text-anchor="end" fill="#000" >18</text>
<line x1="212.10000000000002" y1="229.5" x2="214.3" y2="229.5" stroke="#000" stroke-width="0.8"/>
<text x="211.70000000000002" y="231.7" font-size="6.2" font-weight="bold" text-anchor="end" fill="#000" >35</text>
<line x1="212.10000000000002" y1="244.1" x2="214.3" y2="244.1" stroke="#000" stroke-width="0.8"/>
<text x="211.70000000000002" y="246.29999999999998" font-size="6.2" font-weight="bold" text-anchor="end" fill="#000" >25</text>
<line x1="212.10000000000002" y1="259.7" x2="214.3" y2="259.7" stroke="#000" stroke-width="0.8"/>
<text x="211.70000000000002" y="261.9" font-size="6.2" font-weight="bold" text-anchor="end" fill="#000" >18</text>
<rect x="222.80" y="128.25" width="6.4" height="1.5" rx="0.8" fill="rgb(55,55,55)" fill-opacity="0.38" filter="url(#blur1)"/>
<rect x="230.90" y="128.25" width="6.4" height="1.5" rx="0.8" fill="rgb(55,55,55)" fill-opacity="0.68" filter="url(#blur1)"/>
<rect x="239.00" y="128.25" width="6.4" height="1.5" rx="0.8" fill="rgb(55,55,55)" fill-opacity="0.59" filter="url(#blur1)"/>
<rect x="247.10" y="128.25" width="6.4" height="1.5" rx="0.8" fill="rgb(55,55,55)" fill-opacity="0.47" filter="url(#blur1)"/>
<rect x="255.20" y="128.25" width="6.4" height="1.5" rx="0.8" fill="rgb(55,55,55)" fill-opacity="0.34" filter="url(#blur1)"/>
<rect x="263.30" y="128.25" width="6.4" height="1.5" rx="0.8" fill="rgb(55,55,55)" fill-opacity="0.30" filter="url(#blur1)"/>
<rect x="271.40" y="128.25" width="6.4" height="1.5" rx="0.8" fill="rgb(55,55,55)" fill-opacity="0.26" filter="url(#blur1)"/>
<rect x="279.50" y="128.25" width="6.4" height="1.5" rx="0.8" fill="rgb(55,55,55)" fill-opacity="0.21" filter="url(#blur1)"/>
<rect x="287.60" y="128.25" width="6.4" height="1.5" rx="0.8" fill="rgb(55,55,55)" fill-opacity="0.17" filter="url(#blur1)"/>
<rect x="295.70" y="128.25" width="6.4" height="1.5" rx="0.8" fill="rgb(55,55,55)" fill-opacity="0.15" filter="url(#blur1)"/>
<rect x="303.80" y="128.25" width="6.4" height="1.5" rx="0.8" fill="rgb(55,55,55)" fill-opacity="0.13" filter="url(#blur1)"/>
<rect x="311.90" y="128.25" width="6.4" height="1.5" rx="0.8" fill="rgb(55,55,55)" fill-opacity="0.09" filter="url(#blur1)"/>
<rect x="222.80" y="149.35" width="6.4" height="1.5" rx="0.8" fill="rgb(55,55,55)" fill-opacity="0.26" filter="url(#blur1)"/>
<rect x="230.90" y="149.35" width="6.4" height="1.5" rx="0.8" fill="rgb(55,55,55)" fill-opacity="0.42" filter="url(#blur1)"/>
<rect x="239.00" y="149.35" width="6.4" height="1.5" rx="0.8" fill="rgb(55,55,55)" fill-opacity="0.38" filter="url(#blur1)"/>
<rect x="247.10" y="149.35" width="6.4" height="1.5" rx="0.8" fill="rgb(55,55,55)" fill-opacity="0.30" filter="url(#blur1)"/>
<rect x="255.20" y="149.35" width="6.4" height="1.5" rx="0.8" fill="rgb(55,55,55)" fill-opacity="0.26" filter="url(#blur1)"/>
<rect x="263.30" y="149.35" width="6.4" height="1.5" rx="0.8" fill="rgb(55,55,55)" fill-opacity="0.26" filter="url(#blur1)"/>
<rect x="271.40" y="149.35" width="6.4" height="1.5" rx="0.8" fill="rgb(55,55,55)" fill-opacity="0.21" filter="url(#blur1)"/>
<rect x="279.50" y="149.35" width="6.4" height="1.5" rx="0.8" fill="rgb(55,55,55)" fill-opacity="0.17" filter="url(#blur1)"/>
<rect x="287.60" y="149.35" width="6.4" height="1.5" rx="0.8" fill="rgb(55,55,55)" fill-opacity="0.13" filter="url(#blur1)"/>
<rect x="295.70" y="149.35" width="6.4" height="1.5" rx="0.8" fill="rgb(55,55,55)" fill-opacity="0.10" filter="url(#blur1)"/>
<rect x="303.80" y="149.35" width="6.4" height="1.5" rx="0.8" fill="rgb(55,55,55)" fill-opacity="0.09" filter="url(#blur1)"/>
<rect x="311.90" y="149.35" width="6.4" height="1.5" rx="0.8" fill="rgb(55,55,55)" fill-opacity="0.07" filter="url(#blur1)"/>
<rect x="222.80" y="167.25" width="6.4" height="1.5" rx="0.8" fill="rgb(55,55,55)" fill-opacity="0.09" filter="url(#blur1)"/>
<rect x="230.90" y="167.25" width="6.4" height="1.5" rx="0.8" fill="rgb(55,55,55)" fill-opacity="0.10" filter="url(#blur1)"/>
<rect x="239.00" y="167.25" width="6.4" height="1.5" rx="0.8" fill="rgb(55,55,55)" fill-opacity="0.09" filter="url(#blur1)"/>
<rect x="271.40" y="184.35" width="6.4" height="1.5" rx="0.8" fill="rgb(55,55,55)" fill-opacity="0.17" filter="url(#blur1)"/>
<rect x="279.50" y="184.35" width="6.4" height="1.5" rx="0.8" fill="rgb(55,55,55)" fill-opacity="0.34" filter="url(#blur1)"/>
<rect x="287.60" y="184.35" width="6.4" height="1.5" rx="0.8" fill="rgb(55,55,55)" fill-opacity="0.42" filter="url(#blur1)"/>
<rect x="295.70" y="184.35" width="6.4" height="1.5" rx="0.8" fill="rgb(55,55,55)" fill-opacity="0.42" filter="url(#blur1)"/>
<rect x="303.80" y="184.35" width="6.4" height="1.5" rx="0.8" fill="rgb(55,55,55)" fill-opacity="0.38" filter="url(#blur1)"/>
<rect x="311.90" y="184.35" width="6.4" height="1.5" rx="0.8" fill="rgb(55,55,55)" fill-opacity="0.26" filter="url(#blur1)"/>
<rect x="222.80" y="235.95" width="6.4" height="1.5" rx="0.8" fill="rgb(55,55,55)" fill-opacity="0.47" filter="url(#blur1)"/>
<rect x="230.90" y="235.95" width="6.4" height="1.5" rx="0.8" fill="rgb(55,55,55)" fill-opacity="0.59" filter="url(#blur1)"/>
<rect x="239.00" y="235.95" width="6.4" height="1.5" rx="0.8" fill="rgb(55,55,55)" fill-opacity="0.51" filter="url(#blur1)"/>
<rect x="247.10" y="235.95" width="6.4" height="1.5" rx="0.8" fill="rgb(55,55,55)" fill-opacity="0.42" filter="url(#blur1)"/>
<rect x="255.20" y="235.95" width="6.4" height="1.5" rx="0.8" fill="rgb(55,55,55)" fill-opacity="0.34" filter="url(#blur1)"/>
<rect x="263.30" y="235.95" width="6.4" height="1.5" rx="0.8" fill="rgb(55,55,55)" fill-opacity="0.26" filter="url(#blur1)"/>
<rect x="271.40" y="235.95" width="6.4" height="1.5" rx="0.8" fill="rgb(55,55,55)" fill-opacity="0.21" filter="url(#blur1)"/>
<rect x="279.50" y="235.95" width="6.4" height="1.5" rx="0.8" fill="rgb(55,55,55)" fill-opacity="0.17" filter="url(#blur1)"/>
<rect x="287.60" y="235.95" width="6.4" height="1.5" rx="0.8" fill="rgb(55,55,55)" fill-opacity="0.15" filter="url(#blur1)"/>
<rect x="295.70" y="235.95" width="6.4" height="1.5" rx="0.8" fill="rgb(55,55,55)" fill-opacity="0.13" filter="url(#blur1)"/>
<rect x="303.80" y="235.95" width="6.4" height="1.5" rx="0.8" fill="rgb(55,55,55)" fill-opacity="0.10" filter="url(#blur1)"/>
<rect x="311.90" y="235.95" width="6.4" height="1.5" rx="0.8" fill="rgb(55,55,55)" fill-opacity="0.09" filter="url(#blur1)"/>
<rect x="222.80" y="241.75" width="6.4" height="1.5" rx="0.8" fill="rgb(55,55,55)" fill-opacity="0.17" filter="url(#blur1)"/>
<rect x="230.90" y="241.75" width="6.4" height="1.5" rx="0.8" fill="rgb(55,55,55)" fill-opacity="0.21" filter="url(#blur1)"/>
<rect x="239.00" y="241.75" width="6.4" height="1.5" rx="0.8" fill="rgb(55,55,55)" fill-opacity="0.17" filter="url(#blur1)"/>
<rect x="247.10" y="241.75" width="6.4" height="1.5" rx="0.8" fill="rgb(55,55,55)" fill-opacity="0.13" filter="url(#blur1)"/>
<rect x="255.20" y="241.75" width="6.4" height="1.5" rx="0.8" fill="rgb(55,55,55)" fill-opacity="0.10" filter="url(#blur1)"/>
<rect x="263.30" y="241.75" width="6.4" height="1.5" rx="0.8" fill="rgb(55,55,55)" fill-opacity="0.10" filter="url(#blur1)"/>
<rect x="271.40" y="241.75" width="6.4" height="1.5" rx="0.8" fill="rgb(55,55,55)" fill-opacity="0.13" filter="url(#blur1)"/>
<rect x="279.50" y="241.75" width="6.4" height="1.5" rx="0.8" fill="rgb(55,55,55)" fill-opacity="0.26" filter="url(#blur1)"/>
<rect x="287.60" y="241.75" width="6.4" height="1.5" rx="0.8" fill="rgb(55,55,55)" fill-opacity="0.26" filter="url(#blur1)"/>
<rect x="295.70" y="241.75" width="6.4" height="1.5" rx="0.8" fill="rgb(55,55,55)" fill-opacity="0.17" filter="url(#blur1)"/>
<rect x="303.80" y="241.75" width="6.4" height="1.5" rx="0.8" fill="rgb(55,55,55)" fill-opacity="0.09" filter="url(#blur1)"/>
<rect x="311.90" y="241.75" width="6.4" height="1.5" rx="0.8" fill="rgb(55,55,55)" fill-opacity="0.04" filter="url(#blur1)"/>
<rect x="222.80" y="253.75" width="6.4" height="1.5" rx="0.8" fill="rgb(55,55,55)" fill-opacity="0.26" filter="url(#blur1)"/>
<rect x="230.90" y="253.75" width="6.4" height="1.5" rx="0.8" fill="rgb(55,55,55)" fill-opacity="0.38" filter="url(#blur1)"/>
<rect x="239.00" y="253.75" width="6.4" height="1.5" rx="0.8" fill="rgb(55,55,55)" fill-opacity="0.30" filter="url(#blur1)"/>
<rect x="247.10" y="253.75" width="6.4" height="1.5" rx="0.8" fill="rgb(55,55,55)" fill-opacity="0.24" filter="url(#blur1)"/>
<rect x="255.20" y="253.75" width="6.4" height="1.5" rx="0.8" fill="rgb(55,55,55)" fill-opacity="0.17" filter="url(#blur1)"/>
<rect x="263.30" y="253.75" width="6.4" height="1.5" rx="0.8" fill="rgb(55,55,55)" fill-opacity="0.13" filter="url(#blur1)"/>
<rect x="271.40" y="253.75" width="6.4" height="1.5" rx="0.8" fill="rgb(55,55,55)" fill-opacity="0.09" filter="url(#blur1)"/>
<rect x="279.50" y="253.75" width="6.4" height="1.5" rx="0.8" fill="rgb(55,55,55)" fill-opacity="0.07" filter="url(#blur1)"/>
<rect x="287.60" y="253.75" width="6.4" height="1.5" rx="0.8" fill="rgb(55,55,55)" fill-opacity="0.05" filter="url(#blur1)"/>
<rect x="295.70" y="253.75" width="6.4" height="1.5" rx="0.8" fill="rgb(55,55,55)" fill-opacity="0.04" filter="url(#blur1)"/>
<ellipse cx="290" cy="170" rx="5" ry="2.5" fill="#999" fill-opacity="0.5" filter="url(#blur2)"/>
<ellipse cx="249" cy="279.5" rx="5" ry="2.5" fill="#999" fill-opacity="0.45" filter="url(#blur2)"/>
<ellipse cx="283" cy="279" rx="5" ry="2.5" fill="#999" fill-opacity="0.45" filter="url(#blur2)"/>
<ellipse cx="114" cy="170" rx="5" ry="2.5" fill="#999" fill-opacity="0.45" filter="url(#blur2)"/>
<text x="326.6" y="130.2" font-size="5.5" font-weight="bold">Borealin<tspan font-size="4.3" dy="1.0">10-280</tspan><tspan dy="-3">*</tspan></text>
<text x="326.6" y="152.2" font-size="5.5" font-weight="bold">Survivin</text>
<text x="326.6" y="169.4" font-size="5.5" font-weight="bold">INCENP<tspan font-size="4.3" dy="1.0">1-58</tspan></text>
<text x="326.6" y="185.6" font-size="5.5" font-weight="bold">Sgo1<tspan font-size="4.3" dy="1.0">130-280 4A</tspan></text>
<text x="326.6" y="237.0" font-size="5.5" font-weight="bold">Borealin<tspan font-size="4.3" dy="1.0">10-280</tspan></text>
<text x="326.6" y="242.6" font-size="5.5" font-weight="bold">Sgo1<tspan font-size="4.3" dy="1.0">130-280 4A</tspan></text>
<text x="326.6" y="259.0" font-size="5.5" font-weight="bold">Survivin</text>
<text x="326.6" y="276.0" font-size="5.5" font-weight="bold">INCENP<tspan font-size="4.3" dy="1.0">1-58</tspan></text>
<rect x="396.6" y="112.3" width="78.69999999999999" height="69.7" fill="#f3f3f3" stroke="#adadad" stroke-width="0.8"/>
<rect x="396.6" y="184.4" width="78.69999999999999" height="68.9" fill="#efefef" stroke="#adadad" stroke-width="0.8"/>
<rect x="396.6" y="255.2" width="78.69999999999999" height="69.19999999999999" fill="#f7f7f7" stroke="#adadad" stroke-width="0.8"/>
<rect x="396.6" y="326.2" width="78.69999999999999" height="68.80000000000001" fill="#e9e9e9" stroke="#adadad" stroke-width="0.8"/>
<rect x="396.6" y="397.0" width="78.69999999999999" height="69.0" fill="#f6f6f6" stroke="#adadad" stroke-width="0.8"/>
<polyline points="396.8,112.3 435,98.4 464.8,98.4 474.8,112.3" fill="none" stroke="#666" stroke-width="0.8"/>
<text x="437.8" y="106.8" font-size="7" font-weight="bold">ml</text>
<text x="382.4" y="109.5" font-size="6.5" font-weight="bold" text-anchor="start" fill="#000" >kD</text>
<line x1="394.0" y1="116.5" x2="396.2" y2="116.5" stroke="#000" stroke-width="0.8"/>
<text x="393.59999999999997" y="118.7" font-size="6.9" font-weight="bold" text-anchor="end" fill="#000" >66</text>
<line x1="394.0" y1="129" x2="396.2" y2="129" stroke="#000" stroke-width="0.8"/>
<text x="393.59999999999997" y="131.2" font-size="6.9" font-weight="bold" text-anchor="end" fill="#000" >45</text>
<line x1="394.0" y1="136.6" x2="396.2" y2="136.6" stroke="#000" stroke-width="0.8"/>
<text x="393.59999999999997" y="138.79999999999998" font-size="6.9" font-weight="bold" text-anchor="end" fill="#000" >35</text>
<line x1="394.0" y1="148" x2="396.2" y2="148" stroke="#000" stroke-width="0.8"/>
<text x="393.59999999999997" y="150.2" font-size="6.9" font-weight="bold" text-anchor="end" fill="#000" >25</text>
<line x1="394.0" y1="159.2" x2="396.2" y2="159.2" stroke="#000" stroke-width="0.8"/>
<text x="393.59999999999997" y="161.39999999999998" font-size="6.9" font-weight="bold" text-anchor="end" fill="#000" >18</text>
<line x1="394.0" y1="186.2" x2="396.2" y2="186.2" stroke="#000" stroke-width="0.8"/>
<text x="393.59999999999997" y="188.39999999999998" font-size="6.9" font-weight="bold" text-anchor="end" fill="#000" >66</text>
<line x1="394.0" y1="198.7" x2="396.2" y2="198.7" stroke="#000" stroke-width="0.8"/>
<text x="393.59999999999997" y="200.89999999999998" font-size="6.9" font-weight="bold" text-anchor="end" fill="#000" >45</text>
<line x1="394.0" y1="206.7" x2="396.2" y2="206.7" stroke="#000" stroke-width="0.8"/>
<text x="393.59999999999997" y="208.89999999999998" font-size="6.9" font-weight="bold" text-anchor="end" fill="#000" >35</text>
<line x1="394.0" y1="218.3" x2="396.2" y2="218.3" stroke="#000" stroke-width="0.8"/>
<text x="393.59999999999997" y="220.5" font-size="6.9" font-weight="bold" text-anchor="end" fill="#000" >25</text>
<line x1="394.0" y1="229.4" x2="396.2" y2="229.4" stroke="#000" stroke-width="0.8"/>
<text x="393.59999999999997" y="231.6" font-size="6.9" font-weight="bold" text-anchor="end" fill="#000" >18</text>
<line x1="394.0" y1="257.7" x2="396.2" y2="257.7" stroke="#000" stroke-width="0.8"/>
<text x="393.59999999999997" y="259.9" font-size="6.9" font-weight="bold" text-anchor="end" fill="#000" >66</text>
<line x1="394.0" y1="270" x2="396.2" y2="270" stroke="#000" stroke-width="0.8"/>
<text x="393.59999999999997" y="272.2" font-size="6.9" font-weight="bold" text-anchor="end" fill="#000" >45</text>
<line x1="394.0" y1="278.7" x2="396.2" y2="278.7" stroke="#000" stroke-width="0.8"/>
<text x="393.59999999999997" y="280.9" font-size="6.9" font-weight="bold" text-anchor="end" fill="#000" >35</text>
<line x1="394.0" y1="289.4" x2="396.2" y2="289.4" stroke="#000" stroke-width="0.8"/>
<text x="393.59999999999997" y="291.59999999999997" font-size="6.9" font-weight="bold" text-anchor="end" fill="#000" >25</text>
<line x1="394.0" y1="300.4" x2="396.2" y2="300.4" stroke="#000" stroke-width="0.8"/>
<text x="393.59999999999997" y="302.59999999999997" font-size="6.9" font-weight="bold" text-anchor="end" fill="#000" >18</text>
<line x1="394.0" y1="332.5" x2="396.2" y2="332.5" stroke="#000" stroke-width="0.8"/>
<text x="393.59999999999997" y="334.7" font-size="6.9" font-weight="bold" text-anchor="end" fill="#000" >66</text>
<line x1="394.0" y1="344.4" x2="396.2" y2="344.4" stroke="#000" stroke-width="0.8"/>
<text x="393.59999999999997" y="346.59999999999997" font-size="6.9" font-weight="bold" text-anchor="end" fill="#000" >45</text>
<line x1="394.0" y1="352.3" x2="396.2" y2="352.3" stroke="#000" stroke-width="0.8"/>
<text x="393.59999999999997" y="354.5" font-size="6.9" font-weight="bold" text-anchor="end" fill="#000" >35</text>
<line x1="394.0" y1="363.8" x2="396.2" y2="363.8" stroke="#000" stroke-width="0.8"/>
<text x="393.59999999999997" y="366.0" font-size="6.9" font-weight="bold" text-anchor="end" fill="#000" >25</text>
<line x1="394.0" y1="375.2" x2="396.2" y2="375.2" stroke="#000" stroke-width="0.8"/>
<text x="393.59999999999997" y="377.4" font-size="6.9" font-weight="bold" text-anchor="end" fill="#000" >18</text>
<line x1="394.0" y1="398.8" x2="396.2" y2="398.8" stroke="#000" stroke-width="0.8"/>
<text x="393.59999999999997" y="401.0" font-size="6.9" font-weight="bold" text-anchor="end" fill="#000" >66</text>
<line x1="394.0" y1="410.8" x2="396.2" y2="410.8" stroke="#000" stroke-width="0.8"/>
<text x="393.59999999999997" y="413.0" font-size="6.9" font-weight="bold" text-anchor="end" fill="#000" >45</text>
<line x1="394.0" y1="419.8" x2="396.2" y2="419.8" stroke="#000" stroke-width="0.8"/>
<text x="393.59999999999997" y="422.0" font-size="6.9" font-weight="bold" text-anchor="end" fill="#000" >35</text>
<line x1="394.0" y1="430.4" x2="396.2" y2="430.4" stroke="#000" stroke-width="0.8"/>
<text x="393.59999999999997" y="432.59999999999997" font-size="6.9" font-weight="bold" text-anchor="end" fill="#000" >25</text>
<line x1="394.0" y1="441.5" x2="396.2" y2="441.5" stroke="#000" stroke-width="0.8"/>
<text x="393.59999999999997" y="443.7" font-size="6.9" font-weight="bold" text-anchor="end" fill="#000" >18</text>
<rect x="412.90" y="137.25" width="6.8" height="1.5" rx="0.8" fill="rgb(55,55,55)" fill-opacity="0.13" filter="url(#blur1)"/>
<rect x="421.20" y="137.25" width="6.8" height="1.5" rx="0.8" fill="rgb(55,55,55)" fill-opacity="0.68" filter="url(#blur1)"/>
<rect x="429.50" y="137.25" width="6.8" height="1.5" rx="0.8" fill="rgb(55,55,55)" fill-opacity="0.64" filter="url(#blur1)"/>
<rect x="437.90" y="137.25" width="6.8" height="1.5" rx="0.8" fill="rgb(55,55,55)" fill-opacity="0.38" filter="url(#blur1)"/>
<rect x="446.60" y="137.25" width="6.8" height="1.5" rx="0.8" fill="rgb(55,55,55)" fill-opacity="0.26" filter="url(#blur1)"/>
<rect x="455.30" y="137.25" width="6.8" height="1.5" rx="0.8" fill="rgb(55,55,55)" fill-opacity="0.13" filter="url(#blur1)"/>
<rect x="421.20" y="144.25" width="6.8" height="1.5" rx="0.8" fill="rgb(55,55,55)" fill-opacity="0.10" filter="url(#blur1)"/>
<rect x="429.50" y="144.25" width="6.8" height="1.5" rx="0.8" fill="rgb(55,55,55)" fill-opacity="0.10" filter="url(#blur1)"/>
<rect x="437.90" y="144.25" width="6.8" height="1.5" rx="0.8" fill="rgb(55,55,55)" fill-opacity="0.04" filter="url(#blur1)"/>
<rect x="412.90" y="154.65" width="6.8" height="1.5" rx="0.8" fill="rgb(55,55,55)" fill-opacity="0.21" filter="url(#blur1)"/>
<rect x="421.20" y="154.65" width="6.8" height="1.5" rx="0.8" fill="rgb(55,55,55)" fill-opacity="0.55" filter="url(#blur1)"/>
<rect x="429.50" y="154.65" width="6.8" height="1.5" rx="0.8" fill="rgb(55,55,55)" fill-opacity="0.51" filter="url(#blur1)"/>
<rect x="437.90" y="154.65" width="6.8" height="1.5" rx="0.8" fill="rgb(55,55,55)" fill-opacity="0.34" filter="url(#blur1)"/>
<rect x="446.60" y="154.65" width="6.8" height="1.5" rx="0.8" fill="rgb(55,55,55)" fill-opacity="0.26" filter="url(#blur1)"/>
<rect x="455.30" y="154.65" width="6.8" height="1.5" rx="0.8" fill="rgb(55,55,55)" fill-opacity="0.13" filter="url(#blur1)"/>
<rect x="421.20" y="175.25" width="6.8" height="1.5" rx="0.8" fill="rgb(55,55,55)" fill-opacity="0.30" filter="url(#blur1)"/>
<rect x="429.50" y="175.25" width="6.8" height="1.5" rx="0.8" fill="rgb(55,55,55)" fill-opacity="0.26" filter="url(#blur1)"/>
<rect x="437.90" y="175.25" width="6.8" height="1.5" rx="0.8" fill="rgb(55,55,55)" fill-opacity="0.09" filter="url(#blur1)"/>
<rect x="421.10" y="193.65" width="6.6" height="1.5" rx="0.8" fill="rgb(55,55,55)" fill-opacity="0.30" filter="url(#blur1)"/>
<rect x="429.20" y="193.65" width="6.6" height="1.5" rx="0.8" fill="rgb(55,55,55)" fill-opacity="0.47" filter="url(#blur1)"/>
<rect x="437.30" y="193.65" width="6.6" height="1.5" rx="0.8" fill="rgb(55,55,55)" fill-opacity="0.42" filter="url(#blur1)"/>
<rect x="445.30" y="193.65" width="6.6" height="1.5" rx="0.8" fill="rgb(55,55,55)" fill-opacity="0.30" filter="url(#blur1)"/>
<rect x="453.40" y="193.65" width="6.6" height="1.5" rx="0.8" fill="rgb(55,55,55)" fill-opacity="0.26" filter="url(#blur1)"/>
<rect x="421.10" y="198.40" width="6.6" height="1.2" rx="0.8" fill="rgb(55,55,55)" fill-opacity="0.05" filter="url(#blur1)"/>
<rect x="429.20" y="198.40" width="6.6" height="1.2" rx="0.8" fill="rgb(55,55,55)" fill-opacity="0.09" filter="url(#blur1)"/>
<rect x="437.30" y="198.40" width="6.6" height="1.2" rx="0.8" fill="rgb(55,55,55)" fill-opacity="0.09" filter="url(#blur1)"/>
<rect x="445.30" y="198.40" width="6.6" height="1.2" rx="0.8" fill="rgb(55,55,55)" fill-opacity="0.07" filter="url(#blur1)"/>
<rect x="453.40" y="198.40" width="6.6" height="1.2" rx="0.8" fill="rgb(55,55,55)" fill-opacity="0.04" filter="url(#blur1)"/>
<rect x="421.10" y="201.40" width="6.6" height="1.2" rx="0.8" fill="rgb(55,55,55)" fill-opacity="0.05" filter="url(#blur1)"/>
<rect x="429.20" y="201.40" width="6.6" height="1.2" rx="0.8" fill="rgb(55,55,55)" fill-opacity="0.09" filter="url(#blur1)"/>
<rect x="437.30" y="201.40" width="6.6" height="1.2" rx="0.8" fill="rgb(55,55,55)" fill-opacity="0.09" filter="url(#blur1)"/>
<rect x="445.30" y="201.40" width="6.6" height="1.2" rx="0.8" fill="rgb(55,55,55)" fill-opacity="0.07" filter="url(#blur1)"/>
<rect x="453.40" y="201.40" width="6.6" height="1.2" rx="0.8" fill="rgb(55,55,55)" fill-opacity="0.04" filter="url(#blur1)"/>
<rect x="421.10" y="204.40" width="6.6" height="1.2" rx="0.8" fill="rgb(55,55,55)" fill-opacity="0.05" filter="url(#blur1)"/>
<rect x="429.20" y="204.40" width="6.6" height="1.2" rx="0.8" fill="rgb(55,55,55)" fill-opacity="0.09" filter="url(#blur1)"/>
<rect x="437.30" y="204.40" width="6.6" height="1.2" rx="0.8" fill="rgb(55,55,55)" fill-opacity="0.09" filter="url(#blur1)"/>
<rect x="445.30" y="204.40" width="6.6" height="1.2" rx="0.8" fill="rgb(55,55,55)" fill-opacity="0.07" filter="url(#blur1)"/>
<rect x="453.40" y="204.40" width="6.6" height="1.2" rx="0.8" fill="rgb(55,55,55)" fill-opacity="0.04" filter="url(#blur1)"/>
<rect x="421.10" y="207.40" width="6.6" height="1.2" rx="0.8" fill="rgb(55,55,55)" fill-opacity="0.05" filter="url(#blur1)"/>
<rect x="429.20" y="207.40" width="6.6" height="1.2" rx="0.8" fill="rgb(55,55,55)" fill-opacity="0.09" filter="url(#blur1)"/>
<rect x="437.30" y="207.40" width="6.6" height="1.2" rx="0.8" fill="rgb(55,55,55)" fill-opacity="0.09" filter="url(#blur1)"/>
<rect x="445.30" y="207.40" width="6.6" height="1.2" rx="0.8" fill="rgb(55,55,55)" fill-opacity="0.07" filter="url(#blur1)"/>
<rect x="453.40" y="207.40" width="6.6" height="1.2" rx="0.8" fill="rgb(55,55,55)" fill-opacity="0.04" filter="url(#blur1)"/>
<ellipse cx="441.3" cy="252.0" rx="2.8" ry="1.6" fill="#333" fill-opacity="0.75" filter="url(#blur1)"/>
<rect x="397.10" y="263.65" width="6.8" height="1.5" rx="0.8" fill="rgb(55,55,55)" fill-opacity="0.30" filter="url(#blur1)"/>
<rect x="405.90" y="263.65" width="6.8" height="1.5" rx="0.8" fill="rgb(55,55,55)" fill-opacity="0.51" filter="url(#blur1)"/>
<rect x="414.20" y="263.65" width="6.8" height="1.5" rx="0.8" fill="rgb(55,55,55)" fill-opacity="0.47" filter="url(#blur1)"/>
<rect x="422.10" y="263.65" width="6.8" height="1.5" rx="0.8" fill="rgb(55,55,55)" fill-opacity="0.38" filter="url(#blur1)"/>
<rect x="430.30" y="263.65" width="6.8" height="1.5" rx="0.8" fill="rgb(55,55,55)" fill-opacity="0.26" filter="url(#blur1)"/>
<rect x="438.10" y="263.65" width="6.8" height="1.5" rx="0.8" fill="rgb(55,55,55)" fill-opacity="0.17" filter="url(#blur1)"/>
<rect x="446.20" y="263.65" width="6.8" height="1.5" rx="0.8" fill="rgb(55,55,55)" fill-opacity="0.10" filter="url(#blur1)"/>
<rect x="454.90" y="263.65" width="6.8" height="1.5" rx="0.8" fill="rgb(55,55,55)" fill-opacity="0.09" filter="url(#blur1)"/>
<rect x="397.10" y="267.90" width="6.8" height="1.2" rx="0.8" fill="rgb(55,55,55)" fill-opacity="0.04" filter="url(#blur1)"/>
<rect x="405.90" y="267.90" width="6.8" height="1.2" rx="0.8" fill="rgb(55,55,55)" fill-opacity="0.13" filter="url(#blur1)"/>
<rect x="414.20" y="267.90" width="6.8" height="1.2" rx="0.8" fill="rgb(55,55,55)" fill-opacity="0.13" filter="url(#blur1)"/>
<rect x="422.10" y="267.90" width="6.8" height="1.2" rx="0.8" fill="rgb(55,55,55)" fill-opacity="0.09" filter="url(#blur1)"/>
<rect x="430.30" y="267.90" width="6.8" height="1.2" rx="0.8" fill="rgb(55,55,55)" fill-opacity="0.04" filter="url(#blur1)"/>
<rect x="397.10" y="270.90" width="6.8" height="1.2" rx="0.8" fill="rgb(55,55,55)" fill-opacity="0.04" filter="url(#blur1)"/>
<rect x="405.90" y="270.90" width="6.8" height="1.2" rx="0.8" fill="rgb(55,55,55)" fill-opacity="0.13" filter="url(#blur1)"/>
<rect x="414.20" y="270.90" width="6.8" height="1.2" rx="0.8" fill="rgb(55,55,55)" fill-opacity="0.13" filter="url(#blur1)"/>
<rect x="422.10" y="270.90" width="6.8" height="1.2" rx="0.8" fill="rgb(55,55,55)" fill-opacity="0.09" filter="url(#blur1)"/>
<rect x="430.30" y="270.90" width="6.8" height="1.2" rx="0.8" fill="rgb(55,55,55)" fill-opacity="0.04" filter="url(#blur1)"/>
<rect x="397.10" y="273.90" width="6.8" height="1.2" rx="0.8" fill="rgb(55,55,55)" fill-opacity="0.04" filter="url(#blur1)"/>
<rect x="405.90" y="273.90" width="6.8" height="1.2" rx="0.8" fill="rgb(55,55,55)" fill-opacity="0.13" filter="url(#blur1)"/>
<rect x="414.20" y="273.90" width="6.8" height="1.2" rx="0.8" fill="rgb(55,55,55)" fill-opacity="0.13" filter="url(#blur1)"/>
<rect x="422.10" y="273.90" width="6.8" height="1.2" rx="0.8" fill="rgb(55,55,55)" fill-opacity="0.09" filter="url(#blur1)"/>
<rect x="430.30" y="273.90" width="6.8" height="1.2" rx="0.8" fill="rgb(55,55,55)" fill-opacity="0.04" filter="url(#blur1)"/>
<rect x="397.10" y="279.85" width="6.8" height="1.5" rx="0.8" fill="rgb(55,55,55)" fill-opacity="0.34" filter="url(#blur1)"/>
<rect x="405.90" y="279.85" width="6.8" height="1.5" rx="0.8" fill="rgb(55,55,55)" fill-opacity="0.59" filter="url(#blur1)"/>
<rect x="414.20" y="279.85" width="6.8" height="1.5" rx="0.8" fill="rgb(55,55,55)" fill-opacity="0.55" filter="url(#blur1)"/>
<rect x="422.10" y="279.85" width="6.8" height="1.5" rx="0.8" fill="rgb(55,55,55)" fill-opacity="0.42" filter="url(#blur1)"/>
<rect x="430.30" y="279.85" width="6.8" height="1.5" rx="0.8" fill="rgb(55,55,55)" fill-opacity="0.30" filter="url(#blur1)"/>
<rect x="438.10" y="279.85" width="6.8" height="1.5" rx="0.8" fill="rgb(55,55,55)" fill-opacity="0.21" filter="url(#blur1)"/>
<rect x="446.20" y="279.85" width="6.8" height="1.5" rx="0.8" fill="rgb(55,55,55)" fill-opacity="0.13" filter="url(#blur1)"/>
<rect x="454.90" y="279.85" width="6.8" height="1.5" rx="0.8" fill="rgb(55,55,55)" fill-opacity="0.09" filter="url(#blur1)"/>
<rect x="397.10" y="297.25" width="6.8" height="1.5" rx="0.8" fill="rgb(55,55,55)" fill-opacity="0.26" filter="url(#blur1)"/>
<rect x="405.90" y="297.25" width="6.8" height="1.5" rx="0.8" fill="rgb(55,55,55)" fill-opacity="0.47" filter="url(#blur1)"/>
<rect x="414.20" y="297.25" width="6.8" height="1.5" rx="0.8" fill="rgb(55,55,55)" fill-opacity="0.42" filter="url(#blur1)"/>
<rect x="422.10" y="297.25" width="6.8" height="1.5" rx="0.8" fill="rgb(55,55,55)" fill-opacity="0.34" filter="url(#blur1)"/>
<rect x="430.30" y="297.25" width="6.8" height="1.5" rx="0.8" fill="rgb(55,55,55)" fill-opacity="0.26" filter="url(#blur1)"/>
<rect x="438.10" y="297.25" width="6.8" height="1.5" rx="0.8" fill="rgb(55,55,55)" fill-opacity="0.17" filter="url(#blur1)"/>
<rect x="446.20" y="297.25" width="6.8" height="1.5" rx="0.8" fill="rgb(55,55,55)" fill-opacity="0.13" filter="url(#blur1)"/>
<rect x="454.90" y="297.25" width="6.8" height="1.5" rx="0.8" fill="rgb(55,55,55)" fill-opacity="0.09" filter="url(#blur1)"/>
<rect x="405.90" y="318.85" width="6.8" height="1.5" rx="0.8" fill="rgb(55,55,55)" fill-opacity="0.26" filter="url(#blur1)"/>
<rect x="414.20" y="318.85" width="6.8" height="1.5" rx="0.8" fill="rgb(55,55,55)" fill-opacity="0.17" filter="url(#blur1)"/>
<rect x="422.10" y="318.85" width="6.8" height="1.5" rx="0.8" fill="rgb(55,55,55)" fill-opacity="0.09" filter="url(#blur1)"/>
<rect x="405.20" y="339.45" width="6.8" height="1.5" rx="0.8" fill="rgb(55,55,55)" fill-opacity="0.09" filter="url(#blur1)"/>
<rect x="412.90" y="339.45" width="6.8" height="1.5" rx="0.8" fill="rgb(55,55,55)" fill-opacity="0.13" filter="url(#blur1)"/>
<rect x="420.60" y="339.45" width="6.8" height="1.5" rx="0.8" fill="rgb(55,55,55)" fill-opacity="0.51" filter="url(#blur1)"/>
<rect x="428.30" y="339.45" width="6.8" height="1.5" rx="0.8" fill="rgb(55,55,55)" fill-opacity="0.59" filter="url(#blur1)"/>
<rect x="436.00" y="339.45" width="6.8" height="1.5" rx="0.8" fill="rgb(55,55,55)" fill-opacity="0.51" filter="url(#blur1)"/>
<rect x="443.70" y="339.45" width="6.8" height="1.5" rx="0.8" fill="rgb(55,55,55)" fill-opacity="0.42" filter="url(#blur1)"/>
<rect x="452.00" y="339.45" width="6.8" height="1.5" rx="0.8" fill="rgb(55,55,55)" fill-opacity="0.30" filter="url(#blur1)"/>
<rect x="420.60" y="343.90" width="6.8" height="1.2" rx="0.8" fill="rgb(55,55,55)" fill-opacity="0.13" filter="url(#blur1)"/>
<rect x="428.30" y="343.90" width="6.8" height="1.2" rx="0.8" fill="rgb(55,55,55)" fill-opacity="0.17" filter="url(#blur1)"/>
<rect x="436.00" y="343.90" width="6.8" height="1.2" rx="0.8" fill="rgb(55,55,55)" fill-opacity="0.13" filter="url(#blur1)"/>
<rect x="443.70" y="343.90" width="6.8" height="1.2" rx="0.8" fill="rgb(55,55,55)" fill-opacity="0.13" filter="url(#blur1)"/>
<rect x="452.00" y="343.90" width="6.8" height="1.2" rx="0.8" fill="rgb(55,55,55)" fill-opacity="0.04" filter="url(#blur1)"/>
<rect x="420.60" y="346.90" width="6.8" height="1.2" rx="0.8" fill="rgb(55,55,55)" fill-opacity="0.13" filter="url(#blur1)"/>
<rect x="428.30" y="346.90" width="6.8" height="1.2" rx="0.8" fill="rgb(55,55,55)" fill-opacity="0.17" filter="url(#blur1)"/>
<rect x="436.00" y="346.90" width="6.8" height="1.2" rx="0.8" fill="rgb(55,55,55)" fill-opacity="0.13" filter="url(#blur1)"/>
<rect x="443.70" y="346.90" width="6.8" height="1.2" rx="0.8" fill="rgb(55,55,55)" fill-opacity="0.13" filter="url(#blur1)"/>
<rect x="452.00" y="346.90" width="6.8" height="1.2" rx="0.8" fill="rgb(55,55,55)" fill-opacity="0.04" filter="url(#blur1)"/>
<rect x="420.60" y="349.90" width="6.8" height="1.2" rx="0.8" fill="rgb(55,55,55)" fill-opacity="0.13" filter="url(#blur1)"/>
<rect x="428.30" y="349.90" width="6.8" height="1.2" rx="0.8" fill="rgb(55,55,55)" fill-opacity="0.17" filter="url(#blur1)"/>
<rect x="436.00" y="349.90" width="6.8" height="1.2" rx="0.8" fill="rgb(55,55,55)" fill-opacity="0.13" filter="url(#blur1)"/>
<rect x="443.70" y="349.90" width="6.8" height="1.2" rx="0.8" fill="rgb(55,55,55)" fill-opacity="0.13" filter="url(#blur1)"/>
<rect x="452.00" y="349.90" width="6.8" height="1.2" rx="0.8" fill="rgb(55,55,55)" fill-opacity="0.04" filter="url(#blur1)"/>
<ellipse cx="447" cy="348" rx="2.5" ry="1.5" fill="#555" fill-opacity="0.4" filter="url(#blur1)"/>
<rect x="398.10" y="403.25" width="6.8" height="1.5" rx="0.8" fill="rgb(55,55,55)" fill-opacity="0.26" filter="url(#blur1)"/>
<rect x="406.10" y="403.25" width="6.8" height="1.5" rx="0.8" fill="rgb(55,55,55)" fill-opacity="0.59" filter="url(#blur1)"/>
<rect x="414.10" y="403.25" width="6.8" height="1.5" rx="0.8" fill="rgb(55,55,55)" fill-opacity="0.55" filter="url(#blur1)"/>
<rect x="422.10" y="403.25" width="6.8" height="1.5" rx="0.8" fill="rgb(55,55,55)" fill-opacity="0.38" filter="url(#blur1)"/>
<rect x="430.10" y="403.25" width="6.8" height="1.5" rx="0.8" fill="rgb(55,55,55)" fill-opacity="0.26" filter="url(#blur1)"/>
<rect x="438.10" y="403.25" width="6.8" height="1.5" rx="0.8" fill="rgb(55,55,55)" fill-opacity="0.17" filter="url(#blur1)"/>
<rect x="446.10" y="403.25" width="6.8" height="1.5" rx="0.8" fill="rgb(55,55,55)" fill-opacity="0.10" filter="url(#blur1)"/>
<rect x="454.10" y="403.25" width="6.8" height="1.5" rx="0.8" fill="rgb(55,55,55)" fill-opacity="0.09" filter="url(#blur1)"/>
<rect x="398.10" y="407.40" width="6.8" height="1.2" rx="0.8" fill="rgb(55,55,55)" fill-opacity="0.04" filter="url(#blur1)"/>
<rect x="406.10" y="407.40" width="6.8" height="1.2" rx="0.8" fill="rgb(55,55,55)" fill-opacity="0.13" filter="url(#blur1)"/>
<rect x="414.10" y="407.40" width="6.8" height="1.2" rx="0.8" fill="rgb(55,55,55)" fill-opacity="0.13" filter="url(#blur1)"/>
<rect x="422.10" y="407.40" width="6.8" height="1.2" rx="0.8" fill="rgb(55,55,55)" fill-opacity="0.09" filter="url(#blur1)"/>
<rect x="430.10" y="407.40" width="6.8" height="1.2" rx="0.8" fill="rgb(55,55,55)" fill-opacity="0.04" filter="url(#blur1)"/>
<rect x="398.10" y="410.40" width="6.8" height="1.2" rx="0.8" fill="rgb(55,55,55)" fill-opacity="0.04" filter="url(#blur1)"/>
<rect x="406.10" y="410.40" width="6.8" height="1.2" rx="0.8" fill="rgb(55,55,55)" fill-opacity="0.13" filter="url(#blur1)"/>
<rect x="414.10" y="410.40" width="6.8" height="1.2" rx="0.8" fill="rgb(55,55,55)" fill-opacity="0.13" filter="url(#blur1)"/>
<rect x="422.10" y="410.40" width="6.8" height="1.2" rx="0.8" fill="rgb(55,55,55)" fill-opacity="0.09" filter="url(#blur1)"/>
<rect x="430.10" y="410.40" width="6.8" height="1.2" rx="0.8" fill="rgb(55,55,55)" fill-opacity="0.04" filter="url(#blur1)"/>
<rect x="398.10" y="413.40" width="6.8" height="1.2" rx="0.8" fill="rgb(55,55,55)" fill-opacity="0.04" filter="url(#blur1)"/>
<rect x="406.10" y="413.40" width="6.8" height="1.2" rx="0.8" fill="rgb(55,55,55)" fill-opacity="0.13" filter="url(#blur1)"/>
<rect x="414.10" y="413.40" width="6.8" height="1.2" rx="0.8" fill="rgb(55,55,55)" fill-opacity="0.13" filter="url(#blur1)"/>
<rect x="422.10" y="413.40" width="6.8" height="1.2" rx="0.8" fill="rgb(55,55,55)" fill-opacity="0.09" filter="url(#blur1)"/>
<rect x="430.10" y="413.40" width="6.8" height="1.2" rx="0.8" fill="rgb(55,55,55)" fill-opacity="0.04" filter="url(#blur1)"/>
<rect x="398.10" y="419.45" width="6.8" height="1.5" rx="0.8" fill="rgb(55,55,55)" fill-opacity="0.34" filter="url(#blur1)"/>
<rect x="406.10" y="419.45" width="6.8" height="1.5" rx="0.8" fill="rgb(55,55,55)" fill-opacity="0.59" filter="url(#blur1)"/>
<rect x="414.10" y="419.45" width="6.8" height="1.5" rx="0.8" fill="rgb(55,55,55)" fill-opacity="0.55" filter="url(#blur1)"/>
<rect x="422.10" y="419.45" width="6.8" height="1.5" rx="0.8" fill="rgb(55,55,55)" fill-opacity="0.47" filter="url(#blur1)"/>
<rect x="430.10" y="419.45" width="6.8" height="1.5" rx="0.8" fill="rgb(55,55,55)" fill-opacity="0.34" filter="url(#blur1)"/>
<rect x="438.10" y="419.45" width="6.8" height="1.5" rx="0.8" fill="rgb(55,55,55)" fill-opacity="0.26" filter="url(#blur1)"/>
<rect x="446.10" y="419.45" width="6.8" height="1.5" rx="0.8" fill="rgb(55,55,55)" fill-opacity="0.17" filter="url(#blur1)"/>
<rect x="454.10" y="419.45" width="6.8" height="1.5" rx="0.8" fill="rgb(55,55,55)" fill-opacity="0.13" filter="url(#blur1)"/>
<rect x="398.10" y="437.25" width="6.8" height="1.5" rx="0.8" fill="rgb(55,55,55)" fill-opacity="0.26" filter="url(#blur1)"/>
<rect x="406.10" y="437.25" width="6.8" height="1.5" rx="0.8" fill="rgb(55,55,55)" fill-opacity="0.51" filter="url(#blur1)"/>
<rect x="414.10" y="437.25" width="6.8" height="1.5" rx="0.8" fill="rgb(55,55,55)" fill-opacity="0.47" filter="url(#blur1)"/>
<rect x="422.10" y="437.25" width="6.8" height="1.5" rx="0.8" fill="rgb(55,55,55)" fill-opacity="0.38" filter="url(#blur1)"/>
<rect x="430.10" y="437.25" width="6.8" height="1.5" rx="0.8" fill="rgb(55,55,55)" fill-opacity="0.26" filter="url(#blur1)"/>
<rect x="438.10" y="437.25" width="6.8" height="1.5" rx="0.8" fill="rgb(55,55,55)" fill-opacity="0.17" filter="url(#blur1)"/>
<rect x="446.10" y="437.25" width="6.8" height="1.5" rx="0.8" fill="rgb(55,55,55)" fill-opacity="0.13" filter="url(#blur1)"/>
<rect x="454.10" y="437.25" width="6.8" height="1.5" rx="0.8" fill="rgb(55,55,55)" fill-opacity="0.09" filter="url(#blur1)"/>
<rect x="406.10" y="458.05" width="6.8" height="1.5" rx="0.8" fill="rgb(55,55,55)" fill-opacity="0.26" filter="url(#blur1)"/>
<rect x="414.10" y="458.05" width="6.8" height="1.5" rx="0.8" fill="rgb(55,55,55)" fill-opacity="0.21" filter="url(#blur1)"/>
<rect x="422.10" y="458.05" width="6.8" height="1.5" rx="0.8" fill="rgb(55,55,55)" fill-opacity="0.09" filter="url(#blur1)"/>
<line x1="397" y1="466" x2="427" y2="466" stroke="#333" stroke-width="0.8"/>
<text x="477" y="140.6" font-size="6.6" font-weight="bold">Borealin<tspan font-size="5.0" dy="1.0">10-280</tspan></text>
<text x="477" y="159.0" font-size="6.6" font-weight="bold">Survivin</text>
<text x="477" y="179.4" font-size="6.6" font-weight="bold">INCENP<tspan font-size="5.0" dy="1.0">1-58</tspan></text>
<text x="477" y="198.0" font-size="6.6" font-weight="bold">Sgo1<tspan font-size="5.0" dy="1.0">1-415</tspan></text>
<text x="477" y="265.0" font-size="6.6" font-weight="bold">Sgo1<tspan font-size="5.0" dy="1.0">1-415</tspan></text>
<text x="477" y="279.4" font-size="6.6" font-weight="bold">Borealin<tspan font-size="5.0" dy="1.0">10-280</tspan></text>
<text x="477" y="300.0" font-size="6.6" font-weight="bold">Survivin</text>
<text x="477" y="319.6" font-size="6.6" font-weight="bold">INCENP<tspan font-size="5.0" dy="1.0">1-58</tspan></text>
<text x="477" y="343.0" font-size="6.6" font-weight="bold">Sgo1<tspan font-size="5.0" dy="1.0">1-415 4A</tspan></text>
<text x="477" y="407.0" font-size="6.6" font-weight="bold">Sgo1<tspan font-size="5.0" dy="1.0">1-415 4A</tspan></text>
<text x="477" y="422.0" font-size="6.6" font-weight="bold">Borealin<tspan font-size="5.0" dy="1.0">10-280</tspan></text>
<text x="477" y="442.4" font-size="6.6" font-weight="bold">Survivin</text>
<text x="477" y="462.4" font-size="6.6" font-weight="bold">INCENP<tspan font-size="5.0" dy="1.0">1-58</tspan></text>
<line x1="35.4" y1="304.5" x2="35.4" y2="373.7" stroke="#000" stroke-width="0.8"/>
<line x1="35.4" y1="373.7" x2="139" y2="373.7" stroke="#000" stroke-width="0.8"/>
<line x1="33.9" y1="304.50" x2="35.4" y2="304.50" stroke="#000" stroke-width="0.5"/>
<text x="33.4" y="305.80" font-size="3.8" font-weight="normal" text-anchor="end" fill="#222" style="stroke:none" >0.01</text>
<line x1="34.6" y1="307.65" x2="35.4" y2="307.65" stroke="#000" stroke-width="0.4"/>
<line x1="33.9" y1="310.79" x2="35.4" y2="310.79" stroke="#000" stroke-width="0.5"/>
<text x="33.4" y="312.09" font-size="3.8" font-weight="normal" text-anchor="end" fill="#222" style="stroke:none" >0</text>
<line x1="34.6" y1="313.94" x2="35.4" y2="313.94" stroke="#000" stroke-width="0.4"/>
<line x1="33.9" y1="317.08" x2="35.4" y2="317.08" stroke="#000" stroke-width="0.5"/>
<text x="33.4" y="318.38" font-size="3.8" font-weight="normal" text-anchor="end" fill="#222" style="stroke:none" >-0.01</text>
<line x1="34.6" y1="320.23" x2="35.4" y2="320.23" stroke="#000" stroke-width="0.4"/>
<line x1="33.9" y1="323.37" x2="35.4" y2="323.37" stroke="#000" stroke-width="0.5"/>
<text x="33.4" y="324.67" font-size="3.8" font-weight="normal" text-anchor="end" fill="#222" style="stroke:none" >-0.02</text>
<line x1="34.6" y1="326.52" x2="35.4" y2="326.52" stroke="#000" stroke-width="0.4"/>
<line x1="33.9" y1="329.66" x2="35.4" y2="329.66" stroke="#000" stroke-width="0.5"/>
<text x="33.4" y="330.96" font-size="3.8" font-weight="normal" text-anchor="end" fill="#222" style="stroke:none" >-0.03</text>
<line x1="34.6" y1="332.81" x2="35.4" y2="332.81" stroke="#000" stroke-width="0.4"/>
<line x1="33.9" y1="335.95" x2="35.4" y2="335.95" stroke="#000" stroke-width="0.5"/>
<text x="33.4" y="337.25" font-size="3.8" font-weight="normal" text-anchor="end" fill="#222" style="stroke:none" >-0.04</text>
<line x1="34.6" y1="339.10" x2="35.4" y2="339.10" stroke="#000" stroke-width="0.4"/>
<line x1="33.9" y1="342.25" x2="35.4" y2="342.25" stroke="#000" stroke-width="0.5"/>
<text x="33.4" y="343.55" font-size="3.8" font-weight="normal" text-anchor="end" fill="#222" style="stroke:none" >-0.05</text>
<line x1="34.6" y1="345.39" x2="35.4" y2="345.39" stroke="#000" stroke-width="0.4"/>
<line x1="33.9" y1="348.54" x2="35.4" y2="348.54" stroke="#000" stroke-width="0.5"/>
<text x="33.4" y="349.84" font-size="3.8" font-weight="normal" text-anchor="end" fill="#222" style="stroke:none" >-0.06</text>
<line x1="34.6" y1="351.68" x2="35.4" y2="351.68" stroke="#000" stroke-width="0.4"/>
<line x1="33.9" y1="354.83" x2="35.4" y2="354.83" stroke="#000" stroke-width="0.5"/>
<text x="33.4" y="356.13" font-size="3.8" font-weight="normal" text-anchor="end" fill="#222" style="stroke:none" >-0.07</text>
<line x1="34.6" y1="357.97" x2="35.4" y2="357.97" stroke="#000" stroke-width="0.4"/>
<line x1="33.9" y1="361.12" x2="35.4" y2="361.12" stroke="#000" stroke-width="0.5"/>
<text x="33.4" y="362.42" font-size="3.8" font-weight="normal" text-anchor="end" fill="#222" style="stroke:none" >-0.08</text>
<line x1="34.6" y1="364.26" x2="35.4" y2="364.26" stroke="#000" stroke-width="0.4"/>
<line x1="33.9" y1="367.41" x2="35.4" y2="367.41" stroke="#000" stroke-width="0.5"/>
<text x="33.4" y="368.71" font-size="3.8" font-weight="normal" text-anchor="end" fill="#222" style="stroke:none" >-0.09</text>
<line x1="34.6" y1="370.55" x2="35.4" y2="370.55" stroke="#000" stroke-width="0.4"/>
<line x1="33.9" y1="373.70" x2="35.4" y2="373.70" stroke="#000" stroke-width="0.5"/>
<text x="33.4" y="375.00" font-size="3.8" font-weight="normal" text-anchor="end" fill="#222" style="stroke:none" >-0.1</text>
<line x1="35.40" y1="373.7" x2="35.40" y2="375.2" stroke="#000" stroke-width="0.5"/>
<line x1="40.25" y1="373.7" x2="40.25" y2="374.7" stroke="#000" stroke-width="0.4"/>
<text x="35.40" y="379.9" font-size="3.8" font-weight="normal" text-anchor="middle" fill="#222" style="stroke:none" >0</text>
<line x1="45.10" y1="373.7" x2="45.10" y2="375.2" stroke="#000" stroke-width="0.5"/>
<line x1="49.95" y1="373.7" x2="49.95" y2="374.7" stroke="#000" stroke-width="0.4"/>
<text x="45.10" y="379.9" font-size="3.8" font-weight="normal" text-anchor="middle" fill="#222" style="stroke:none" >5</text>
<line x1="54.80" y1="373.7" x2="54.80" y2="375.2" stroke="#000" stroke-width="0.5"/>
<line x1="59.65" y1="373.7" x2="59.65" y2="374.7" stroke="#000" stroke-width="0.4"/>
<text x="54.80" y="379.9" font-size="3.8" font-weight="normal" text-anchor="middle" fill="#222" style="stroke:none" >10</text>
<line x1="64.50" y1="373.7" x2="64.50" y2="375.2" stroke="#000" stroke-width="0.5"/>
<line x1="69.35" y1="373.7" x2="69.35" y2="374.7" stroke="#000" stroke-width="0.4"/>
<text x="64.50" y="379.9" font-size="3.8" font-weight="normal" text-anchor="middle" fill="#222" style="stroke:none" >15</text>
<line x1="74.20" y1="373.7" x2="74.20" y2="375.2" stroke="#000" stroke-width="0.5"/>
<line x1="79.05" y1="373.7" x2="79.05" y2="374.7" stroke="#000" stroke-width="0.4"/>
<text x="74.20" y="379.9" font-size="3.8" font-weight="normal" text-anchor="middle" fill="#222" style="stroke:none" >20</text>
<line x1="83.90" y1="373.7" x2="83.90" y2="375.2" stroke="#000" stroke-width="0.5"/>
<line x1="88.75" y1="373.7" x2="88.75" y2="374.7" stroke="#000" stroke-width="0.4"/>
<text x="83.90" y="379.9" font-size="3.8" font-weight="normal" text-anchor="middle" fill="#222" style="stroke:none" >25</text>
<line x1="93.60" y1="373.7" x2="93.60" y2="375.2" stroke="#000" stroke-width="0.5"/>
<line x1="98.45" y1="373.7" x2="98.45" y2="374.7" stroke="#000" stroke-width="0.4"/>
<text x="93.60" y="379.9" font-size="3.8" font-weight="normal" text-anchor="middle" fill="#222" style="stroke:none" >30</text>
<line x1="103.30" y1="373.7" x2="103.30" y2="375.2" stroke="#000" stroke-width="0.5"/>
<line x1="108.15" y1="373.7" x2="108.15" y2="374.7" stroke="#000" stroke-width="0.4"/>
<text x="103.30" y="379.9" font-size="3.8" font-weight="normal" text-anchor="middle" fill="#222" style="stroke:none" >35</text>
<line x1="113.00" y1="373.7" x2="113.00" y2="375.2" stroke="#000" stroke-width="0.5"/>
<line x1="117.85" y1="373.7" x2="117.85" y2="374.7" stroke="#000" stroke-width="0.4"/>
<text x="113.00" y="379.9" font-size="3.8" font-weight="normal" text-anchor="middle" fill="#222" style="stroke:none" >40</text>
<line x1="122.70" y1="373.7" x2="122.70" y2="375.2" stroke="#000" stroke-width="0.5"/>
<line x1="127.55" y1="373.7" x2="127.55" y2="374.7" stroke="#000" stroke-width="0.4"/>
<text x="122.70" y="379.9" font-size="3.8" font-weight="normal" text-anchor="middle" fill="#222" style="stroke:none" >45</text>
<line x1="132.40" y1="373.7" x2="132.40" y2="375.2" stroke="#000" stroke-width="0.5"/>
<line x1="137.25" y1="373.7" x2="137.25" y2="374.7" stroke="#000" stroke-width="0.4"/>
<text x="132.40" y="379.9" font-size="3.8" font-weight="normal" text-anchor="middle" fill="#222" style="stroke:none" >50</text>
<text style="stroke:none" x="83.4" y="387.9" font-size="5.5" text-anchor="middle" fill="#000">Time (min)</text>
<text style="stroke:none" x="0" y="0" font-size="5.6" text-anchor="middle" fill="#000" transform="translate(21,341) rotate(-90)">DP (µcal/s)</text>
<path d="M35.40,310.30 L35.40,311.69 L35.80,309.32 L36.20,310.10 L36.60,311.45 L37.00,308.41 L37.40,310.03 L37.80,308.31 L38.20,311.19 L38.60,312.08 L39.00,307.48 L39.40,310.47 L39.80,309.59 L40.20,309.99 L40.60,309.19 L41.00,310.28 L41.40,309.22 L41.80,310.14 L42.20,308.39 L42.60,310.53 L43.00,309.04 L43.40,306.56 L43.80,311.19 L44.20,312.05 L44.60,311.62 L45.00,309.51 L45.40,311.83 L45.80,310.32 L46.20,308.44 L46.60,311.49 L47.00,308.99 L47.40,311.11 L47.80,309.80 L48.20,310.33 L48.60,310.38 L49.00,310.26 L49.40,308.47 L49.80,312.23 L50.20,309.87 L50.60,310.31 L51.00,305.72 L51.40,309.23 L51.80,312.11 L52.20,310.14 L52.60,310.49 L53.00,307.33 L53.40,311.58 L53.80,311.26 L54.20,310.37 L54.60,310.00 L55.00,311.78 L55.40,309.10 L55.80,310.24 L56.20,309.68 L56.60,310.79 L57.00,310.13 L57.40,309.22 L57.80,310.64 L58.20,311.49 L58.60,311.57 L59.00,311.67 L59.40,308.63 L59.80,308.36 L60.20,309.30 L60.60,310.80 L61.00,308.58 L61.40,310.41 L61.80,309.39 L62.20,310.12 L62.60,310.20 L63.00,309.85 L63.40,309.05 L63.80,311.90 L64.20,309.14 L64.60,311.57 L65.00,308.37 L65.40,311.18 L65.80,311.12 L66.20,310.48 L66.60,312.20 L67.00,310.37 L67.40,310.89 L67.80,310.60 L68.20,310.82 L68.60,309.49 L69.00,312.55 L69.40,311.73 L69.80,312.06 L70.20,309.96 L70.60,308.33 L71.00,308.45 L71.40,312.15 L71.80,308.99 L72.20,312.20 L72.60,310.34 L73.00,309.69 L73.40,311.00 L73.80,309.08 L74.20,310.96 L74.60,310.30 L75.00,311.79 L75.40,308.37 L75.80,309.61 L76.20,306.12 L76.60,311.00 L77.00,312.03 L77.40,311.83 L77.80,310.24 L78.20,305.35 L78.60,308.98 L79.00,308.58 L79.40,310.70 L79.80,309.77 L80.20,309.46 L80.60,310.72 L81.00,312.62 L81.40,310.50 L81.80,308.46 L82.20,311.76 L82.60,311.61 L83.00,310.76 L83.40,309.81 L83.80,309.19 L84.20,309.37 L84.60,310.56 L85.00,310.05 L85.40,311.45 L85.80,308.35 L86.20,308.67 L86.60,311.84 L87.00,309.26 L87.40,306.57 L87.80,309.27 L88.20,308.71 L88.60,309.57 L89.00,312.76 L89.40,309.31 L89.80,308.70 L90.20,308.46 L90.60,312.23 L91.00,310.69 L91.40,309.55 L91.80,311.95 L92.20,313.12 L92.60,309.16 L93.00,312.22 L93.40,311.05 L93.80,309.34 L94.20,309.53 L94.60,308.63 L95.00,312.23 L95.40,310.91 L95.80,312.06 L96.20,309.53 L96.60,309.57 L97.00,311.87 L97.40,309.64 L97.80,310.62 L98.20,309.28 L98.60,309.28 L99.00,310.50 L99.40,308.60 L99.80,309.46 L100.20,310.27 L100.60,308.92 L101.00,311.48 L101.40,312.10 L101.80,311.40 L102.20,306.16 L102.60,310.36 L103.00,309.06 L103.40,308.87 L103.80,307.49 L104.20,311.91 L104.60,311.93 L105.00,311.28 L105.40,309.01 L105.80,308.93 L106.20,310.97 L106.60,308.56 L107.00,312.15 L107.40,310.47 L107.80,310.11 L108.20,309.65 L108.60,308.40 L109.00,309.97 L109.40,308.55 L109.80,308.85 L110.20,309.34 L110.60,309.89 L111.00,310.75 L111.40,308.33 L111.80,310.30 L112.20,310.05 L112.60,311.23 L113.00,310.28 L113.40,309.20 L113.80,310.54 L114.20,312.81 L114.60,310.89 L115.00,308.59 L115.40,311.81 L115.80,311.36 L116.20,309.55 L116.60,311.70 L117.00,311.11 L117.40,310.68 L117.80,311.89 L118.20,310.73 L118.60,309.30 L119.00,310.58 L119.40,308.51 L119.80,311.17 L120.20,310.36 L120.60,311.22 L121.00,312.22 L121.40,310.81 L121.80,311.95 L122.20,308.13 L122.60,311.67 L123.00,311.10 L123.40,312.00 L123.80,309.59 L124.20,310.03 L124.60,309.60 L125.00,311.94 L125.40,308.02 L125.80,309.93 L126.20,309.48 L126.60,311.30 L127.00,309.06 L127.40,308.38 L127.80,310.72 L128.20,309.13 L128.60,310.47 L129.00,310.64 L129.40,311.03 L129.80,311.53 L130.20,310.57 L130.60,311.72 L131.00,310.58 L131.40,309.44 L131.80,311.53 L132.20,311.29 L132.60,312.16 L133.00,312.19 L133.40,310.30" fill="none" stroke="#111" stroke-width="0.6"/>
<line x1="35.4" y1="310.3" x2="134" y2="310.3" stroke="#000" stroke-width="2.4"/>
<path d="M41.80,310.30 L42.10,328.30 L42.55,314.26 Q42.90,312.50 44.90,311.10" fill="none" stroke="#1a1a1a" stroke-width="0.65"/>
<path d="M47.40,310.30 L47.70,372.30 L48.15,323.94 Q48.50,312.50 50.50,311.10" fill="none" stroke="#1a1a1a" stroke-width="0.65"/>
<path d="M53.30,310.30 L53.60,369.70 L54.05,323.37 Q54.40,312.50 56.40,311.10" fill="none" stroke="#1a1a1a" stroke-width="0.65"/>
<path d="M58.90,310.30 L59.20,365.70 L59.65,322.49 Q60.00,312.50 62.00,311.10" fill="none" stroke="#1a1a1a" stroke-width="0.65"/>
<path d="M65.00,310.30 L65.30,360.20 L65.75,321.28 Q66.10,312.50 68.10,311.10" fill="none" stroke="#1a1a1a" stroke-width="0.65"/>
<path d="M70.70,310.30 L71.00,357.60 L71.45,320.71 Q71.80,312.50 73.80,311.10" fill="none" stroke="#1a1a1a" stroke-width="0.65"/>
<path d="M76.50,310.30 L76.80,352.50 L77.25,319.58 Q77.60,312.50 79.60,311.10" fill="none" stroke="#1a1a1a" stroke-width="0.65"/>
<path d="M82.40,310.30 L82.70,348.50 L83.15,318.70 Q83.50,312.50 85.50,311.10" fill="none" stroke="#1a1a1a" stroke-width="0.65"/>
<path d="M88.20,310.30 L88.50,344.00 L88.95,317.71 Q89.30,312.50 91.30,311.10" fill="none" stroke="#1a1a1a" stroke-width="0.65"/>
<path d="M93.90,310.30 L94.20,343.00 L94.65,317.49 Q95.00,312.50 97.00,311.10" fill="none" stroke="#1a1a1a" stroke-width="0.65"/>
<path d="M99.70,310.30 L100.00,342.00 L100.45,317.27 Q100.80,312.50 102.80,311.10" fill="none" stroke="#1a1a1a" stroke-width="0.65"/>
<path d="M105.40,310.30 L105.70,342.40 L106.15,317.36 Q106.50,312.50 108.50,311.10" fill="none" stroke="#1a1a1a" stroke-width="0.65"/>
<path d="M111.30,310.30 L111.60,342.80 L112.05,317.45 Q112.40,312.50 114.40,311.10" fill="none" stroke="#1a1a1a" stroke-width="0.65"/>
<path d="M116.90,310.30 L117.20,342.40 L117.65,317.36 Q118.00,312.50 120.00,311.10" fill="none" stroke="#1a1a1a" stroke-width="0.65"/>
<path d="M122.80,310.30 L123.10,342.40 L123.55,317.36 Q123.90,312.50 125.90,311.10" fill="none" stroke="#1a1a1a" stroke-width="0.65"/>
<path d="M128.40,310.30 L128.70,342.80 L129.15,317.45 Q129.50,312.50 131.50,311.10" fill="none" stroke="#1a1a1a" stroke-width="0.65"/>
<text x="40.8" y="300.3" font-size="7.8" font-weight="bold">CPC<tspan font-size="5.6" dy="1.8">ISB</tspan><tspan font-size="4.2">10-280</tspan><tspan dy="-1.8"> - Sgo1</tspan><tspan font-size="5.6" dy="1.8">1-415</tspan></text>
<line x1="34.0" y1="387.7" x2="34.0" y2="458.3" stroke="#000" stroke-width="0.9"/>
<line x1="34.0" y1="458.3" x2="139" y2="458.3" stroke="#000" stroke-width="0.9"/>
<line x1="32.5" y1="391.00" x2="34.0" y2="391.00" stroke="#000" stroke-width="0.5"/>
<line x1="33.2" y1="395.79" x2="34.0" y2="395.79" stroke="#000" stroke-width="0.4"/>
<text x="31.7" y="392.30" font-size="3.8" font-weight="normal" text-anchor="end" fill="#222" style="stroke:none" >0</text>
<line x1="32.5" y1="400.57" x2="34.0" y2="400.57" stroke="#000" stroke-width="0.5"/>
<line x1="33.2" y1="405.36" x2="34.0" y2="405.36" stroke="#000" stroke-width="0.4"/>
<text x="31.7" y="401.87" font-size="3.8" font-weight="normal" text-anchor="end" fill="#222" style="stroke:none" >-0.5</text>
<line x1="32.5" y1="410.14" x2="34.0" y2="410.14" stroke="#000" stroke-width="0.5"/>
<line x1="33.2" y1="414.93" x2="34.0" y2="414.93" stroke="#000" stroke-width="0.4"/>
<text x="31.7" y="411.44" font-size="3.8" font-weight="normal" text-anchor="end" fill="#222" style="stroke:none" >-1</text>
<line x1="32.5" y1="419.71" x2="34.0" y2="419.71" stroke="#000" stroke-width="0.5"/>
<line x1="33.2" y1="424.50" x2="34.0" y2="424.50" stroke="#000" stroke-width="0.4"/>
<text x="31.7" y="421.01" font-size="3.8" font-weight="normal" text-anchor="end" fill="#222" style="stroke:none" >-1.5</text>
<line x1="32.5" y1="429.28" x2="34.0" y2="429.28" stroke="#000" stroke-width="0.5"/>
<line x1="33.2" y1="434.06" x2="34.0" y2="434.06" stroke="#000" stroke-width="0.4"/>
<text x="31.7" y="430.58" font-size="3.8" font-weight="normal" text-anchor="end" fill="#222" style="stroke:none" >-2</text>
<line x1="32.5" y1="438.85" x2="34.0" y2="438.85" stroke="#000" stroke-width="0.5"/>
<line x1="33.2" y1="443.64" x2="34.0" y2="443.64" stroke="#000" stroke-width="0.4"/>
<text x="31.7" y="440.15" font-size="3.8" font-weight="normal" text-anchor="end" fill="#222" style="stroke:none" >-2.5</text>
<line x1="32.5" y1="448.42" x2="34.0" y2="448.42" stroke="#000" stroke-width="0.5"/>
<line x1="33.2" y1="453.21" x2="34.0" y2="453.21" stroke="#000" stroke-width="0.4"/>
<text x="31.7" y="449.72" font-size="3.8" font-weight="normal" text-anchor="end" fill="#222" style="stroke:none" >-3</text>
<line x1="32.5" y1="457.99" x2="34.0" y2="457.99" stroke="#000" stroke-width="0.5"/>
<text x="31.7" y="459.29" font-size="3.8" font-weight="normal" text-anchor="end" fill="#222" style="stroke:none" >-3.5</text>
<line x1="34.00" y1="458.3" x2="34.00" y2="459.8" stroke="#000" stroke-width="0.5"/>
<line x1="38.90" y1="458.3" x2="38.90" y2="459.3" stroke="#000" stroke-width="0.4"/>
<text x="34.00" y="464.5" font-size="3.8" font-weight="normal" text-anchor="middle" fill="#222" style="stroke:none" >0</text>
<line x1="43.80" y1="458.3" x2="43.80" y2="459.8" stroke="#000" stroke-width="0.5"/>
<line x1="48.70" y1="458.3" x2="48.70" y2="459.3" stroke="#000" stroke-width="0.4"/>
<text x="43.80" y="464.5" font-size="3.8" font-weight="normal" text-anchor="middle" fill="#222" style="stroke:none" >0.2</text>
<line x1="53.60" y1="458.3" x2="53.60" y2="459.8" stroke="#000" stroke-width="0.5"/>
<line x1="58.50" y1="458.3" x2="58.50" y2="459.3" stroke="#000" stroke-width="0.4"/>
<text x="53.60" y="464.5" font-size="3.8" font-weight="normal" text-anchor="middle" fill="#222" style="stroke:none" >0.4</text>
<line x1="63.40" y1="458.3" x2="63.40" y2="459.8" stroke="#000" stroke-width="0.5"/>
<line x1="68.30" y1="458.3" x2="68.30" y2="459.3" stroke="#000" stroke-width="0.4"/>
<text x="63.40" y="464.5" font-size="3.8" font-weight="normal" text-anchor="middle" fill="#222" style="stroke:none" >0.6</text>
<line x1="73.20" y1="458.3" x2="73.20" y2="459.8" stroke="#000" stroke-width="0.5"/>
<line x1="78.10" y1="458.3" x2="78.10" y2="459.3" stroke="#000" stroke-width="0.4"/>
<text x="73.20" y="464.5" font-size="3.8" font-weight="normal" text-anchor="middle" fill="#222" style="stroke:none" >0.8</text>
<line x1="83.00" y1="458.3" x2="83.00" y2="459.8" stroke="#000" stroke-width="0.5"/>
<line x1="87.90" y1="458.3" x2="87.90" y2="459.3" stroke="#000" stroke-width="0.4"/>
<text x="83.00" y="464.5" font-size="3.8" font-weight="normal" text-anchor="middle" fill="#222" style="stroke:none" >1</text>
<line x1="92.80" y1="458.3" x2="92.80" y2="459.8" stroke="#000" stroke-width="0.5"/>
<line x1="97.70" y1="458.3" x2="97.70" y2="459.3" stroke="#000" stroke-width="0.4"/>
<text x="92.80" y="464.5" font-size="3.8" font-weight="normal" text-anchor="middle" fill="#222" style="stroke:none" >1.2</text>
<line x1="102.60" y1="458.3" x2="102.60" y2="459.8" stroke="#000" stroke-width="0.5"/>
<line x1="107.50" y1="458.3" x2="107.50" y2="459.3" stroke="#000" stroke-width="0.4"/>
<text x="102.60" y="464.5" font-size="3.8" font-weight="normal" text-anchor="middle" fill="#222" style="stroke:none" >1.4</text>
<line x1="112.40" y1="458.3" x2="112.40" y2="459.8" stroke="#000" stroke-width="0.5"/>
<line x1="117.30" y1="458.3" x2="117.30" y2="459.3" stroke="#000" stroke-width="0.4"/>
<text x="112.40" y="464.5" font-size="3.8" font-weight="normal" text-anchor="middle" fill="#222" style="stroke:none" >1.6</text>
<line x1="122.20" y1="458.3" x2="122.20" y2="459.8" stroke="#000" stroke-width="0.5"/>
<line x1="127.10" y1="458.3" x2="127.10" y2="459.3" stroke="#000" stroke-width="0.4"/>
<text x="122.20" y="464.5" font-size="3.8" font-weight="normal" text-anchor="middle" fill="#222" style="stroke:none" >1.8</text>
<line x1="132.00" y1="458.3" x2="132.00" y2="459.8" stroke="#000" stroke-width="0.5"/>
<line x1="136.90" y1="458.3" x2="136.90" y2="459.3" stroke="#000" stroke-width="0.4"/>
<text x="132.00" y="464.5" font-size="3.8" font-weight="normal" text-anchor="middle" fill="#222" style="stroke:none" >2</text>
<text style="stroke:none" x="83.5" y="471.6" font-size="5.5" text-anchor="middle" fill="#000">Molar Ratio</text>
<text style="stroke:none" x="0" y="0" font-size="5.8" text-anchor="middle" fill="#000" transform="translate(19.8,424.5) rotate(-90)">ΔH (kcal/mol)</text>
<rect x="40.10" y="449.10" width="1.8" height="1.8" fill="#000"/>
<rect x="46.60" y="453.70" width="1.8" height="1.8" fill="#000"/>
<rect x="52.90" y="453.70" width="1.8" height="1.8" fill="#000"/>
<rect x="59.10" y="447.90" width="1.8" height="1.8" fill="#000"/>
<rect x="65.40" y="447.00" width="1.8" height="1.8" fill="#000"/>
<rect x="71.80" y="435.40" width="1.8" height="1.8" fill="#000"/>
<rect x="78.30" y="422.00" width="1.8" height="1.8" fill="#000"/>
<rect x="84.70" y="409.10" width="1.8" height="1.8" fill="#000"/>
<rect x="91.00" y="396.00" width="1.8" height="1.8" fill="#000"/>
<rect x="98.10" y="393.30" width="1.8" height="1.8" fill="#000"/>
<rect x="104.90" y="392.00" width="1.8" height="1.8" fill="#000"/>
<rect x="111.80" y="391.40" width="1.8" height="1.8" fill="#000"/>
<rect x="118.70" y="390.40" width="1.8" height="1.8" fill="#000"/>
<rect x="125.60" y="390.40" width="1.8" height="1.8" fill="#000"/>
<rect x="132.90" y="391.90" width="1.8" height="1.8" fill="#000"/>
<text x="138.8" y="444.2" font-size="8.4" font-weight="bold" text-anchor="end" textLength="30" lengthAdjust="spacingAndGlyphs">N = 0.869</text>
<g transform="translate(138.8,452.8) scale(0.85,1)"><text x="0" y="0" font-size="8.4" font-weight="bold" text-anchor="end">K<tspan font-size="6" dy="1.6">D</tspan><tspan dy="-1.6"> = 151 ± 35.6 nM</tspan></text></g>
<text x="0" y="302.3" font-size="10.5" font-weight="bold" text-anchor="start" fill="#000" >D</text>
<line x1="215.4" y1="306.5" x2="215.4" y2="375.7" stroke="#000" stroke-width="0.8"/>
<line x1="215.4" y1="375.7" x2="319" y2="375.7" stroke="#000" stroke-width="0.8"/>
<line x1="213.9" y1="306.50" x2="215.4" y2="306.50" stroke="#000" stroke-width="0.5"/>
<text x="213.4" y="307.80" font-size="3.8" font-weight="normal" text-anchor="end" fill="#222" style="stroke:none" >0.01</text>
<line x1="214.6" y1="309.65" x2="215.4" y2="309.65" stroke="#000" stroke-width="0.4"/>
<line x1="213.9" y1="312.79" x2="215.4" y2="312.79" stroke="#000" stroke-width="0.5"/>
<text x="213.4" y="314.09" font-size="3.8" font-weight="normal" text-anchor="end" fill="#222" style="stroke:none" >0</text>
<line x1="214.6" y1="315.94" x2="215.4" y2="315.94" stroke="#000" stroke-width="0.4"/>
<line x1="213.9" y1="319.08" x2="215.4" y2="319.08" stroke="#000" stroke-width="0.5"/>
<text x="213.4" y="320.38" font-size="3.8" font-weight="normal" text-anchor="end" fill="#222" style="stroke:none" >-0.01</text>
<line x1="214.6" y1="322.23" x2="215.4" y2="322.23" stroke="#000" stroke-width="0.4"/>
<line x1="213.9" y1="325.37" x2="215.4" y2="325.37" stroke="#000" stroke-width="0.5"/>
<text x="213.4" y="326.67" font-size="3.8" font-weight="normal" text-anchor="end" fill="#222" style="stroke:none" >-0.02</text>
<line x1="214.6" y1="328.52" x2="215.4" y2="328.52" stroke="#000" stroke-width="0.4"/>
<line x1="213.9" y1="331.66" x2="215.4" y2="331.66" stroke="#000" stroke-width="0.5"/>
<text x="213.4" y="332.96" font-size="3.8" font-weight="normal" text-anchor="end" fill="#222" style="stroke:none" >-0.03</text>
<line x1="214.6" y1="334.81" x2="215.4" y2="334.81" stroke="#000" stroke-width="0.4"/>
<line x1="213.9" y1="337.95" x2="215.4" y2="337.95" stroke="#000" stroke-width="0.5"/>
<text x="213.4" y="339.25" font-size="3.8" font-weight="normal" text-anchor="end" fill="#222" style="stroke:none" >-0.04</text>
<line x1="214.6" y1="341.10" x2="215.4" y2="341.10" stroke="#000" stroke-width="0.4"/>
<line x1="213.9" y1="344.25" x2="215.4" y2="344.25" stroke="#000" stroke-width="0.5"/>
<text x="213.4" y="345.55" font-size="3.8" font-weight="normal" text-anchor="end" fill="#222" style="stroke:none" >-0.05</text>
<line x1="214.6" y1="347.39" x2="215.4" y2="347.39" stroke="#000" stroke-width="0.4"/>
<line x1="213.9" y1="350.54" x2="215.4" y2="350.54" stroke="#000" stroke-width="0.5"/>
<text x="213.4" y="351.84" font-size="3.8" font-weight="normal" text-anchor="end" fill="#222" style="stroke:none" >-0.06</text>
<line x1="214.6" y1="353.68" x2="215.4" y2="353.68" stroke="#000" stroke-width="0.4"/>
<line x1="213.9" y1="356.83" x2="215.4" y2="356.83" stroke="#000" stroke-width="0.5"/>
<text x="213.4" y="358.13" font-size="3.8" font-weight="normal" text-anchor="end" fill="#222" style="stroke:none" >-0.07</text>
<line x1="214.6" y1="359.97" x2="215.4" y2="359.97" stroke="#000" stroke-width="0.4"/>
<line x1="213.9" y1="363.12" x2="215.4" y2="363.12" stroke="#000" stroke-width="0.5"/>
<text x="213.4" y="364.42" font-size="3.8" font-weight="normal" text-anchor="end" fill="#222" style="stroke:none" >-0.08</text>
<line x1="214.6" y1="366.26" x2="215.4" y2="366.26" stroke="#000" stroke-width="0.4"/>
<line x1="213.9" y1="369.41" x2="215.4" y2="369.41" stroke="#000" stroke-width="0.5"/>
<text x="213.4" y="370.71" font-size="3.8" font-weight="normal" text-anchor="end" fill="#222" style="stroke:none" >-0.09</text>
<line x1="214.6" y1="372.55" x2="215.4" y2="372.55" stroke="#000" stroke-width="0.4"/>
<line x1="213.9" y1="375.70" x2="215.4" y2="375.70" stroke="#000" stroke-width="0.5"/>
<text x="213.4" y="377.00" font-size="3.8" font-weight="normal" text-anchor="end" fill="#222" style="stroke:none" >-0.1</text>
<line x1="215.40" y1="375.7" x2="215.40" y2="377.2" stroke="#000" stroke-width="0.5"/>
<line x1="220.25" y1="375.7" x2="220.25" y2="376.7" stroke="#000" stroke-width="0.4"/>
<text x="215.40" y="381.9" font-size="3.8" font-weight="normal" text-anchor="middle" fill="#222" style="stroke:none" >0</text>
<line x1="225.10" y1="375.7" x2="225.10" y2="377.2" stroke="#000" stroke-width="0.5"/>
<line x1="229.95" y1="375.7" x2="229.95" y2="376.7" stroke="#000" stroke-width="0.4"/>
<text x="225.10" y="381.9" font-size="3.8" font-weight="normal" text-anchor="middle" fill="#222" style="stroke:none" >5</text>
<line x1="234.80" y1="375.7" x2="234.80" y2="377.2" stroke="#000" stroke-width="0.5"/>
<line x1="239.65" y1="375.7" x2="239.65" y2="376.7" stroke="#000" stroke-width="0.4"/>
<text x="234.80" y="381.9" font-size="3.8" font-weight="normal" text-anchor="middle" fill="#222" style="stroke:none" >10</text>
<line x1="244.50" y1="375.7" x2="244.50" y2="377.2" stroke="#000" stroke-width="0.5"/>
<line x1="249.35" y1="375.7" x2="249.35" y2="376.7" stroke="#000" stroke-width="0.4"/>
<text x="244.50" y="381.9" font-size="3.8" font-weight="normal" text-anchor="middle" fill="#222" style="stroke:none" >15</text>
<line x1="254.20" y1="375.7" x2="254.20" y2="377.2" stroke="#000" stroke-width="0.5"/>
<line x1="259.05" y1="375.7" x2="259.05" y2="376.7" stroke="#000" stroke-width="0.4"/>
<text x="254.20" y="381.9" font-size="3.8" font-weight="normal" text-anchor="middle" fill="#222" style="stroke:none" >20</text>
<line x1="263.90" y1="375.7" x2="263.90" y2="377.2" stroke="#000" stroke-width="0.5"/>
<line x1="268.75" y1="375.7" x2="268.75" y2="376.7" stroke="#000" stroke-width="0.4"/>
<text x="263.90" y="381.9" font-size="3.8" font-weight="normal" text-anchor="middle" fill="#222" style="stroke:none" >25</text>
<line x1="273.60" y1="375.7" x2="273.60" y2="377.2" stroke="#000" stroke-width="0.5"/>
<line x1="278.45" y1="375.7" x2="278.45" y2="376.7" stroke="#000" stroke-width="0.4"/>
<text x="273.60" y="381.9" font-size="3.8" font-weight="normal" text-anchor="middle" fill="#222" style="stroke:none" >30</text>
<line x1="283.30" y1="375.7" x2="283.30" y2="377.2" stroke="#000" stroke-width="0.5"/>
<line x1="288.15" y1="375.7" x2="288.15" y2="376.7" stroke="#000" stroke-width="0.4"/>
<text x="283.30" y="381.9" font-size="3.8" font-weight="normal" text-anchor="middle" fill="#222" style="stroke:none" >35</text>
<line x1="293.00" y1="375.7" x2="293.00" y2="377.2" stroke="#000" stroke-width="0.5"/>
<line x1="297.85" y1="375.7" x2="297.85" y2="376.7" stroke="#000" stroke-width="0.4"/>
<text x="293.00" y="381.9" font-size="3.8" font-weight="normal" text-anchor="middle" fill="#222" style="stroke:none" >40</text>
<line x1="302.70" y1="375.7" x2="302.70" y2="377.2" stroke="#000" stroke-width="0.5"/>
<line x1="307.55" y1="375.7" x2="307.55" y2="376.7" stroke="#000" stroke-width="0.4"/>
<text x="302.70" y="381.9" font-size="3.8" font-weight="normal" text-anchor="middle" fill="#222" style="stroke:none" >45</text>
<line x1="312.40" y1="375.7" x2="312.40" y2="377.2" stroke="#000" stroke-width="0.5"/>
<line x1="317.25" y1="375.7" x2="317.25" y2="376.7" stroke="#000" stroke-width="0.4"/>
<text x="312.40" y="381.9" font-size="3.8" font-weight="normal" text-anchor="middle" fill="#222" style="stroke:none" >50</text>
<text style="stroke:none" x="263.4" y="389.9" font-size="5.5" text-anchor="middle" fill="#000">Time (min)</text>
<text style="stroke:none" x="0" y="0" font-size="5.6" text-anchor="middle" fill="#000" transform="translate(201,343) rotate(-90)">DP (µcal/s)</text>
<path d="M215.40,312.50 L215.40,313.89 L215.80,311.52 L216.20,312.30 L216.60,313.65 L217.00,310.61 L217.40,312.23 L217.80,310.51 L218.20,313.39 L218.60,314.28 L219.00,309.68 L219.40,312.67 L219.80,311.79 L220.20,312.19 L220.60,311.39 L221.00,312.48 L221.40,311.42 L221.80,312.34 L222.20,310.59 L222.60,312.73 L223.00,311.24 L223.40,308.76 L223.80,313.39 L224.20,314.25 L224.60,313.82 L225.00,311.71 L225.40,314.03 L225.80,312.52 L226.20,310.64 L226.60,313.69 L227.00,311.19 L227.40,313.31 L227.80,312.00 L228.20,312.53 L228.60,312.58 L229.00,312.46 L229.40,310.67 L229.80,314.43 L230.20,312.07 L230.60,312.51 L231.00,307.92 L231.40,311.43 L231.80,314.31 L232.20,312.34 L232.60,312.69 L233.00,309.53 L233.40,313.78 L233.80,313.46 L234.20,312.57 L234.60,312.20 L235.00,313.98 L235.40,311.30 L235.80,312.44 L236.20,311.88 L236.60,312.99 L237.00,312.33 L237.40,311.42 L237.80,312.84 L238.20,313.69 L238.60,313.77 L239.00,313.87 L239.40,310.83 L239.80,310.56 L240.20,311.50 L240.60,313.00 L241.00,310.78 L241.40,312.61 L241.80,311.59 L242.20,312.32 L242.60,312.40 L243.00,312.05 L243.40,311.25 L243.80,314.10 L244.20,311.34 L244.60,313.77 L245.00,310.57 L245.40,313.38 L245.80,313.32 L246.20,312.68 L246.60,314.40 L247.00,312.57 L247.40,313.09 L247.80,312.80 L248.20,313.02 L248.60,311.69 L249.00,314.75 L249.40,313.93 L249.80,314.26 L250.20,312.16 L250.60,310.53 L251.00,310.65 L251.40,314.35 L251.80,311.19 L252.20,314.40 L252.60,312.54 L253.00,311.89 L253.40,313.20 L253.80,311.28 L254.20,313.16 L254.60,312.50 L255.00,313.99 L255.40,310.57 L255.80,311.81 L256.20,308.32 L256.60,313.20 L257.00,314.23 L257.40,314.03 L257.80,312.44 L258.20,307.55 L258.60,311.18 L259.00,310.78 L259.40,312.90 L259.80,311.97 L260.20,311.66 L260.60,312.92 L261.00,314.82 L261.40,312.70 L261.80,310.66 L262.20,313.96 L262.60,313.81 L263.00,312.96 L263.40,312.01 L263.80,311.39 L264.20,311.57 L264.60,312.76 L265.00,312.25 L265.40,313.65 L265.80,310.55 L266.20,310.87 L266.60,314.04 L267.00,311.46 L267.40,308.77 L267.80,311.47 L268.20,310.91 L268.60,311.77 L269.00,314.96 L269.40,311.51 L269.80,310.90 L270.20,310.66 L270.60,314.43 L271.00,312.89 L271.40,311.75 L271.80,314.15 L272.20,315.32 L272.60,311.36 L273.00,314.42 L273.40,313.25 L273.80,311.54 L274.20,311.73 L274.60,310.83 L275.00,314.43 L275.40,313.11 L275.80,314.26 L276.20,311.73 L276.60,311.77 L277.00,314.07 L277.40,311.84 L277.80,312.82 L278.20,311.48 L278.60,311.48 L279.00,312.70 L279.40,310.80 L279.80,311.66 L280.20,312.47 L280.60,311.12 L281.00,313.68 L281.40,314.30 L281.80,313.60 L282.20,308.36 L282.60,312.56 L283.00,311.26 L283.40,311.07 L283.80,309.69 L284.20,314.11 L284.60,314.13 L285.00,313.48 L285.40,311.21 L285.80,311.13 L286.20,313.17 L286.60,310.76 L287.00,314.35 L287.40,312.67 L287.80,312.31 L288.20,311.85 L288.60,310.60 L289.00,312.17 L289.40,310.75 L289.80,311.05 L290.20,311.54 L290.60,312.09 L291.00,312.95 L291.40,310.53 L291.80,312.50 L292.20,312.25 L292.60,313.43 L293.00,312.48 L293.40,311.40 L293.80,312.74 L294.20,315.01 L294.60,313.09 L295.00,310.79 L295.40,314.01 L295.80,313.56 L296.20,311.75 L296.60,313.90 L297.00,313.31 L297.40,312.88 L297.80,314.09 L298.20,312.93 L298.60,311.50 L299.00,312.78 L299.40,310.71 L299.80,313.37 L300.20,312.56 L300.60,313.42 L301.00,314.42 L301.40,313.01 L301.80,314.15 L302.20,310.33 L302.60,313.87 L303.00,313.30 L303.40,314.20 L303.80,311.79 L304.20,312.23 L304.60,311.80 L305.00,314.14 L305.40,310.22 L305.80,312.13 L306.20,311.68 L306.60,313.50 L307.00,311.26 L307.40,310.58 L307.80,312.92 L308.20,311.33 L308.60,312.67 L309.00,312.84 L309.40,313.23 L309.80,313.73 L310.20,312.77 L310.60,313.92 L311.00,312.78 L311.40,311.64 L311.80,313.73 L312.20,313.49 L312.60,314.36 L313.00,314.39 L313.40,312.50" fill="none" stroke="#111" stroke-width="0.6"/>
<line x1="215.4" y1="312.5" x2="314" y2="312.5" stroke="#000" stroke-width="2.4"/>
<path d="M221.20,312.50 L221.50,331.30 L221.95,316.64 Q222.30,314.70 224.30,313.30" fill="none" stroke="#1a1a1a" stroke-width="0.65"/>
<path d="M227.20,312.50 L227.50,372.70 L227.95,325.74 Q228.30,314.70 230.30,313.30" fill="none" stroke="#1a1a1a" stroke-width="0.65"/>
<path d="M232.90,312.50 L233.20,371.10 L233.65,325.39 Q234.00,314.70 236.00,313.30" fill="none" stroke="#1a1a1a" stroke-width="0.65"/>
<path d="M238.50,312.50 L238.80,369.70 L239.25,325.08 Q239.60,314.70 241.60,313.30" fill="none" stroke="#1a1a1a" stroke-width="0.65"/>
<path d="M244.40,312.50 L244.70,365.00 L245.15,324.05 Q245.50,314.70 247.50,313.30" fill="none" stroke="#1a1a1a" stroke-width="0.65"/>
<path d="M250.30,312.50 L250.60,359.00 L251.05,322.73 Q251.40,314.70 253.40,313.30" fill="none" stroke="#1a1a1a" stroke-width="0.65"/>
<path d="M255.90,312.50 L256.20,352.90 L256.65,321.39 Q257.00,314.70 259.00,313.30" fill="none" stroke="#1a1a1a" stroke-width="0.65"/>
<path d="M261.80,312.50 L262.10,349.50 L262.55,320.64 Q262.90,314.70 264.90,313.30" fill="none" stroke="#1a1a1a" stroke-width="0.65"/>
<path d="M267.40,312.50 L267.70,348.50 L268.15,320.42 Q268.50,314.70 270.50,313.30" fill="none" stroke="#1a1a1a" stroke-width="0.65"/>
<path d="M273.30,312.50 L273.60,347.50 L274.05,320.20 Q274.40,314.70 276.40,313.30" fill="none" stroke="#1a1a1a" stroke-width="0.65"/>
<path d="M278.90,312.50 L279.20,346.90 L279.65,320.07 Q280.00,314.70 282.00,313.30" fill="none" stroke="#1a1a1a" stroke-width="0.65"/>
<path d="M284.80,312.50 L285.10,346.50 L285.55,319.98 Q285.90,314.70 287.90,313.30" fill="none" stroke="#1a1a1a" stroke-width="0.65"/>
<path d="M290.50,312.50 L290.80,346.00 L291.25,319.87 Q291.60,314.70 293.60,313.30" fill="none" stroke="#1a1a1a" stroke-width="0.65"/>
<path d="M296.10,312.50 L296.40,346.00 L296.85,319.87 Q297.20,314.70 299.20,313.30" fill="none" stroke="#1a1a1a" stroke-width="0.65"/>
<path d="M302.00,312.50 L302.30,346.90 L302.75,320.07 Q303.10,314.70 305.10,313.30" fill="none" stroke="#1a1a1a" stroke-width="0.65"/>
<path d="M307.70,312.50 L308.00,346.50 L308.45,319.98 Q308.80,314.70 310.80,313.30" fill="none" stroke="#1a1a1a" stroke-width="0.65"/>
<text x="224.6" y="300.8" font-size="7.8" font-weight="bold">CPC<tspan font-size="5.6" dy="1.8">ISB</tspan><tspan font-size="4.2">10-280</tspan><tspan dy="-1.8"> - Sgo1</tspan><tspan font-size="5.6" dy="1.8">1-415 4A</tspan></text>
<line x1="214.0" y1="389.7" x2="214.0" y2="458.0" stroke="#000" stroke-width="0.9"/>
<line x1="214.0" y1="458.0" x2="319" y2="458.0" stroke="#000" stroke-width="0.9"/>
<line x1="212.5" y1="393.00" x2="214.0" y2="393.00" stroke="#000" stroke-width="0.5"/>
<line x1="213.2" y1="397.38" x2="214.0" y2="397.38" stroke="#000" stroke-width="0.4"/>
<text x="211.7" y="394.30" font-size="3.8" font-weight="normal" text-anchor="end" fill="#222" style="stroke:none" >0</text>
<line x1="212.5" y1="401.77" x2="214.0" y2="401.77" stroke="#000" stroke-width="0.5"/>
<line x1="213.2" y1="406.15" x2="214.0" y2="406.15" stroke="#000" stroke-width="0.4"/>
<text x="211.7" y="403.07" font-size="3.8" font-weight="normal" text-anchor="end" fill="#222" style="stroke:none" >-0.5</text>
<line x1="212.5" y1="410.54" x2="214.0" y2="410.54" stroke="#000" stroke-width="0.5"/>
<line x1="213.2" y1="414.93" x2="214.0" y2="414.93" stroke="#000" stroke-width="0.4"/>
<text x="211.7" y="411.84" font-size="3.8" font-weight="normal" text-anchor="end" fill="#222" style="stroke:none" >-1</text>
<line x1="212.5" y1="419.31" x2="214.0" y2="419.31" stroke="#000" stroke-width="0.5"/>
<line x1="213.2" y1="423.69" x2="214.0" y2="423.69" stroke="#000" stroke-width="0.4"/>
<text x="211.7" y="420.61" font-size="3.8" font-weight="normal" text-anchor="end" fill="#222" style="stroke:none" >-1.5</text>
<line x1="212.5" y1="428.08" x2="214.0" y2="428.08" stroke="#000" stroke-width="0.5"/>
<line x1="213.2" y1="432.46" x2="214.0" y2="432.46" stroke="#000" stroke-width="0.4"/>
<text x="211.7" y="429.38" font-size="3.8" font-weight="normal" text-anchor="end" fill="#222" style="stroke:none" >-2</text>
<line x1="212.5" y1="436.85" x2="214.0" y2="436.85" stroke="#000" stroke-width="0.5"/>
<line x1="213.2" y1="441.24" x2="214.0" y2="441.24" stroke="#000" stroke-width="0.4"/>
<text x="211.7" y="438.15" font-size="3.8" font-weight="normal" text-anchor="end" fill="#222" style="stroke:none" >-2.5</text>
<line x1="212.5" y1="445.62" x2="214.0" y2="445.62" stroke="#000" stroke-width="0.5"/>
<line x1="213.2" y1="450.00" x2="214.0" y2="450.00" stroke="#000" stroke-width="0.4"/>
<text x="211.7" y="446.92" font-size="3.8" font-weight="normal" text-anchor="end" fill="#222" style="stroke:none" >-3</text>
<line x1="212.5" y1="454.39" x2="214.0" y2="454.39" stroke="#000" stroke-width="0.5"/>
<text x="211.7" y="455.69" font-size="3.8" font-weight="normal" text-anchor="end" fill="#222" style="stroke:none" >-3.5</text>
<line x1="214.00" y1="458.0" x2="214.00" y2="459.5" stroke="#000" stroke-width="0.5"/>
<line x1="218.90" y1="458.0" x2="218.90" y2="459.0" stroke="#000" stroke-width="0.4"/>
<text x="214.00" y="464.2" font-size="3.8" font-weight="normal" text-anchor="middle" fill="#222" style="stroke:none" >0</text>
<line x1="223.80" y1="458.0" x2="223.80" y2="459.5" stroke="#000" stroke-width="0.5"/>
<line x1="228.70" y1="458.0" x2="228.70" y2="459.0" stroke="#000" stroke-width="0.4"/>
<text x="223.80" y="464.2" font-size="3.8" font-weight="normal" text-anchor="middle" fill="#222" style="stroke:none" >0.2</text>
<line x1="233.60" y1="458.0" x2="233.60" y2="459.5" stroke="#000" stroke-width="0.5"/>
<line x1="238.50" y1="458.0" x2="238.50" y2="459.0" stroke="#000" stroke-width="0.4"/>
<text x="233.60" y="464.2" font-size="3.8" font-weight="normal" text-anchor="middle" fill="#222" style="stroke:none" >0.4</text>
<line x1="243.40" y1="458.0" x2="243.40" y2="459.5" stroke="#000" stroke-width="0.5"/>
<line x1="248.30" y1="458.0" x2="248.30" y2="459.0" stroke="#000" stroke-width="0.4"/>
<text x="243.40" y="464.2" font-size="3.8" font-weight="normal" text-anchor="middle" fill="#222" style="stroke:none" >0.6</text>
<line x1="253.20" y1="458.0" x2="253.20" y2="459.5" stroke="#000" stroke-width="0.5"/>
<line x1="258.10" y1="458.0" x2="258.10" y2="459.0" stroke="#000" stroke-width="0.4"/>
<text x="253.20" y="464.2" font-size="3.8" font-weight="normal" text-anchor="middle" fill="#222" style="stroke:none" >0.8</text>
<line x1="263.00" y1="458.0" x2="263.00" y2="459.5" stroke="#000" stroke-width="0.5"/>
<line x1="267.90" y1="458.0" x2="267.90" y2="459.0" stroke="#000" stroke-width="0.4"/>
<text x="263.00" y="464.2" font-size="3.8" font-weight="normal" text-anchor="middle" fill="#222" style="stroke:none" >1</text>
<line x1="272.80" y1="458.0" x2="272.80" y2="459.5" stroke="#000" stroke-width="0.5"/>
<line x1="277.70" y1="458.0" x2="277.70" y2="459.0" stroke="#000" stroke-width="0.4"/>
<text x="272.80" y="464.2" font-size="3.8" font-weight="normal" text-anchor="middle" fill="#222" style="stroke:none" >1.2</text>
<line x1="282.60" y1="458.0" x2="282.60" y2="459.5" stroke="#000" stroke-width="0.5"/>
<line x1="287.50" y1="458.0" x2="287.50" y2="459.0" stroke="#000" stroke-width="0.4"/>
<text x="282.60" y="464.2" font-size="3.8" font-weight="normal" text-anchor="middle" fill="#222" style="stroke:none" >1.4</text>
<line x1="292.40" y1="458.0" x2="292.40" y2="459.5" stroke="#000" stroke-width="0.5"/>
<line x1="297.30" y1="458.0" x2="297.30" y2="459.0" stroke="#000" stroke-width="0.4"/>
<text x="292.40" y="464.2" font-size="3.8" font-weight="normal" text-anchor="middle" fill="#222" style="stroke:none" >1.6</text>
<line x1="302.20" y1="458.0" x2="302.20" y2="459.5" stroke="#000" stroke-width="0.5"/>
<line x1="307.10" y1="458.0" x2="307.10" y2="459.0" stroke="#000" stroke-width="0.4"/>
<text x="302.20" y="464.2" font-size="3.8" font-weight="normal" text-anchor="middle" fill="#222" style="stroke:none" >1.8</text>
<line x1="312.00" y1="458.0" x2="312.00" y2="459.5" stroke="#000" stroke-width="0.5"/>
<line x1="316.90" y1="458.0" x2="316.90" y2="459.0" stroke="#000" stroke-width="0.4"/>
<text x="312.00" y="464.2" font-size="3.8" font-weight="normal" text-anchor="middle" fill="#222" style="stroke:none" >2</text>
<text style="stroke:none" x="263.5" y="471.3" font-size="5.5" text-anchor="middle" fill="#000">Molar Ratio</text>
<text style="stroke:none" x="0" y="0" font-size="5.8" text-anchor="middle" fill="#000" transform="translate(199.8,426.5) rotate(-90)">ΔH (kcal/mol)</text>
<rect x="219.90" y="443.70" width="1.8" height="1.8" fill="#000"/>
<rect x="226.10" y="453.70" width="1.8" height="1.8" fill="#000"/>
<rect x="232.10" y="452.40" width="1.8" height="1.8" fill="#000"/>
<rect x="238.10" y="446.10" width="1.8" height="1.8" fill="#000"/>
<rect x="244.70" y="440.80" width="1.8" height="1.8" fill="#000"/>
<rect x="251.10" y="424.10" width="1.8" height="1.8" fill="#000"/>
<rect x="257.80" y="408.70" width="1.8" height="1.8" fill="#000"/>
<rect x="264.10" y="399.10" width="1.8" height="1.8" fill="#000"/>
<rect x="270.80" y="395.40" width="1.8" height="1.8" fill="#000"/>
<rect x="277.60" y="393.90" width="1.8" height="1.8" fill="#000"/>
<rect x="284.30" y="390.60" width="1.8" height="1.8" fill="#000"/>
<rect x="291.10" y="392.10" width="1.8" height="1.8" fill="#000"/>
<rect x="298.10" y="392.10" width="1.8" height="1.8" fill="#000"/>
<rect x="304.90" y="393.70" width="1.8" height="1.8" fill="#000"/>
<rect x="311.80" y="393.30" width="1.8" height="1.8" fill="#000"/>
<text x="318.8" y="444.2" font-size="8.4" font-weight="bold" text-anchor="end" textLength="30" lengthAdjust="spacingAndGlyphs">N = 0.756</text>
<g transform="translate(318.8,452.8) scale(0.85,1)"><text x="0" y="0" font-size="8.4" font-weight="bold" text-anchor="end">K<tspan font-size="6" dy="1.6">D</tspan><tspan dy="-1.6"> = 112 ± 42.2 nM</tspan></text></g>
<text x="181.5" y="302.3" font-size="10.5" font-weight="bold" text-anchor="start" fill="#000" >E</text>
<polyline points="34.00,455.08 34.82,455.07 35.63,455.07 36.45,455.06 37.27,455.05 38.08,455.03 38.90,455.02 39.72,455.00 40.53,454.99 41.35,454.97 42.17,454.94 42.98,454.92 43.80,454.89 44.62,454.85 45.43,454.81 46.25,454.77 47.07,454.72 47.88,454.66 48.70,454.60 49.52,454.53 50.33,454.44 51.15,454.35 51.97,454.24 52.78,454.12 53.60,453.99 54.42,453.83 55.23,453.66 56.05,453.46 56.87,453.24 57.68,452.99 58.50,452.70 59.32,452.39 60.13,452.03 60.95,451.63 61.77,451.18 62.58,450.67 63.40,450.11 64.22,449.48 65.03,448.79 65.85,448.02 66.67,447.16 67.48,446.23 68.30,445.20 69.12,444.07 69.93,442.85 70.75,441.53 71.57,440.10 72.38,438.58 73.20,436.96 74.02,435.24 74.83,433.45 75.65,431.57 76.47,429.64 77.28,427.65 78.10,425.62 78.92,423.58 79.73,421.53 80.55,419.50 81.37,417.49 82.18,415.53 83.00,413.63 83.82,411.80 84.63,410.05 85.45,408.40 86.27,406.83 87.08,405.37 87.90,404.00 88.72,402.74 89.53,401.58 90.35,400.51 91.17,399.54 91.98,398.65 92.80,397.85 93.62,397.12 94.43,396.47 95.25,395.88 96.07,395.35 96.88,394.88 97.70,394.46 98.52,394.09 99.33,393.75 100.15,393.46 100.97,393.19 101.78,392.96 102.60,392.75 103.42,392.57 104.23,392.41 105.05,392.27 105.87,392.14 106.68,392.03 107.50,391.93 108.32,391.84 109.13,391.77 109.95,391.70 110.77,391.64 111.58,391.59 112.40,391.54 113.22,391.50 114.03,391.46 114.85,391.43 115.67,391.40 116.48,391.38 117.30,391.36 118.12,391.34 118.93,391.32 119.75,391.31 120.57,391.29 121.38,391.28 122.20,391.27 123.02,391.26 123.83,391.26 124.65,391.25 125.47,391.24 126.28,391.24 127.10,391.23 127.92,391.23 128.73,391.23 129.55,391.22 130.37,391.22 131.18,391.22 132.00,391.22" fill="none" stroke="#000" stroke-width="0.8"/>
<polyline points="213.60,451.84 214.41,451.83 215.21,451.81 216.01,451.79 216.82,451.77 217.62,451.74 218.43,451.71 219.23,451.68 220.04,451.64 220.84,451.59 221.65,451.54 222.45,451.49 223.26,451.42 224.06,451.35 224.87,451.27 225.67,451.18 226.48,451.07 227.28,450.95 228.09,450.82 228.89,450.66 229.70,450.49 230.50,450.30 231.31,450.07 232.12,449.83 232.92,449.55 233.72,449.23 234.53,448.88 235.33,448.48 236.14,448.04 236.94,447.54 237.75,446.99 238.56,446.37 239.36,445.69 240.16,444.93 240.97,444.10 241.78,443.18 242.58,442.18 243.38,441.09 244.19,439.91 245.00,438.63 245.80,437.26 246.60,435.80 247.41,434.26 248.21,432.63 249.02,430.93 249.82,429.16 250.63,427.35 251.44,425.49 252.24,423.61 253.04,421.72 253.85,419.84 254.66,417.98 255.46,416.15 256.26,414.38 257.07,412.66 257.88,411.02 258.68,409.46 259.49,407.98 260.29,406.59 261.09,405.30 261.90,404.10 262.70,402.99 263.51,401.97 264.31,401.04 265.12,400.19 265.93,399.42 266.73,398.72 267.53,398.09 268.34,397.53 269.14,397.02 269.95,396.56 270.75,396.16 271.56,395.80 272.37,395.47 273.17,395.19 273.98,394.93 274.78,394.71 275.58,394.51 276.39,394.33 277.19,394.17 278.00,394.03 278.81,393.91 279.61,393.80 280.41,393.71 281.22,393.62 282.02,393.55 282.83,393.48 283.63,393.43 284.44,393.38 285.25,393.33 286.05,393.29 286.86,393.26 287.66,393.23 288.46,393.20 289.27,393.17 290.07,393.15 290.88,393.14 291.69,393.12 292.49,393.10 293.29,393.09 294.10,393.08 294.90,393.07 295.71,393.06 296.51,393.06 297.32,393.05 298.12,393.04 298.93,393.04 299.74,393.03 300.54,393.03 301.34,393.03 302.15,393.02 302.95,393.02 303.76,393.02 304.56,393.02 305.37,393.01 306.18,393.01 306.98,393.01 307.78,393.01 308.59,393.01 309.39,393.01 310.20,393.01" fill="none" stroke="#000" stroke-width="0.8"/>
<text x="-0.8" y="487.8" font-size="10.5" font-weight="bold" text-anchor="start" fill="#000" >F</text>
<rect x="15" y="519.5" width="68" height="32" fill="#f6f6f6" stroke="#9a9a9a" stroke-width="0.8"/>
<rect x="15" y="555.5" width="68.5" height="32" fill="#f9f9f9" stroke="#9a9a9a" stroke-width="0.8"/>
<rect x="17" y="522" width="64" height="8" fill="#e8e8e8" fill-opacity="0.5" filter="url(#blur2)"/>
<rect x="17.5" y="532.8" width="29" height="3.6" rx="1.7" fill="#a0a0a0" filter="url(#blur2)"/>
<rect x="24" y="533.4" width="16" height="2.6" rx="1.2" fill="#888" fill-opacity="0.45" filter="url(#blur1)"/>
<rect x="18" y="537" width="28" height="7" fill="#dcdcdc" fill-opacity="0.6" filter="url(#blur2)"/>
<rect x="53.8" y="533.3" width="27" height="3.0" rx="1.4" fill="#bdbdbd" filter="url(#blur2)"/>
<rect x="54" y="538" width="27" height="8" fill="#e4e4e4" fill-opacity="0.5" filter="url(#blur2)"/>
<circle cx="44.6" cy="543.3" r="0.8" fill="#333"/>
<rect x="17.3" y="569.2" width="29.7" height="4.6" rx="2.3" fill="#555" filter="url(#blur2)"/>
<rect x="18" y="570.2" width="28.3" height="2.8" rx="1.4" fill="#0a0a0a" filter="url(#blur1)"/>
<rect x="53" y="569.6" width="28.7" height="4.2" rx="2.1" fill="#5a5a5a" filter="url(#blur2)"/>
<rect x="53.6" y="570.5" width="27.5" height="2.5" rx="1.2" fill="#111" filter="url(#blur1)"/>
<line x1="11.5" y1="535.2" x2="14.5" y2="535.2" stroke="#000" stroke-width="0.6"/>
<line x1="11.5" y1="569.2" x2="14.5" y2="569.2" stroke="#000" stroke-width="0.6"/>
<text x="2.7" y="537.8" font-size="7" font-weight="bold" textLength="8.3" lengthAdjust="spacingAndGlyphs">72</text>
<text x="2.7" y="571.8" font-size="7" font-weight="bold" textLength="8.3" lengthAdjust="spacingAndGlyphs">55</text>
<text x="84.9" y="538.2" font-size="7.8" textLength="16.6" lengthAdjust="spacingAndGlyphs">Sgo1</text>
<text x="85.6" y="574.6" font-size="7.8" textLength="24.2" lengthAdjust="spacingAndGlyphs">Tubulin</text>
<text x="0" y="0" font-size="7.4" transform="translate(29.5,516.5) rotate(-36.3)">siRNA control</text>
<text x="0" y="0" font-size="7.4" transform="translate(65.5,516.5) rotate(-38.5)">siRNA Sgo1</text>
<line x1="145.8" y1="504.4" x2="145.8" y2="566.5" stroke="#000" stroke-width="0.9"/>
<line x1="145.8" y1="566.5" x2="208.8" y2="566.5" stroke="#000" stroke-width="0.9"/>
<line x1="143.5" y1="504.4" x2="145.8" y2="504.4" stroke="#000" stroke-width="0.8"/>
<text x="143" y="506.7" font-size="6.6" font-weight="normal" text-anchor="end" fill="#000" >100</text>
<line x1="143.5" y1="535.5" x2="145.8" y2="535.5" stroke="#000" stroke-width="0.8"/>
<text x="143" y="537.8" font-size="6.6" font-weight="normal" text-anchor="end" fill="#000" >50</text>
<line x1="143.5" y1="566.5" x2="145.8" y2="566.5" stroke="#000" stroke-width="0.8"/>
<text x="143" y="568.8" font-size="6.6" font-weight="normal" text-anchor="end" fill="#000" >0</text>
<rect x="155.2" y="504.6" width="17.5" height="61.9" fill="#404040" stroke="#111" stroke-width="0.5"/>
<rect x="182" y="549" width="17.5" height="17.5" fill="#7b2f52" stroke="#2a1020" stroke-width="0.5"/>
<line x1="190.8" y1="549" x2="190.8" y2="544.4" stroke="#000" stroke-width="0.8"/>
<line x1="185.8" y1="544.4" x2="195.8" y2="544.4" stroke="#000" stroke-width="0.8"/>
<line x1="164" y1="566.5" x2="164" y2="568.8" stroke="#000" stroke-width="0.8"/>
<line x1="190.8" y1="566.5" x2="190.8" y2="568.8" stroke="#000" stroke-width="0.8"/>
<text x="190.8" y="543.6" font-size="8" font-weight="bold" text-anchor="middle" fill="#000" >****</text>
<text x="0" y="0" font-size="6.5" font-weight="bold" text-anchor="middle" transform="translate(125.4,538) rotate(-90)">Normalized</text>
<text x="0" y="0" font-size="6.6" font-weight="bold" text-anchor="middle" transform="translate(133.2,537) rotate(-90)">Sgo1/Tubulin ratio</text>
<text x="0" y="0" font-size="7.2" transform="translate(132.5,601) rotate(-34.9)">siRNA control</text>
<text x="0" y="0" font-size="7.2" transform="translate(162,599) rotate(-37.4)">siRNA Sgo1</text>
<text x="276.3" y="488.3" font-size="10.5" font-weight="bold" text-anchor="start" fill="#000" >G</text>
<rect x="287.4" y="520.4" width="88.2" height="32.1" fill="#f7f7f7" stroke="#888" stroke-width="0.8"/>
<rect x="287.4" y="555.4" width="88.2" height="32.6" fill="#f8f8f8" stroke="#888" stroke-width="0.8"/>
<rect x="287.7" y="532.8" width="23.100000000000023" height="8.2" rx="3" fill="#aaa" fill-opacity="0.4" filter="url(#blur2)"/>
<rect x="288.7" y="534.3" width="21.100000000000023" height="5.2" rx="2.4" fill="#5a5a5a" filter="url(#blur2)"/>
<rect x="311.8" y="533.6" width="20.69999999999999" height="8.6" rx="3" fill="#aaa" fill-opacity="0.4" filter="url(#blur2)"/>
<rect x="312.8" y="535.1" width="18.69999999999999" height="5.6" rx="2.4" fill="#505050" filter="url(#blur2)"/>
<rect x="332.9" y="532.8" width="21.200000000000045" height="8.4" rx="3" fill="#aaa" fill-opacity="0.4" filter="url(#blur2)"/>
<rect x="333.9" y="534.3" width="19.200000000000045" height="5.4" rx="2.4" fill="#555" filter="url(#blur2)"/>
<rect x="354.5" y="533.4" width="20.30000000000001" height="8.4" rx="3" fill="#aaa" fill-opacity="0.4" filter="url(#blur2)"/>
<rect x="355.5" y="534.9" width="18.30000000000001" height="5.4" rx="2.4" fill="#525252" filter="url(#blur2)"/>
<rect x="289" y="569.5" width="20.5" height="3.6" rx="1.7" fill="#333" filter="url(#blur2)"/>
<rect x="312" y="570.4" width="19" height="3.0" rx="1.7" fill="#404040" filter="url(#blur2)"/>
<rect x="333.5" y="569.8000000000001" width="19.5" height="3.6" rx="1.7" fill="#303030" filter="url(#blur2)"/>
<rect x="355" y="570.1" width="19.30000000000001" height="3.6" rx="1.7" fill="#2e2e2e" filter="url(#blur2)"/>
<line x1="284" y1="537" x2="287.4" y2="537" stroke="#000" stroke-width="0.6"/>
<line x1="284" y1="570" x2="287.4" y2="570" stroke="#000" stroke-width="0.6"/>
<text x="275.5" y="539.8" font-size="7" font-weight="bold" textLength="8.3" lengthAdjust="spacingAndGlyphs">72</text>
<text x="275.5" y="570.8" font-size="7" font-weight="bold" textLength="8.3" lengthAdjust="spacingAndGlyphs">55</text>
<text x="377.2" y="540.9" font-size="7.9" textLength="34.6" lengthAdjust="spacingAndGlyphs">Sgo1-GFP</text>
<text x="377.7" y="574.5" font-size="7.6" textLength="23.1" lengthAdjust="spacingAndGlyphs">Tubulin</text>
<text x="0" y="0" font-size="7.8" transform="translate(298.3,519.3) rotate(-38)">Sgo1-GFP</text>
<text x="0" y="0" font-size="7.8" transform="translate(321.8,518.3) rotate(-38)">Sgo1<tspan font-size="5.9" dy="1.3">Nmut</tspan><tspan dy="-1.3">-GFP</tspan></text>
<text x="0" y="0" font-size="7.8" transform="translate(343.3,518.3) rotate(-38)">Sgo1<tspan font-size="5.9" dy="1.3">4A</tspan><tspan dy="-1.3">-GFP</tspan></text>
<text x="0" y="0" font-size="7.8" transform="translate(363.3,518.3) rotate(-38)">Sgo1<tspan font-size="5.9" dy="1.3">Nmut/4A</tspan><tspan dy="-1.3">-GFP</tspan></text>
</svg></body></html>
